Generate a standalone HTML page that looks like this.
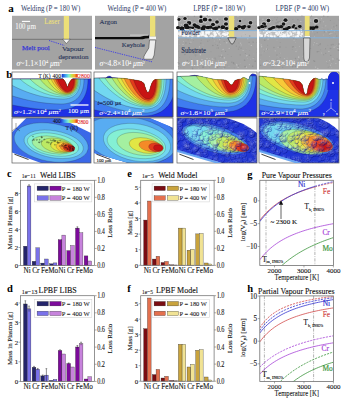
<!DOCTYPE html><html><head><meta charset="utf-8"><style>html,body{margin:0;padding:0;background:#fff;width:345px;height:400px;overflow:hidden}svg{display:block}</style></head><body><svg width="345" height="400" viewBox="0 0 345 400" font-family="Liberation Serif, serif">
<rect x="0" y="0" width="345" height="400" fill="#fff" />
<filter id="grain" x="0" y="0" width="100%" height="100%">
<feTurbulence type="fractalNoise" baseFrequency="0.9" numOctaves="1" seed="3" result="n"/>
<feColorMatrix in="n" type="matrix" values="0 0 0 0 0.5  0 0 0 0 0.5  0 0 0 0 0.5  0 0 0 0.22 0"/>
<feComposite in2="SourceGraphic" operator="in"/>
</filter>
<filter id="bl" x="-50%" y="-50%" width="200%" height="200%"><feGaussianBlur stdDeviation="0.35"/></filter>
<text x="8.3" y="11.6" font-size="11" fill="#000" text-anchor="start" font-weight="bold" >a</text>
<text x="21.1" y="11" font-size="8.2" fill="#2c3a66" stroke="#2c3a66" stroke-width="0.02" textLength="59.1" lengthAdjust="spacingAndGlyphs">Welding (P = 180 W)</text>
<text x="107.6" y="11" font-size="8.2" fill="#2c3a66" stroke="#2c3a66" stroke-width="0.02" textLength="58.7" lengthAdjust="spacingAndGlyphs">Welding (P = 400 W)</text>
<text x="193.3" y="11" font-size="8.2" fill="#2c3a66" stroke="#2c3a66" stroke-width="0.02" textLength="52.1" lengthAdjust="spacingAndGlyphs">LPBF (P = 180 W)</text>
<text x="275.4" y="11" font-size="8.2" fill="#2c3a66" stroke="#2c3a66" stroke-width="0.02" textLength="53.7" lengthAdjust="spacingAndGlyphs">LPBF (P = 400 W)</text>
<rect x="12" y="15.8" width="80" height="53.8" fill="#a3a3a3" />
<rect x="95" y="15.8" width="79" height="53.8" fill="#a3a3a3" />
<rect x="178" y="15.8" width="79" height="53.8" fill="#a3a3a3" />
<rect x="259" y="15.8" width="80" height="53.8" fill="#a3a3a3" />
<rect x="12" y="16" width="80" height="23.3" fill="#a9a9a9" />
<line x1="12" y1="39.3" x2="92" y2="39.3" stroke="#6e6e6e" stroke-width="0.9" />
<rect x="63.8" y="16" width="5.2" height="23.3" fill="#ecdf78" />
<path d="M62.6,39.2 L70.2,39.2 L66.4,43.6 Z" fill="#f2f2f2" stroke="#444" stroke-width="0.5"/>
<line x1="21.9" y1="21.4" x2="30.1" y2="21.4" stroke="#fff" stroke-width="1.1" />
<text x="15.3" y="28.6" font-size="7.6" fill="#f8f8f8" stroke="#f8f8f8" stroke-width="0.08" textLength="20.6" lengthAdjust="spacingAndGlyphs" >100 μm</text>
<text x="44.2" y="24.2" font-size="7.4" fill="#f0e278" stroke="#f0e278" stroke-width="0.05" textLength="15.6" lengthAdjust="spacingAndGlyphs" >Laser</text>
<line x1="49" y1="40.5" x2="64.5" y2="45.5" stroke="#3a3ae8" stroke-width="0.9" stroke-dasharray="1.3,1"/>
<text x="22" y="49.9" font-size="7.0" fill="#3a3ad4" stroke="#3a3ad4" stroke-width="0.25" textLength="27.8" lengthAdjust="spacingAndGlyphs" >Melt pool</text>
<text x="61.9" y="51.1" font-size="7.0" fill="#283458" stroke="#283458" stroke-width="0.1" textLength="22.0" lengthAdjust="spacingAndGlyphs" >Vapour</text>
<text x="58.4" y="58.6" font-size="7.0" fill="#283458" stroke="#283458" stroke-width="0.1" textLength="30.2" lengthAdjust="spacingAndGlyphs" >depression</text>
<text x="16.6" y="65.5" font-size="7.8" fill="#fff" stroke="#fff" stroke-width="0.05" textLength="45.3" lengthAdjust="spacingAndGlyphs"><tspan font-style="italic">σ</tspan>~1.1×10<tspan font-size="4.4" dy="-2.6">4</tspan><tspan dy="2.6"> </tspan><tspan font-style="italic">μ</tspan>m<tspan font-size="4.4" dy="-2.6">2</tspan></text>
<path d="M95,36.9 L140,36.9 Q144,35.6 149,35.6 L149,38.2 Q145,38.4 143,39.2 L95,39.2 Z" fill="#0c0c0c"/>
<line x1="130" y1="35.1" x2="148" y2="35.1" stroke="#e2e2e2" stroke-width="0.7" />
<rect x="150" y="16" width="5.3" height="20.6" fill="#ecdf78" />
<rect x="149.5" y="36.6" width="6.5" height="2.8" fill="#f6f6f6" />
<path d="M149.5,40 L155.8,40 L154.2,55 L152.5,59.2 L143.7,59.2 Q143.6,56 144.9,54.4 L148.8,48 Z" fill="#eeeeee" stroke="#3a3a3a" stroke-width="0.55"/>
<text x="99.6" y="23.7" font-size="6.8" fill="#283458" stroke="#283458" stroke-width="0.1" textLength="17.4" lengthAdjust="spacingAndGlyphs" >Argon</text>
<text x="121.7" y="47" font-size="7.0" fill="#283458" stroke="#283458" stroke-width="0.1" textLength="23.2" lengthAdjust="spacingAndGlyphs" >Keyhole</text>
<line x1="95" y1="47.4" x2="152" y2="61.8" stroke="#3a3ae8" stroke-width="0.9" stroke-dasharray="1.3,1"/>
<text x="99.6" y="66.2" font-size="7.8" fill="#fff" stroke="#fff" stroke-width="0.05" textLength="45.4" lengthAdjust="spacingAndGlyphs"><tspan font-style="italic">σ</tspan>~4.8×10<tspan font-size="4.4" dy="-2.6">4</tspan><tspan dy="2.6"> </tspan><tspan font-style="italic">μ</tspan>m<tspan font-size="4.4" dy="-2.6">2</tspan></text>
<rect x="178" y="30.6" width="79" height="7.2" fill="#bdbdbd" />
<circle cx="178.6" cy="30.3" r="0.85" fill="#fafafa" opacity="0.8"/>
<circle cx="213.6" cy="30.5" r="0.60" fill="#fafafa" opacity="0.8"/>
<circle cx="190.1" cy="35.2" r="0.63" fill="#fafafa" opacity="0.8"/>
<circle cx="216.5" cy="34.5" r="0.62" fill="#fafafa" opacity="0.8"/>
<circle cx="205.9" cy="32.9" r="0.87" fill="#fafafa" opacity="0.8"/>
<circle cx="229.8" cy="30.2" r="0.52" fill="#fafafa" opacity="0.8"/>
<circle cx="226.9" cy="32.5" r="0.68" fill="#fafafa" opacity="0.8"/>
<circle cx="195.2" cy="32.2" r="1.36" fill="#fafafa" opacity="0.8"/>
<circle cx="188.9" cy="31.1" r="1.03" fill="#fafafa" opacity="0.8"/>
<circle cx="206.5" cy="36.7" r="1.25" fill="#fafafa" opacity="0.8"/>
<circle cx="196.5" cy="31.0" r="1.25" fill="#fafafa" opacity="0.8"/>
<circle cx="229.4" cy="29.7" r="1.16" fill="#fafafa" opacity="0.8"/>
<circle cx="223.2" cy="34.4" r="0.70" fill="#fafafa" opacity="0.8"/>
<circle cx="219.4" cy="35.0" r="0.67" fill="#fafafa" opacity="0.8"/>
<circle cx="211.3" cy="31.1" r="0.54" fill="#fafafa" opacity="0.8"/>
<circle cx="195.5" cy="32.0" r="0.86" fill="#fafafa" opacity="0.8"/>
<circle cx="211.6" cy="35.8" r="1.37" fill="#fafafa" opacity="0.8"/>
<circle cx="228.8" cy="37.0" r="1.21" fill="#fafafa" opacity="0.8"/>
<circle cx="193.9" cy="30.8" r="1.06" fill="#fafafa" opacity="0.8"/>
<circle cx="206.4" cy="34.6" r="0.58" fill="#fafafa" opacity="0.8"/>
<circle cx="188.0" cy="36.4" r="1.04" fill="#fafafa" opacity="0.8"/>
<circle cx="214.2" cy="30.2" r="0.86" fill="#fafafa" opacity="0.8"/>
<circle cx="225.3" cy="34.4" r="1.39" fill="#fafafa" opacity="0.8"/>
<circle cx="188.2" cy="32.9" r="1.22" fill="#fafafa" opacity="0.8"/>
<circle cx="201.1" cy="35.4" r="1.01" fill="#fafafa" opacity="0.8"/>
<circle cx="184.1" cy="30.2" r="1.38" fill="#fafafa" opacity="0.8"/>
<circle cx="184.2" cy="31.0" r="0.80" fill="#fafafa" opacity="0.8"/>
<circle cx="215.1" cy="35.9" r="0.93" fill="#fafafa" opacity="0.8"/>
<circle cx="203.9" cy="35.4" r="0.75" fill="#fafafa" opacity="0.8"/>
<circle cx="197.4" cy="34.1" r="1.07" fill="#fafafa" opacity="0.8"/>
<circle cx="180.0" cy="30.3" r="0.62" fill="#fafafa" opacity="0.8"/>
<circle cx="215.7" cy="34.7" r="1.38" fill="#fafafa" opacity="0.8"/>
<circle cx="217.9" cy="31.4" r="1.19" fill="#fafafa" opacity="0.8"/>
<circle cx="229.2" cy="32.1" r="0.51" fill="#fafafa" opacity="0.8"/>
<circle cx="197.5" cy="31.6" r="0.66" fill="#fafafa" opacity="0.8"/>
<circle cx="180.3" cy="30.4" r="1.28" fill="#fafafa" opacity="0.8"/>
<circle cx="180.6" cy="34.1" r="0.69" fill="#fafafa" opacity="0.8"/>
<circle cx="188.1" cy="35.7" r="0.77" fill="#fafafa" opacity="0.8"/>
<circle cx="187.6" cy="32.9" r="1.13" fill="#fafafa" opacity="0.8"/>
<circle cx="205.3" cy="35.9" r="0.86" fill="#fafafa" opacity="0.8"/>
<circle cx="205.3" cy="34.9" r="0.92" fill="#fafafa" opacity="0.8"/>
<circle cx="215.3" cy="33.0" r="0.62" fill="#fafafa" opacity="0.8"/>
<circle cx="184.4" cy="35.4" r="1.17" fill="#fafafa" opacity="0.8"/>
<circle cx="227.0" cy="34.7" r="1.02" fill="#fafafa" opacity="0.8"/>
<circle cx="186.6" cy="35.9" r="0.61" fill="#fafafa" opacity="0.8"/>
<circle cx="200.1" cy="30.6" r="0.84" fill="#fafafa" opacity="0.8"/>
<circle cx="194.0" cy="32.7" r="1.14" fill="#fafafa" opacity="0.8"/>
<circle cx="206.2" cy="31.3" r="1.20" fill="#fafafa" opacity="0.8"/>
<circle cx="216.2" cy="35.7" r="0.53" fill="#fafafa" opacity="0.8"/>
<circle cx="210.0" cy="36.2" r="0.73" fill="#fafafa" opacity="0.8"/>
<circle cx="188.5" cy="35.6" r="0.83" fill="#fafafa" opacity="0.8"/>
<circle cx="198.9" cy="35.6" r="0.85" fill="#fafafa" opacity="0.8"/>
<circle cx="188.3" cy="31.1" r="0.81" fill="#fafafa" opacity="0.8"/>
<circle cx="214.3" cy="32.3" r="1.19" fill="#fafafa" opacity="0.8"/>
<circle cx="181.4" cy="31.4" r="1.06" fill="#fafafa" opacity="0.8"/>
<circle cx="202.9" cy="33.2" r="1.34" fill="#fafafa" opacity="0.8"/>
<circle cx="192.4" cy="30.9" r="0.53" fill="#fafafa" opacity="0.8"/>
<circle cx="203.1" cy="31.7" r="0.93" fill="#fafafa" opacity="0.8"/>
<circle cx="178.3" cy="29.5" r="0.84" fill="#fafafa" opacity="0.8"/>
<circle cx="217.4" cy="31.8" r="1.32" fill="#fafafa" opacity="0.8"/>
<circle cx="208.1" cy="32.5" r="1.20" fill="#fafafa" opacity="0.8"/>
<circle cx="190.1" cy="34.0" r="1.26" fill="#fafafa" opacity="0.8"/>
<circle cx="206.1" cy="31.9" r="0.59" fill="#fafafa" opacity="0.8"/>
<circle cx="207.9" cy="30.9" r="0.84" fill="#fafafa" opacity="0.8"/>
<circle cx="206.2" cy="36.6" r="1.11" fill="#fafafa" opacity="0.8"/>
<circle cx="205.0" cy="35.9" r="0.78" fill="#fafafa" opacity="0.8"/>
<circle cx="198.2" cy="34.6" r="1.00" fill="#fafafa" opacity="0.8"/>
<circle cx="189.5" cy="32.6" r="1.24" fill="#fafafa" opacity="0.8"/>
<circle cx="190.6" cy="34.8" r="0.54" fill="#fafafa" opacity="0.8"/>
<circle cx="227.6" cy="34.6" r="0.79" fill="#fafafa" opacity="0.8"/>
<circle cx="229.1" cy="35.5" r="0.56" fill="#fafafa" opacity="0.8"/>
<circle cx="190.9" cy="33.2" r="1.40" fill="#fafafa" opacity="0.8"/>
<circle cx="185.3" cy="29.9" r="0.78" fill="#fafafa" opacity="0.8"/>
<circle cx="180.3" cy="32.6" r="0.98" fill="#fafafa" opacity="0.8"/>
<circle cx="200.9" cy="30.6" r="0.52" fill="#fafafa" opacity="0.8"/>
<circle cx="219.7" cy="32.8" r="0.93" fill="#fafafa" opacity="0.8"/>
<circle cx="202.9" cy="34.6" r="1.31" fill="#fafafa" opacity="0.8"/>
<circle cx="221.0" cy="35.0" r="0.80" fill="#fafafa" opacity="0.8"/>
<circle cx="186.8" cy="30.2" r="1.27" fill="#fafafa" opacity="0.8"/>
<circle cx="181.0" cy="33.8" r="1.32" fill="#fafafa" opacity="0.8"/>
<circle cx="194.8" cy="32.4" r="0.88" fill="#fafafa" opacity="0.8"/>
<circle cx="227.1" cy="34.6" r="1.25" fill="#fafafa" opacity="0.8"/>
<circle cx="180.0" cy="35.0" r="0.91" fill="#fafafa" opacity="0.8"/>
<circle cx="198.9" cy="35.6" r="1.16" fill="#fafafa" opacity="0.8"/>
<circle cx="225.3" cy="35.0" r="1.32" fill="#fafafa" opacity="0.8"/>
<circle cx="200.3" cy="33.7" r="1.21" fill="#fafafa" opacity="0.8"/>
<circle cx="201.6" cy="30.5" r="1.03" fill="#fafafa" opacity="0.8"/>
<circle cx="223.3" cy="36.0" r="0.61" fill="#fafafa" opacity="0.8"/>
<circle cx="197.8" cy="31.2" r="0.81" fill="#fafafa" opacity="0.8"/>
<circle cx="227.9" cy="32.7" r="0.78" fill="#fafafa" opacity="0.8"/>
<circle cx="192.2" cy="32.8" r="1.10" fill="#fafafa" opacity="0.8"/>
<circle cx="195.8" cy="30.9" r="0.70" fill="#fafafa" opacity="0.8"/>
<circle cx="191.5" cy="36.3" r="0.65" fill="#fafafa" opacity="0.8"/>
<circle cx="217.2" cy="30.3" r="1.21" fill="#fafafa" opacity="0.8"/>
<circle cx="191.8" cy="35.3" r="0.89" fill="#fafafa" opacity="0.8"/>
<circle cx="182.1" cy="30.2" r="1.22" fill="#fafafa" opacity="0.8"/>
<circle cx="206.2" cy="33.1" r="0.82" fill="#fafafa" opacity="0.8"/>
<circle cx="214.0" cy="33.1" r="0.56" fill="#fafafa" opacity="0.8"/>
<circle cx="209.3" cy="31.9" r="1.26" fill="#fafafa" opacity="0.8"/>
<circle cx="206.5" cy="35.3" r="0.61" fill="#fafafa" opacity="0.8"/>
<circle cx="214.8" cy="34.1" r="1.27" fill="#fafafa" opacity="0.8"/>
<circle cx="224.0" cy="33.6" r="1.03" fill="#fafafa" opacity="0.8"/>
<circle cx="217.9" cy="31.5" r="0.99" fill="#fafafa" opacity="0.8"/>
<circle cx="218.9" cy="34.0" r="0.99" fill="#fafafa" opacity="0.8"/>
<circle cx="222.5" cy="36.8" r="0.73" fill="#fafafa" opacity="0.8"/>
<circle cx="181.9" cy="34.1" r="0.63" fill="#fafafa" opacity="0.8"/>
<circle cx="228.4" cy="33.1" r="0.98" fill="#fafafa" opacity="0.8"/>
<circle cx="220.5" cy="36.0" r="0.63" fill="#fafafa" opacity="0.8"/>
<circle cx="201.6" cy="30.9" r="0.91" fill="#fafafa" opacity="0.8"/>
<circle cx="184.9" cy="36.1" r="0.82" fill="#fafafa" opacity="0.8"/>
<circle cx="198.2" cy="36.2" r="1.24" fill="#fafafa" opacity="0.8"/>
<circle cx="195.5" cy="33.2" r="1.10" fill="#fafafa" opacity="0.8"/>
<circle cx="187.8" cy="30.5" r="1.27" fill="#fafafa" opacity="0.8"/>
<circle cx="186.4" cy="34.8" r="1.16" fill="#fafafa" opacity="0.8"/>
<circle cx="208.8" cy="32.1" r="1.27" fill="#fafafa" opacity="0.8"/>
<circle cx="218.9" cy="30.0" r="1.31" fill="#fafafa" opacity="0.8"/>
<circle cx="211.1" cy="31.7" r="0.65" fill="#fafafa" opacity="0.8"/>
<circle cx="183.1" cy="35.6" r="1.26" fill="#fafafa" opacity="0.8"/>
<circle cx="196.1" cy="30.8" r="0.57" fill="#fafafa" opacity="0.8"/>
<circle cx="199.5" cy="31.7" r="0.55" fill="#fafafa" opacity="0.8"/>
<circle cx="193.5" cy="35.7" r="0.56" fill="#fafafa" opacity="0.8"/>
<circle cx="199.0" cy="33.4" r="0.65" fill="#fafafa" opacity="0.8"/>
<circle cx="179.9" cy="30.1" r="0.63" fill="#fafafa" opacity="0.8"/>
<circle cx="228.7" cy="36.0" r="1.13" fill="#fafafa" opacity="0.8"/>
<circle cx="224.8" cy="31.9" r="0.72" fill="#fafafa" opacity="0.8"/>
<circle cx="223.2" cy="34.0" r="1.33" fill="#fafafa" opacity="0.8"/>
<circle cx="196.7" cy="32.6" r="1.15" fill="#fafafa" opacity="0.8"/>
<circle cx="223.9" cy="30.7" r="0.74" fill="#fafafa" opacity="0.8"/>
<circle cx="178.7" cy="33.7" r="1.33" fill="#fafafa" opacity="0.8"/>
<circle cx="207.5" cy="30.6" r="1.12" fill="#fafafa" opacity="0.8"/>
<circle cx="211.8" cy="30.3" r="1.32" fill="#fafafa" opacity="0.8"/>
<circle cx="212.3" cy="33.2" r="0.81" fill="#fafafa" opacity="0.8"/>
<circle cx="186.3" cy="33.0" r="0.83" fill="#fafafa" opacity="0.8"/>
<circle cx="190.1" cy="34.3" r="1.10" fill="#fafafa" opacity="0.8"/>
<circle cx="227.6" cy="36.8" r="0.92" fill="#fafafa" opacity="0.8"/>
<circle cx="215.2" cy="32.3" r="0.89" fill="#fafafa" opacity="0.8"/>
<circle cx="207.5" cy="36.9" r="0.54" fill="#fafafa" opacity="0.8"/>
<circle cx="202.1" cy="32.0" r="1.22" fill="#fafafa" opacity="0.8"/>
<circle cx="227.4" cy="33.0" r="0.57" fill="#fafafa" opacity="0.8"/>
<circle cx="208.9" cy="33.9" r="1.11" fill="#fafafa" opacity="0.8"/>
<circle cx="218.4" cy="33.0" r="0.99" fill="#fafafa" opacity="0.8"/>
<circle cx="217.9" cy="29.7" r="0.72" fill="#fafafa" opacity="0.8"/>
<circle cx="213.8" cy="36.8" r="1.35" fill="#fafafa" opacity="0.8"/>
<circle cx="192.7" cy="36.8" r="0.75" fill="#fafafa" opacity="0.8"/>
<circle cx="201.5" cy="30.7" r="1.04" fill="#fafafa" opacity="0.8"/>
<circle cx="198.4" cy="34.6" r="1.36" fill="#fafafa" opacity="0.8"/>
<circle cx="184.6" cy="34.4" r="1.04" fill="#fafafa" opacity="0.8"/>
<circle cx="192.3" cy="29.8" r="1.35" fill="#fafafa" opacity="0.8"/>
<circle cx="214.1" cy="34.2" r="0.59" fill="#fafafa" opacity="0.8"/>
<circle cx="224.8" cy="32.5" r="0.92" fill="#fafafa" opacity="0.8"/>
<circle cx="206.9" cy="32.8" r="1.36" fill="#fafafa" opacity="0.8"/>
<circle cx="202.3" cy="34.6" r="1.20" fill="#fafafa" opacity="0.8"/>
<circle cx="226.5" cy="30.8" r="0.81" fill="#fafafa" opacity="0.8"/>
<circle cx="227.4" cy="34.0" r="0.84" fill="#fafafa" opacity="0.8"/>
<circle cx="223.8" cy="30.4" r="0.73" fill="#fafafa" opacity="0.8"/>
<circle cx="181.6" cy="34.5" r="0.94" fill="#fafafa" opacity="0.8"/>
<circle cx="193.8" cy="32.8" r="0.73" fill="#fafafa" opacity="0.8"/>
<circle cx="214.9" cy="35.2" r="0.84" fill="#fafafa" opacity="0.8"/>
<circle cx="223.2" cy="29.8" r="1.01" fill="#fafafa" opacity="0.8"/>
<circle cx="186.0" cy="30.4" r="1.00" fill="#fafafa" opacity="0.8"/>
<circle cx="184.1" cy="27.3" r="0.45" fill="#8e8e8e" opacity="0.8"/>
<circle cx="249.1" cy="42.3" r="0.66" fill="#8e8e8e" opacity="0.8"/>
<circle cx="185.9" cy="43.0" r="0.72" fill="#8e8e8e" opacity="0.8"/>
<circle cx="219.3" cy="66.1" r="0.74" fill="#8e8e8e" opacity="0.8"/>
<circle cx="207.3" cy="16.0" r="0.68" fill="#8e8e8e" opacity="0.8"/>
<circle cx="188.0" cy="16.5" r="0.67" fill="#8e8e8e" opacity="0.8"/>
<circle cx="244.6" cy="60.3" r="0.78" fill="#8e8e8e" opacity="0.8"/>
<circle cx="193.9" cy="20.3" r="0.36" fill="#8e8e8e" opacity="0.8"/>
<circle cx="255.2" cy="21.9" r="0.38" fill="#8e8e8e" opacity="0.8"/>
<circle cx="179.6" cy="18.6" r="0.32" fill="#8e8e8e" opacity="0.8"/>
<circle cx="205.9" cy="24.7" r="0.45" fill="#8e8e8e" opacity="0.8"/>
<circle cx="251.4" cy="24.9" r="0.71" fill="#8e8e8e" opacity="0.8"/>
<circle cx="236.3" cy="46.1" r="0.59" fill="#8e8e8e" opacity="0.8"/>
<circle cx="238.8" cy="47.1" r="0.41" fill="#8e8e8e" opacity="0.8"/>
<circle cx="204.0" cy="28.9" r="0.50" fill="#8e8e8e" opacity="0.8"/>
<circle cx="256.0" cy="38.6" r="0.33" fill="#8e8e8e" opacity="0.8"/>
<circle cx="215.7" cy="59.1" r="0.52" fill="#8e8e8e" opacity="0.8"/>
<circle cx="233.5" cy="20.8" r="0.33" fill="#8e8e8e" opacity="0.8"/>
<circle cx="230.3" cy="18.6" r="0.45" fill="#8e8e8e" opacity="0.8"/>
<circle cx="208.4" cy="26.3" r="0.32" fill="#8e8e8e" opacity="0.8"/>
<circle cx="178.5" cy="66.4" r="0.64" fill="#8e8e8e" opacity="0.8"/>
<circle cx="253.2" cy="42.1" r="0.78" fill="#8e8e8e" opacity="0.8"/>
<circle cx="246.1" cy="48.8" r="0.56" fill="#8e8e8e" opacity="0.8"/>
<circle cx="218.2" cy="27.9" r="0.49" fill="#8e8e8e" opacity="0.8"/>
<circle cx="235.1" cy="26.3" r="0.72" fill="#8e8e8e" opacity="0.8"/>
<circle cx="218.3" cy="48.0" r="0.71" fill="#8e8e8e" opacity="0.8"/>
<circle cx="229.0" cy="23.3" r="0.42" fill="#8e8e8e" opacity="0.8"/>
<circle cx="178.1" cy="17.5" r="0.78" fill="#8e8e8e" opacity="0.8"/>
<circle cx="224.8" cy="67.3" r="0.69" fill="#8e8e8e" opacity="0.8"/>
<circle cx="202.9" cy="67.3" r="0.76" fill="#8e8e8e" opacity="0.8"/>
<circle cx="214.0" cy="20.4" r="0.46" fill="#8e8e8e" opacity="0.8"/>
<circle cx="191.1" cy="35.4" r="0.34" fill="#8e8e8e" opacity="0.8"/>
<circle cx="234.3" cy="67.9" r="0.41" fill="#8e8e8e" opacity="0.8"/>
<circle cx="239.6" cy="47.0" r="0.54" fill="#8e8e8e" opacity="0.8"/>
<circle cx="249.7" cy="36.0" r="0.71" fill="#8e8e8e" opacity="0.8"/>
<circle cx="180.7" cy="67.2" r="0.39" fill="#8e8e8e" opacity="0.8"/>
<circle cx="178.3" cy="62.7" r="0.66" fill="#8e8e8e" opacity="0.8"/>
<circle cx="231.3" cy="56.6" r="0.49" fill="#8e8e8e" opacity="0.8"/>
<circle cx="187.0" cy="32.9" r="0.78" fill="#8e8e8e" opacity="0.8"/>
<circle cx="255.5" cy="28.2" r="0.52" fill="#8e8e8e" opacity="0.8"/>
<circle cx="213.6" cy="63.9" r="0.30" fill="#8e8e8e" opacity="0.8"/>
<circle cx="243.5" cy="29.4" r="0.57" fill="#8e8e8e" opacity="0.8"/>
<circle cx="188.2" cy="20.5" r="0.74" fill="#8e8e8e" opacity="0.8"/>
<circle cx="217.7" cy="67.5" r="0.73" fill="#8e8e8e" opacity="0.8"/>
<circle cx="237.4" cy="20.0" r="0.59" fill="#8e8e8e" opacity="0.8"/>
<circle cx="256.4" cy="42.7" r="0.33" fill="#8e8e8e" opacity="0.8"/>
<circle cx="192.6" cy="68.4" r="0.79" fill="#8e8e8e" opacity="0.8"/>
<circle cx="197.5" cy="32.9" r="0.66" fill="#8e8e8e" opacity="0.8"/>
<circle cx="218.1" cy="25.8" r="0.79" fill="#8e8e8e" opacity="0.8"/>
<circle cx="227.0" cy="35.4" r="0.31" fill="#8e8e8e" opacity="0.8"/>
<circle cx="218.3" cy="55.9" r="0.39" fill="#8e8e8e" opacity="0.8"/>
<circle cx="184.9" cy="54.4" r="0.76" fill="#8e8e8e" opacity="0.8"/>
<circle cx="207.8" cy="41.1" r="0.62" fill="#8e8e8e" opacity="0.8"/>
<circle cx="219.1" cy="22.8" r="0.44" fill="#8e8e8e" opacity="0.8"/>
<circle cx="194.3" cy="26.5" r="0.34" fill="#8e8e8e" opacity="0.8"/>
<circle cx="208.9" cy="27.6" r="0.72" fill="#8e8e8e" opacity="0.8"/>
<circle cx="203.4" cy="67.0" r="0.71" fill="#8e8e8e" opacity="0.8"/>
<circle cx="199.3" cy="24.2" r="0.59" fill="#8e8e8e" opacity="0.8"/>
<circle cx="215.4" cy="44.4" r="0.36" fill="#8e8e8e" opacity="0.8"/>
<circle cx="220.0" cy="56.2" r="0.52" fill="#8e8e8e" opacity="0.8"/>
<circle cx="198.2" cy="64.9" r="0.45" fill="#8e8e8e" opacity="0.8"/>
<circle cx="256.6" cy="52.5" r="0.30" fill="#8e8e8e" opacity="0.8"/>
<circle cx="213.3" cy="23.9" r="0.69" fill="#8e8e8e" opacity="0.8"/>
<circle cx="211.3" cy="20.5" r="0.78" fill="#8e8e8e" opacity="0.8"/>
<circle cx="241.1" cy="48.2" r="0.58" fill="#8e8e8e" opacity="0.8"/>
<circle cx="183.9" cy="68.1" r="0.45" fill="#8e8e8e" opacity="0.8"/>
<circle cx="219.4" cy="42.0" r="0.54" fill="#8e8e8e" opacity="0.8"/>
<circle cx="179.4" cy="63.3" r="0.55" fill="#8e8e8e" opacity="0.8"/>
<circle cx="209.1" cy="61.6" r="0.73" fill="#8e8e8e" opacity="0.8"/>
<circle cx="234.8" cy="64.1" r="0.47" fill="#8e8e8e" opacity="0.8"/>
<circle cx="186.3" cy="34.4" r="0.60" fill="#8e8e8e" opacity="0.8"/>
<circle cx="240.2" cy="54.9" r="0.61" fill="#8e8e8e" opacity="0.8"/>
<circle cx="225.5" cy="51.3" r="0.59" fill="#8e8e8e" opacity="0.8"/>
<circle cx="179.2" cy="45.0" r="0.44" fill="#8e8e8e" opacity="0.8"/>
<circle cx="183.7" cy="48.5" r="0.72" fill="#8e8e8e" opacity="0.8"/>
<circle cx="200.3" cy="51.5" r="0.61" fill="#8e8e8e" opacity="0.8"/>
<circle cx="231.8" cy="62.2" r="0.65" fill="#8e8e8e" opacity="0.8"/>
<circle cx="184.3" cy="48.7" r="0.47" fill="#8e8e8e" opacity="0.8"/>
<circle cx="210.9" cy="51.8" r="0.39" fill="#8e8e8e" opacity="0.8"/>
<circle cx="227.5" cy="65.7" r="0.34" fill="#8e8e8e" opacity="0.8"/>
<circle cx="245.3" cy="53.5" r="0.50" fill="#8e8e8e" opacity="0.8"/>
<circle cx="238.5" cy="20.2" r="0.38" fill="#8e8e8e" opacity="0.8"/>
<circle cx="256.8" cy="49.0" r="0.38" fill="#8e8e8e" opacity="0.8"/>
<circle cx="188.2" cy="39.7" r="0.57" fill="#8e8e8e" opacity="0.8"/>
<circle cx="256.2" cy="25.9" r="0.62" fill="#8e8e8e" opacity="0.8"/>
<circle cx="212.8" cy="45.5" r="0.77" fill="#8e8e8e" opacity="0.8"/>
<circle cx="187.3" cy="60.3" r="0.67" fill="#8e8e8e" opacity="0.8"/>
<circle cx="199.1" cy="22.4" r="0.67" fill="#8e8e8e" opacity="0.8"/>
<circle cx="245.4" cy="34.3" r="0.37" fill="#8e8e8e" opacity="0.8"/>
<circle cx="221.9" cy="51.5" r="0.48" fill="#8e8e8e" opacity="0.8"/>
<circle cx="210.5" cy="21.4" r="0.37" fill="#8e8e8e" opacity="0.8"/>
<circle cx="195.6" cy="56.2" r="0.36" fill="#8e8e8e" opacity="0.8"/>
<circle cx="193.6" cy="40.6" r="0.41" fill="#8e8e8e" opacity="0.8"/>
<circle cx="196.9" cy="55.0" r="0.42" fill="#8e8e8e" opacity="0.8"/>
<circle cx="222.4" cy="20.5" r="0.56" fill="#8e8e8e" opacity="0.8"/>
<circle cx="233.2" cy="39.7" r="0.39" fill="#8e8e8e" opacity="0.8"/>
<circle cx="180.4" cy="30.6" r="0.50" fill="#8e8e8e" opacity="0.8"/>
<circle cx="186.0" cy="38.6" r="0.55" fill="#8e8e8e" opacity="0.8"/>
<circle cx="183.1" cy="51.2" r="0.78" fill="#8e8e8e" opacity="0.8"/>
<circle cx="233.5" cy="39.8" r="0.72" fill="#8e8e8e" opacity="0.8"/>
<circle cx="252.7" cy="66.3" r="0.78" fill="#8e8e8e" opacity="0.8"/>
<circle cx="238.5" cy="66.0" r="0.68" fill="#8e8e8e" opacity="0.8"/>
<circle cx="203.7" cy="23.1" r="0.54" fill="#8e8e8e" opacity="0.8"/>
<circle cx="233.5" cy="30.3" r="0.48" fill="#8e8e8e" opacity="0.8"/>
<circle cx="184.5" cy="18.2" r="0.43" fill="#8e8e8e" opacity="0.8"/>
<circle cx="245.0" cy="19.2" r="0.37" fill="#8e8e8e" opacity="0.8"/>
<circle cx="209.6" cy="67.3" r="0.41" fill="#8e8e8e" opacity="0.8"/>
<circle cx="181.5" cy="18.6" r="0.47" fill="#8e8e8e" opacity="0.8"/>
<circle cx="178.4" cy="51.5" r="0.33" fill="#8e8e8e" opacity="0.8"/>
<circle cx="193.0" cy="20.1" r="0.44" fill="#8e8e8e" opacity="0.8"/>
<circle cx="185.0" cy="24.7" r="0.40" fill="#8e8e8e" opacity="0.8"/>
<circle cx="196.4" cy="49.6" r="0.48" fill="#8e8e8e" opacity="0.8"/>
<circle cx="194.4" cy="16.6" r="0.73" fill="#8e8e8e" opacity="0.8"/>
<circle cx="245.4" cy="66.3" r="0.65" fill="#8e8e8e" opacity="0.8"/>
<circle cx="212.2" cy="33.4" r="0.40" fill="#8e8e8e" opacity="0.8"/>
<circle cx="212.8" cy="38.2" r="0.77" fill="#8e8e8e" opacity="0.8"/>
<circle cx="193.8" cy="53.0" r="0.67" fill="#8e8e8e" opacity="0.8"/>
<circle cx="230.0" cy="48.5" r="0.32" fill="#8e8e8e" opacity="0.8"/>
<circle cx="189.6" cy="43.5" r="0.60" fill="#8e8e8e" opacity="0.8"/>
<circle cx="254.0" cy="57.6" r="0.41" fill="#8e8e8e" opacity="0.8"/>
<circle cx="189.7" cy="57.0" r="0.31" fill="#8e8e8e" opacity="0.8"/>
<circle cx="250.0" cy="20.6" r="0.60" fill="#8e8e8e" opacity="0.8"/>
<circle cx="244.8" cy="20.5" r="0.35" fill="#8e8e8e" opacity="0.8"/>
<circle cx="227.9" cy="54.2" r="0.31" fill="#8e8e8e" opacity="0.8"/>
<circle cx="215.0" cy="58.1" r="0.69" fill="#8e8e8e" opacity="0.8"/>
<circle cx="209.1" cy="16.4" r="0.61" fill="#8e8e8e" opacity="0.8"/>
<circle cx="220.4" cy="38.4" r="0.60" fill="#8e8e8e" opacity="0.8"/>
<circle cx="224.2" cy="41.5" r="0.57" fill="#8e8e8e" opacity="0.8"/>
<circle cx="222.4" cy="56.9" r="0.70" fill="#8e8e8e" opacity="0.8"/>
<circle cx="179.7" cy="57.6" r="0.42" fill="#8e8e8e" opacity="0.8"/>
<circle cx="211.3" cy="27.5" r="0.45" fill="#8e8e8e" opacity="0.8"/>
<circle cx="209.5" cy="40.1" r="0.35" fill="#8e8e8e" opacity="0.8"/>
<circle cx="201.2" cy="40.2" r="0.49" fill="#8e8e8e" opacity="0.8"/>
<circle cx="219.9" cy="19.7" r="0.58" fill="#8e8e8e" opacity="0.8"/>
<circle cx="249.5" cy="55.2" r="0.58" fill="#8e8e8e" opacity="0.8"/>
<circle cx="241.7" cy="36.1" r="0.39" fill="#8e8e8e" opacity="0.8"/>
<circle cx="226.4" cy="29.0" r="0.44" fill="#8e8e8e" opacity="0.8"/>
<circle cx="238.7" cy="43.0" r="0.39" fill="#8e8e8e" opacity="0.8"/>
<circle cx="195.1" cy="54.9" r="0.63" fill="#8e8e8e" opacity="0.8"/>
<circle cx="249.0" cy="55.2" r="0.44" fill="#8e8e8e" opacity="0.8"/>
<circle cx="233.5" cy="62.7" r="0.74" fill="#8e8e8e" opacity="0.8"/>
<circle cx="250.1" cy="23.7" r="0.42" fill="#8e8e8e" opacity="0.8"/>
<circle cx="191.7" cy="59.3" r="0.65" fill="#8e8e8e" opacity="0.8"/>
<circle cx="222.1" cy="26.4" r="0.51" fill="#8e8e8e" opacity="0.8"/>
<circle cx="232.5" cy="17.7" r="0.75" fill="#8e8e8e" opacity="0.8"/>
<circle cx="233.6" cy="63.4" r="0.77" fill="#8e8e8e" opacity="0.8"/>
<circle cx="218.7" cy="32.0" r="0.49" fill="#8e8e8e" opacity="0.8"/>
<circle cx="216.5" cy="48.1" r="0.44" fill="#8e8e8e" opacity="0.8"/>
<circle cx="200.8" cy="43.2" r="0.67" fill="#8e8e8e" opacity="0.8"/>
<circle cx="179.1" cy="63.8" r="0.62" fill="#8e8e8e" opacity="0.8"/>
<circle cx="217.6" cy="45.4" r="0.71" fill="#8e8e8e" opacity="0.8"/>
<circle cx="211.9" cy="33.2" r="0.35" fill="#8e8e8e" opacity="0.8"/>
<circle cx="204.4" cy="19.2" r="0.43" fill="#8e8e8e" opacity="0.8"/>
<circle cx="228.7" cy="35.0" r="0.76" fill="#8e8e8e" opacity="0.8"/>
<circle cx="215.1" cy="60.3" r="0.40" fill="#8e8e8e" opacity="0.8"/>
<circle cx="255.2" cy="61.2" r="0.75" fill="#8e8e8e" opacity="0.8"/>
<circle cx="241.6" cy="43.5" r="0.38" fill="#8e8e8e" opacity="0.8"/>
<circle cx="244.6" cy="66.7" r="0.53" fill="#8e8e8e" opacity="0.8"/>
<circle cx="238.5" cy="49.1" r="0.69" fill="#8e8e8e" opacity="0.8"/>
<circle cx="249.8" cy="50.5" r="0.37" fill="#8e8e8e" opacity="0.8"/>
<circle cx="223.1" cy="49.5" r="0.71" fill="#c2c2c2" opacity="0.8"/>
<circle cx="199.9" cy="50.5" r="0.75" fill="#c2c2c2" opacity="0.8"/>
<circle cx="249.8" cy="25.9" r="0.63" fill="#c2c2c2" opacity="0.8"/>
<circle cx="226.8" cy="42.7" r="0.78" fill="#c2c2c2" opacity="0.8"/>
<circle cx="219.7" cy="39.6" r="0.77" fill="#c2c2c2" opacity="0.8"/>
<circle cx="228.2" cy="32.0" r="0.45" fill="#c2c2c2" opacity="0.8"/>
<circle cx="217.2" cy="18.8" r="0.60" fill="#c2c2c2" opacity="0.8"/>
<circle cx="236.1" cy="38.6" r="0.72" fill="#c2c2c2" opacity="0.8"/>
<circle cx="251.3" cy="45.4" r="0.64" fill="#c2c2c2" opacity="0.8"/>
<circle cx="187.3" cy="19.0" r="0.79" fill="#c2c2c2" opacity="0.8"/>
<circle cx="200.5" cy="27.3" r="0.75" fill="#c2c2c2" opacity="0.8"/>
<circle cx="237.2" cy="22.5" r="0.46" fill="#c2c2c2" opacity="0.8"/>
<circle cx="197.2" cy="30.5" r="0.30" fill="#c2c2c2" opacity="0.8"/>
<circle cx="219.5" cy="32.1" r="0.50" fill="#c2c2c2" opacity="0.8"/>
<circle cx="192.6" cy="21.8" r="0.32" fill="#c2c2c2" opacity="0.8"/>
<circle cx="246.9" cy="55.6" r="0.58" fill="#c2c2c2" opacity="0.8"/>
<circle cx="187.8" cy="23.9" r="0.36" fill="#c2c2c2" opacity="0.8"/>
<circle cx="203.0" cy="19.1" r="0.44" fill="#c2c2c2" opacity="0.8"/>
<circle cx="194.0" cy="26.2" r="0.63" fill="#c2c2c2" opacity="0.8"/>
<circle cx="214.2" cy="41.1" r="0.48" fill="#c2c2c2" opacity="0.8"/>
<circle cx="220.6" cy="57.6" r="0.45" fill="#c2c2c2" opacity="0.8"/>
<circle cx="183.5" cy="41.5" r="0.49" fill="#c2c2c2" opacity="0.8"/>
<circle cx="239.7" cy="21.9" r="0.74" fill="#c2c2c2" opacity="0.8"/>
<circle cx="179.2" cy="44.7" r="0.52" fill="#c2c2c2" opacity="0.8"/>
<circle cx="202.9" cy="63.1" r="0.65" fill="#c2c2c2" opacity="0.8"/>
<circle cx="190.9" cy="42.2" r="0.61" fill="#c2c2c2" opacity="0.8"/>
<circle cx="180.6" cy="20.6" r="0.60" fill="#c2c2c2" opacity="0.8"/>
<circle cx="235.6" cy="40.5" r="0.51" fill="#c2c2c2" opacity="0.8"/>
<circle cx="218.0" cy="29.8" r="0.74" fill="#c2c2c2" opacity="0.8"/>
<circle cx="254.0" cy="41.5" r="0.31" fill="#c2c2c2" opacity="0.8"/>
<circle cx="209.4" cy="58.6" r="0.46" fill="#c2c2c2" opacity="0.8"/>
<circle cx="186.3" cy="25.8" r="0.66" fill="#c2c2c2" opacity="0.8"/>
<circle cx="227.1" cy="31.2" r="0.61" fill="#c2c2c2" opacity="0.8"/>
<circle cx="238.1" cy="67.2" r="0.72" fill="#c2c2c2" opacity="0.8"/>
<circle cx="212.3" cy="58.9" r="0.76" fill="#c2c2c2" opacity="0.8"/>
<circle cx="246.6" cy="55.8" r="0.59" fill="#c2c2c2" opacity="0.8"/>
<circle cx="218.4" cy="61.1" r="0.61" fill="#c2c2c2" opacity="0.8"/>
<circle cx="235.0" cy="28.1" r="0.35" fill="#c2c2c2" opacity="0.8"/>
<circle cx="199.4" cy="46.9" r="0.59" fill="#c2c2c2" opacity="0.8"/>
<circle cx="193.7" cy="26.0" r="0.78" fill="#c2c2c2" opacity="0.8"/>
<circle cx="183.6" cy="65.1" r="0.69" fill="#c2c2c2" opacity="0.8"/>
<circle cx="223.3" cy="68.8" r="0.64" fill="#c2c2c2" opacity="0.8"/>
<circle cx="178.5" cy="65.8" r="0.51" fill="#c2c2c2" opacity="0.8"/>
<circle cx="250.4" cy="59.1" r="0.37" fill="#c2c2c2" opacity="0.8"/>
<circle cx="181.1" cy="17.1" r="0.69" fill="#c2c2c2" opacity="0.8"/>
<circle cx="240.5" cy="28.1" r="0.36" fill="#c2c2c2" opacity="0.8"/>
<circle cx="207.0" cy="58.4" r="0.67" fill="#c2c2c2" opacity="0.8"/>
<circle cx="246.5" cy="67.3" r="0.68" fill="#c2c2c2" opacity="0.8"/>
<circle cx="244.0" cy="16.9" r="0.30" fill="#c2c2c2" opacity="0.8"/>
<circle cx="246.1" cy="48.8" r="0.46" fill="#c2c2c2" opacity="0.8"/>
<circle cx="188.1" cy="33.6" r="0.47" fill="#c2c2c2" opacity="0.8"/>
<circle cx="217.2" cy="39.8" r="0.40" fill="#c2c2c2" opacity="0.8"/>
<circle cx="184.5" cy="26.8" r="0.36" fill="#c2c2c2" opacity="0.8"/>
<circle cx="185.9" cy="38.0" r="0.37" fill="#c2c2c2" opacity="0.8"/>
<circle cx="241.2" cy="44.9" r="0.53" fill="#c2c2c2" opacity="0.8"/>
<circle cx="228.5" cy="28.4" r="0.31" fill="#c2c2c2" opacity="0.8"/>
<circle cx="184.2" cy="33.9" r="0.48" fill="#c2c2c2" opacity="0.8"/>
<circle cx="198.0" cy="32.2" r="0.72" fill="#c2c2c2" opacity="0.8"/>
<circle cx="178.7" cy="39.8" r="0.49" fill="#c2c2c2" opacity="0.8"/>
<circle cx="200.3" cy="54.4" r="0.41" fill="#c2c2c2" opacity="0.8"/>
<circle cx="181.3" cy="24.5" r="0.79" fill="#c2c2c2" opacity="0.8"/>
<circle cx="205.3" cy="22.2" r="0.79" fill="#c2c2c2" opacity="0.8"/>
<circle cx="229.0" cy="66.7" r="0.47" fill="#c2c2c2" opacity="0.8"/>
<circle cx="242.0" cy="18.2" r="0.42" fill="#c2c2c2" opacity="0.8"/>
<circle cx="240.8" cy="43.3" r="0.69" fill="#c2c2c2" opacity="0.8"/>
<circle cx="208.5" cy="62.4" r="0.34" fill="#c2c2c2" opacity="0.8"/>
<circle cx="227.3" cy="26.0" r="0.40" fill="#c2c2c2" opacity="0.8"/>
<circle cx="247.8" cy="38.8" r="0.71" fill="#c2c2c2" opacity="0.8"/>
<circle cx="200.4" cy="54.7" r="0.75" fill="#c2c2c2" opacity="0.8"/>
<circle cx="227.5" cy="28.4" r="0.63" fill="#c2c2c2" opacity="0.8"/>
<circle cx="253.1" cy="58.5" r="0.52" fill="#c2c2c2" opacity="0.8"/>
<circle cx="209.6" cy="21.2" r="0.68" fill="#c2c2c2" opacity="0.8"/>
<circle cx="190.5" cy="27.6" r="0.32" fill="#c2c2c2" opacity="0.8"/>
<circle cx="191.0" cy="36.3" r="0.54" fill="#c2c2c2" opacity="0.8"/>
<circle cx="191.8" cy="38.5" r="0.68" fill="#c2c2c2" opacity="0.8"/>
<circle cx="185.7" cy="23.2" r="0.56" fill="#c2c2c2" opacity="0.8"/>
<circle cx="249.4" cy="64.6" r="0.58" fill="#c2c2c2" opacity="0.8"/>
<circle cx="185.2" cy="62.3" r="0.80" fill="#c2c2c2" opacity="0.8"/>
<circle cx="249.0" cy="44.1" r="0.49" fill="#c2c2c2" opacity="0.8"/>
<circle cx="224.4" cy="57.9" r="0.80" fill="#c2c2c2" opacity="0.8"/>
<circle cx="217.0" cy="42.9" r="0.46" fill="#c2c2c2" opacity="0.8"/>
<circle cx="220.7" cy="44.8" r="0.44" fill="#c2c2c2" opacity="0.8"/>
<circle cx="214.2" cy="64.5" r="0.42" fill="#c2c2c2" opacity="0.8"/>
<circle cx="198.1" cy="32.1" r="0.73" fill="#c2c2c2" opacity="0.8"/>
<circle cx="202.0" cy="59.8" r="0.76" fill="#c2c2c2" opacity="0.8"/>
<circle cx="247.2" cy="58.6" r="0.40" fill="#c2c2c2" opacity="0.8"/>
<circle cx="213.6" cy="59.6" r="0.42" fill="#c2c2c2" opacity="0.8"/>
<circle cx="225.5" cy="62.2" r="0.77" fill="#c2c2c2" opacity="0.8"/>
<circle cx="205.7" cy="22.3" r="0.32" fill="#c2c2c2" opacity="0.8"/>
<circle cx="203.0" cy="45.0" r="0.44" fill="#c2c2c2" opacity="0.8"/>
<circle cx="243.1" cy="50.5" r="0.61" fill="#c2c2c2" opacity="0.8"/>
<circle cx="243.3" cy="33.4" r="0.62" fill="#c2c2c2" opacity="0.8"/>
<circle cx="205.7" cy="31.3" r="0.36" fill="#c2c2c2" opacity="0.8"/>
<circle cx="240.3" cy="63.7" r="0.32" fill="#c2c2c2" opacity="0.8"/>
<circle cx="234.6" cy="19.3" r="0.51" fill="#c2c2c2" opacity="0.8"/>
<circle cx="203.0" cy="63.8" r="0.52" fill="#c2c2c2" opacity="0.8"/>
<circle cx="218.3" cy="34.9" r="0.43" fill="#c2c2c2" opacity="0.8"/>
<circle cx="197.2" cy="19.3" r="0.31" fill="#c2c2c2" opacity="0.8"/>
<circle cx="221.5" cy="55.1" r="0.64" fill="#c2c2c2" opacity="0.8"/>
<circle cx="198.5" cy="68.4" r="0.34" fill="#c2c2c2" opacity="0.8"/>
<circle cx="212.1" cy="33.7" r="0.39" fill="#c2c2c2" opacity="0.8"/>
<circle cx="253.9" cy="53.9" r="0.37" fill="#c2c2c2" opacity="0.8"/>
<circle cx="192.0" cy="58.9" r="0.49" fill="#c2c2c2" opacity="0.8"/>
<circle cx="201.8" cy="31.7" r="0.46" fill="#c2c2c2" opacity="0.8"/>
<circle cx="224.5" cy="32.5" r="0.60" fill="#c2c2c2" opacity="0.8"/>
<circle cx="183.0" cy="44.4" r="0.59" fill="#c2c2c2" opacity="0.8"/>
<circle cx="203.3" cy="62.0" r="0.76" fill="#c2c2c2" opacity="0.8"/>
<circle cx="229.9" cy="37.8" r="0.38" fill="#c2c2c2" opacity="0.8"/>
<circle cx="227.4" cy="31.3" r="0.38" fill="#c2c2c2" opacity="0.8"/>
<circle cx="220.1" cy="26.6" r="0.62" fill="#c2c2c2" opacity="0.8"/>
<circle cx="238.0" cy="16.6" r="0.62" fill="#c2c2c2" opacity="0.8"/>
<circle cx="193.1" cy="33.9" r="0.66" fill="#c2c2c2" opacity="0.8"/>
<circle cx="254.3" cy="32.6" r="0.68" fill="#c2c2c2" opacity="0.8"/>
<circle cx="205.4" cy="65.9" r="0.39" fill="#c2c2c2" opacity="0.8"/>
<circle cx="230.5" cy="20.4" r="0.58" fill="#c2c2c2" opacity="0.8"/>
<circle cx="236.7" cy="64.4" r="0.68" fill="#c2c2c2" opacity="0.8"/>
<circle cx="221.4" cy="37.2" r="0.61" fill="#c2c2c2" opacity="0.8"/>
<circle cx="229.2" cy="48.4" r="0.66" fill="#c2c2c2" opacity="0.8"/>
<circle cx="236.9" cy="65.7" r="0.61" fill="#c2c2c2" opacity="0.8"/>
<circle cx="247.2" cy="55.2" r="0.49" fill="#c2c2c2" opacity="0.8"/>
<circle cx="179" cy="19.5" r="2.29" fill="#dcdcdc" opacity="0.55" filter="url(#bl)"/>
<ellipse cx="179" cy="19.5" rx="1.595" ry="1.44" fill="#141414" filter="url(#bl)"/>
<circle cx="185" cy="18.5" r="2.44" fill="#dcdcdc" opacity="0.55" filter="url(#bl)"/>
<ellipse cx="185" cy="18.5" rx="1.74" ry="1.57" fill="#141414" filter="url(#bl)"/>
<circle cx="189" cy="23" r="3.02" fill="#dcdcdc" opacity="0.55" filter="url(#bl)"/>
<ellipse cx="189" cy="23" rx="2.32" ry="2.09" fill="#141414" filter="url(#bl)"/>
<circle cx="186" cy="25.5" r="3.02" fill="#dcdcdc" opacity="0.55" filter="url(#bl)"/>
<ellipse cx="186" cy="25.5" rx="2.32" ry="2.09" fill="#141414" filter="url(#bl)"/>
<circle cx="194.5" cy="25" r="2.73" fill="#dcdcdc" opacity="0.55" filter="url(#bl)"/>
<ellipse cx="194.5" cy="25" rx="2.03" ry="1.83" fill="#141414" filter="url(#bl)"/>
<circle cx="201" cy="17" r="2.29" fill="#dcdcdc" opacity="0.55" filter="url(#bl)"/>
<ellipse cx="201" cy="17" rx="1.595" ry="1.44" fill="#141414" filter="url(#bl)"/>
<circle cx="201" cy="21" r="3.02" fill="#dcdcdc" opacity="0.55" filter="url(#bl)"/>
<ellipse cx="201" cy="21" rx="2.32" ry="2.09" fill="#141414" filter="url(#bl)"/>
<circle cx="205" cy="19.5" r="3.02" fill="#dcdcdc" opacity="0.55" filter="url(#bl)"/>
<ellipse cx="205" cy="19.5" rx="2.32" ry="2.09" fill="#141414" filter="url(#bl)"/>
<circle cx="210" cy="20" r="2.44" fill="#dcdcdc" opacity="0.55" filter="url(#bl)"/>
<ellipse cx="210" cy="20" rx="1.74" ry="1.57" fill="#141414" filter="url(#bl)"/>
<circle cx="213" cy="24.5" r="2.73" fill="#dcdcdc" opacity="0.55" filter="url(#bl)"/>
<ellipse cx="213" cy="24.5" rx="2.03" ry="1.83" fill="#141414" filter="url(#bl)"/>
<circle cx="217" cy="22" r="2.58" fill="#dcdcdc" opacity="0.55" filter="url(#bl)"/>
<ellipse cx="217" cy="22" rx="1.885" ry="1.70" fill="#141414" filter="url(#bl)"/>
<circle cx="226" cy="19" r="2.73" fill="#dcdcdc" opacity="0.55" filter="url(#bl)"/>
<ellipse cx="226" cy="19" rx="2.03" ry="1.83" fill="#141414" filter="url(#bl)"/>
<circle cx="226" cy="24" r="2.73" fill="#dcdcdc" opacity="0.55" filter="url(#bl)"/>
<ellipse cx="226" cy="24" rx="2.03" ry="1.83" fill="#141414" filter="url(#bl)"/>
<circle cx="250.5" cy="22.8" r="2.58" fill="#dcdcdc" opacity="0.55" filter="url(#bl)"/>
<ellipse cx="250.5" cy="22.8" rx="1.885" ry="1.70" fill="#141414" filter="url(#bl)"/>
<circle cx="240" cy="21" r="2.00" fill="#dcdcdc" opacity="0.55" filter="url(#bl)"/>
<ellipse cx="240" cy="21" rx="1.305" ry="1.17" fill="#141414" filter="url(#bl)"/>
<circle cx="198" cy="27" r="2.58" fill="#dcdcdc" opacity="0.55" filter="url(#bl)"/>
<ellipse cx="198" cy="27" rx="1.885" ry="1.70" fill="#141414" filter="url(#bl)"/>
<circle cx="208" cy="27.5" r="2.73" fill="#dcdcdc" opacity="0.55" filter="url(#bl)"/>
<ellipse cx="208" cy="27.5" rx="2.03" ry="1.83" fill="#141414" filter="url(#bl)"/>
<circle cx="182" cy="28" r="2.44" fill="#dcdcdc" opacity="0.55" filter="url(#bl)"/>
<ellipse cx="182" cy="28" rx="1.74" ry="1.57" fill="#141414" filter="url(#bl)"/>
<circle cx="243" cy="27.5" r="2.88" fill="#dcdcdc" opacity="0.55" filter="url(#bl)"/>
<ellipse cx="243" cy="27.5" rx="2.175" ry="1.96" fill="#141414" filter="url(#bl)"/>
<ellipse cx="178.0" cy="27.7" rx="1.98" ry="1.58" fill="#121212" filter="url(#bl)"/>
<ellipse cx="181.9" cy="28.6" rx="2.49" ry="1.99" fill="#121212" filter="url(#bl)"/>
<ellipse cx="187.0" cy="27.3" rx="2.55" ry="2.04" fill="#121212" filter="url(#bl)"/>
<ellipse cx="190.0" cy="27.5" rx="1.38" ry="1.10" fill="#121212" filter="url(#bl)"/>
<ellipse cx="192.6" cy="27.8" rx="1.63" ry="1.30" fill="#121212" filter="url(#bl)"/>
<ellipse cx="196.4" cy="26.3" rx="2.28" ry="1.83" fill="#121212" filter="url(#bl)"/>
<ellipse cx="199.0" cy="27.6" rx="1.60" ry="1.28" fill="#121212" filter="url(#bl)"/>
<ellipse cx="202.9" cy="28.7" rx="2.35" ry="1.88" fill="#121212" filter="url(#bl)"/>
<ellipse cx="204.0" cy="26.9" rx="2.13" ry="1.70" fill="#121212" filter="url(#bl)"/>
<ellipse cx="207.0" cy="27.6" rx="1.53" ry="1.23" fill="#121212" filter="url(#bl)"/>
<ellipse cx="210.5" cy="27.2" rx="2.04" ry="1.63" fill="#121212" filter="url(#bl)"/>
<ellipse cx="213.6" cy="28.4" rx="1.59" ry="1.27" fill="#121212" filter="url(#bl)"/>
<ellipse cx="216.0" cy="28.4" rx="2.28" ry="1.82" fill="#121212" filter="url(#bl)"/>
<ellipse cx="218.9" cy="26.9" rx="1.41" ry="1.13" fill="#121212" filter="url(#bl)"/>
<ellipse cx="222.9" cy="27.2" rx="2.34" ry="1.87" fill="#121212" filter="url(#bl)"/>
<ellipse cx="226.7" cy="28.5" rx="1.72" ry="1.38" fill="#121212" filter="url(#bl)"/>
<ellipse cx="236.0" cy="28.8" rx="2.27" ry="1.82" fill="#121212" filter="url(#bl)"/>
<ellipse cx="239.2" cy="26.5" rx="1.89" ry="1.51" fill="#121212" filter="url(#bl)"/>
<ellipse cx="242.1" cy="26.9" rx="1.57" ry="1.26" fill="#121212" filter="url(#bl)"/>
<ellipse cx="244.6" cy="26.4" rx="1.66" ry="1.33" fill="#121212" filter="url(#bl)"/>
<ellipse cx="249.0" cy="26.7" rx="1.81" ry="1.45" fill="#121212" filter="url(#bl)"/>
<rect x="228.8" y="16" width="5.4" height="20.8" fill="#ecdf78" />
<line x1="178" y1="30.6" x2="257" y2="30.6" stroke="#7fb2e0" stroke-width="0.9" />
<line x1="178" y1="37.8" x2="257" y2="37.8" stroke="#7fb2e0" stroke-width="0.9" />
<path d="M227.8,37.8 Q231,44.5 232,44.2 Q233.3,44.5 236.2,37.8 Z" fill="#c8c8c8" stroke="#222" stroke-width="0.6"/>
<text x="181.2" y="35" font-size="7.4" fill="#283458" stroke="#283458" stroke-width="0.12" textLength="19.0" lengthAdjust="spacingAndGlyphs" >Powder</text>
<text x="181.2" y="53" font-size="7.6" fill="#283458" stroke="#283458" stroke-width="0.12" textLength="24.8" lengthAdjust="spacingAndGlyphs" >Substrate</text>
<text x="182.1" y="66.3" font-size="7.8" fill="#fff" stroke="#fff" stroke-width="0.05" textLength="44.8" lengthAdjust="spacingAndGlyphs"><tspan font-style="italic">σ</tspan>~1.1×10<tspan font-size="4.4" dy="-2.6">4</tspan><tspan dy="2.6"> </tspan><tspan font-style="italic">μ</tspan>m<tspan font-size="4.4" dy="-2.6">2</tspan></text>
<rect x="259" y="30.6" width="45" height="7.2" fill="#c0c0c0" />
<circle cx="275.4" cy="31.2" r="0.65" fill="#fafafa" opacity="0.8"/>
<circle cx="298.3" cy="33.8" r="1.12" fill="#fafafa" opacity="0.8"/>
<circle cx="282.8" cy="32.4" r="1.16" fill="#fafafa" opacity="0.8"/>
<circle cx="283.8" cy="35.4" r="1.10" fill="#fafafa" opacity="0.8"/>
<circle cx="295.1" cy="32.8" r="0.64" fill="#fafafa" opacity="0.8"/>
<circle cx="265.4" cy="34.9" r="0.65" fill="#fafafa" opacity="0.8"/>
<circle cx="287.2" cy="34.2" r="0.55" fill="#fafafa" opacity="0.8"/>
<circle cx="292.7" cy="29.7" r="1.28" fill="#fafafa" opacity="0.8"/>
<circle cx="295.2" cy="31.1" r="1.15" fill="#fafafa" opacity="0.8"/>
<circle cx="290.5" cy="30.4" r="1.10" fill="#fafafa" opacity="0.8"/>
<circle cx="264.3" cy="36.3" r="1.12" fill="#fafafa" opacity="0.8"/>
<circle cx="301.1" cy="29.9" r="0.79" fill="#fafafa" opacity="0.8"/>
<circle cx="285.7" cy="34.1" r="0.66" fill="#fafafa" opacity="0.8"/>
<circle cx="297.2" cy="35.8" r="0.77" fill="#fafafa" opacity="0.8"/>
<circle cx="265.3" cy="34.5" r="0.87" fill="#fafafa" opacity="0.8"/>
<circle cx="287.5" cy="33.2" r="0.86" fill="#fafafa" opacity="0.8"/>
<circle cx="259.9" cy="30.5" r="0.91" fill="#fafafa" opacity="0.8"/>
<circle cx="290.3" cy="32.7" r="1.17" fill="#fafafa" opacity="0.8"/>
<circle cx="282.2" cy="36.1" r="1.09" fill="#fafafa" opacity="0.8"/>
<circle cx="272.8" cy="30.5" r="0.56" fill="#fafafa" opacity="0.8"/>
<circle cx="260.7" cy="36.0" r="1.29" fill="#fafafa" opacity="0.8"/>
<circle cx="291.3" cy="30.3" r="1.09" fill="#fafafa" opacity="0.8"/>
<circle cx="264.5" cy="36.2" r="1.09" fill="#fafafa" opacity="0.8"/>
<circle cx="291.2" cy="34.1" r="0.88" fill="#fafafa" opacity="0.8"/>
<circle cx="295.5" cy="36.7" r="0.72" fill="#fafafa" opacity="0.8"/>
<circle cx="277.8" cy="35.0" r="1.11" fill="#fafafa" opacity="0.8"/>
<circle cx="276.7" cy="32.9" r="1.37" fill="#fafafa" opacity="0.8"/>
<circle cx="270.9" cy="31.1" r="1.12" fill="#fafafa" opacity="0.8"/>
<circle cx="270.9" cy="36.2" r="0.79" fill="#fafafa" opacity="0.8"/>
<circle cx="298.8" cy="32.3" r="1.30" fill="#fafafa" opacity="0.8"/>
<circle cx="291.3" cy="35.0" r="0.69" fill="#fafafa" opacity="0.8"/>
<circle cx="266.1" cy="29.7" r="0.66" fill="#fafafa" opacity="0.8"/>
<circle cx="287.7" cy="30.0" r="0.71" fill="#fafafa" opacity="0.8"/>
<circle cx="283.4" cy="30.7" r="0.80" fill="#fafafa" opacity="0.8"/>
<circle cx="268.8" cy="34.6" r="0.61" fill="#fafafa" opacity="0.8"/>
<circle cx="301.9" cy="34.0" r="1.14" fill="#fafafa" opacity="0.8"/>
<circle cx="282.8" cy="33.2" r="1.37" fill="#fafafa" opacity="0.8"/>
<circle cx="297.4" cy="35.7" r="0.53" fill="#fafafa" opacity="0.8"/>
<circle cx="284.3" cy="36.6" r="1.07" fill="#fafafa" opacity="0.8"/>
<circle cx="281.1" cy="34.4" r="0.66" fill="#fafafa" opacity="0.8"/>
<circle cx="290.3" cy="35.4" r="0.56" fill="#fafafa" opacity="0.8"/>
<circle cx="280.9" cy="34.0" r="0.82" fill="#fafafa" opacity="0.8"/>
<circle cx="288.3" cy="36.4" r="1.32" fill="#fafafa" opacity="0.8"/>
<circle cx="272.2" cy="30.6" r="1.27" fill="#fafafa" opacity="0.8"/>
<circle cx="285.3" cy="35.7" r="1.28" fill="#fafafa" opacity="0.8"/>
<circle cx="271.0" cy="33.9" r="0.77" fill="#fafafa" opacity="0.8"/>
<circle cx="293.3" cy="34.7" r="0.72" fill="#fafafa" opacity="0.8"/>
<circle cx="280.5" cy="34.0" r="0.71" fill="#fafafa" opacity="0.8"/>
<circle cx="266.8" cy="33.1" r="0.56" fill="#fafafa" opacity="0.8"/>
<circle cx="280.3" cy="36.5" r="1.24" fill="#fafafa" opacity="0.8"/>
<circle cx="261.3" cy="35.7" r="1.14" fill="#fafafa" opacity="0.8"/>
<circle cx="289.5" cy="29.7" r="1.18" fill="#fafafa" opacity="0.8"/>
<circle cx="267.4" cy="35.5" r="0.79" fill="#fafafa" opacity="0.8"/>
<circle cx="274.8" cy="30.8" r="1.28" fill="#fafafa" opacity="0.8"/>
<circle cx="268.5" cy="36.0" r="0.96" fill="#fafafa" opacity="0.8"/>
<circle cx="265.4" cy="34.4" r="0.98" fill="#fafafa" opacity="0.8"/>
<circle cx="260.2" cy="35.7" r="0.74" fill="#fafafa" opacity="0.8"/>
<circle cx="260.0" cy="35.2" r="1.15" fill="#fafafa" opacity="0.8"/>
<circle cx="275.6" cy="30.9" r="0.97" fill="#fafafa" opacity="0.8"/>
<circle cx="284.2" cy="34.7" r="0.94" fill="#fafafa" opacity="0.8"/>
<circle cx="283.4" cy="34.9" r="0.67" fill="#fafafa" opacity="0.8"/>
<circle cx="266.8" cy="33.1" r="1.18" fill="#fafafa" opacity="0.8"/>
<circle cx="293.5" cy="35.9" r="0.90" fill="#fafafa" opacity="0.8"/>
<circle cx="289.7" cy="30.3" r="0.85" fill="#fafafa" opacity="0.8"/>
<circle cx="261.9" cy="35.8" r="1.40" fill="#fafafa" opacity="0.8"/>
<circle cx="287.8" cy="35.1" r="0.84" fill="#fafafa" opacity="0.8"/>
<circle cx="293.2" cy="30.1" r="0.83" fill="#fafafa" opacity="0.8"/>
<circle cx="274.1" cy="36.0" r="0.66" fill="#fafafa" opacity="0.8"/>
<circle cx="265.8" cy="30.2" r="1.26" fill="#fafafa" opacity="0.8"/>
<circle cx="272.6" cy="36.3" r="0.78" fill="#fafafa" opacity="0.8"/>
<circle cx="295.0" cy="31.0" r="1.31" fill="#fafafa" opacity="0.8"/>
<circle cx="300.9" cy="36.1" r="1.12" fill="#fafafa" opacity="0.8"/>
<circle cx="297.5" cy="36.4" r="1.37" fill="#fafafa" opacity="0.8"/>
<circle cx="270.8" cy="35.9" r="1.20" fill="#fafafa" opacity="0.8"/>
<circle cx="273.9" cy="30.8" r="1.31" fill="#fafafa" opacity="0.8"/>
<circle cx="279.3" cy="33.5" r="1.30" fill="#fafafa" opacity="0.8"/>
<circle cx="279.8" cy="31.4" r="1.12" fill="#fafafa" opacity="0.8"/>
<circle cx="281.9" cy="31.5" r="1.12" fill="#fafafa" opacity="0.8"/>
<circle cx="297.9" cy="31.3" r="1.23" fill="#fafafa" opacity="0.8"/>
<circle cx="291.4" cy="33.4" r="0.67" fill="#fafafa" opacity="0.8"/>
<circle cx="287.6" cy="31.6" r="0.73" fill="#fafafa" opacity="0.8"/>
<circle cx="295.7" cy="31.5" r="0.58" fill="#fafafa" opacity="0.8"/>
<circle cx="295.4" cy="37.0" r="0.77" fill="#fafafa" opacity="0.8"/>
<circle cx="276.4" cy="33.6" r="1.18" fill="#fafafa" opacity="0.8"/>
<circle cx="259.5" cy="34.4" r="0.71" fill="#fafafa" opacity="0.8"/>
<circle cx="298.9" cy="32.6" r="1.35" fill="#fafafa" opacity="0.8"/>
<circle cx="278.4" cy="34.4" r="0.53" fill="#fafafa" opacity="0.8"/>
<circle cx="267.7" cy="31.7" r="0.83" fill="#fafafa" opacity="0.8"/>
<circle cx="266.4" cy="32.7" r="0.58" fill="#fafafa" opacity="0.8"/>
<circle cx="283.3" cy="36.7" r="1.27" fill="#fafafa" opacity="0.8"/>
<circle cx="285.7" cy="36.9" r="1.16" fill="#fafafa" opacity="0.8"/>
<circle cx="286.3" cy="32.9" r="0.57" fill="#fafafa" opacity="0.8"/>
<circle cx="297.4" cy="36.2" r="1.22" fill="#fafafa" opacity="0.8"/>
<circle cx="288.6" cy="35.6" r="1.36" fill="#fafafa" opacity="0.8"/>
<circle cx="300.8" cy="35.3" r="0.51" fill="#fafafa" opacity="0.8"/>
<circle cx="299.7" cy="33.8" r="0.91" fill="#fafafa" opacity="0.8"/>
<circle cx="277.5" cy="31.5" r="0.53" fill="#fafafa" opacity="0.8"/>
<circle cx="285.6" cy="34.1" r="0.58" fill="#fafafa" opacity="0.8"/>
<circle cx="298.7" cy="36.3" r="1.28" fill="#fafafa" opacity="0.8"/>
<circle cx="282.1" cy="32.4" r="0.92" fill="#fafafa" opacity="0.8"/>
<circle cx="274.9" cy="36.7" r="1.33" fill="#fafafa" opacity="0.8"/>
<circle cx="297.6" cy="33.4" r="0.96" fill="#fafafa" opacity="0.8"/>
<circle cx="288.5" cy="31.7" r="0.67" fill="#fafafa" opacity="0.8"/>
<circle cx="301.4" cy="31.5" r="0.74" fill="#fafafa" opacity="0.8"/>
<circle cx="280.2" cy="30.2" r="0.97" fill="#fafafa" opacity="0.8"/>
<circle cx="265.9" cy="35.7" r="0.57" fill="#fafafa" opacity="0.8"/>
<circle cx="293.5" cy="31.5" r="1.21" fill="#fafafa" opacity="0.8"/>
<circle cx="293.4" cy="36.7" r="0.66" fill="#fafafa" opacity="0.8"/>
<circle cx="301.3" cy="30.6" r="0.82" fill="#fafafa" opacity="0.8"/>
<circle cx="259.3" cy="33.2" r="0.57" fill="#fafafa" opacity="0.8"/>
<circle cx="282.9" cy="36.5" r="1.20" fill="#fafafa" opacity="0.8"/>
<circle cx="286.9" cy="30.2" r="1.39" fill="#fafafa" opacity="0.8"/>
<circle cx="274.7" cy="36.6" r="0.63" fill="#fafafa" opacity="0.8"/>
<circle cx="271.9" cy="36.6" r="1.17" fill="#fafafa" opacity="0.8"/>
<circle cx="267.0" cy="32.9" r="0.99" fill="#fafafa" opacity="0.8"/>
<circle cx="269.8" cy="31.1" r="0.58" fill="#fafafa" opacity="0.8"/>
<circle cx="280.9" cy="32.6" r="0.81" fill="#fafafa" opacity="0.8"/>
<circle cx="279.6" cy="32.1" r="0.85" fill="#fafafa" opacity="0.8"/>
<circle cx="291.8" cy="30.6" r="0.59" fill="#fafafa" opacity="0.8"/>
<circle cx="278.2" cy="31.7" r="0.93" fill="#fafafa" opacity="0.8"/>
<circle cx="296.0" cy="36.6" r="1.24" fill="#fafafa" opacity="0.8"/>
<circle cx="298.6" cy="31.2" r="0.81" fill="#fafafa" opacity="0.8"/>
<circle cx="263.8" cy="31.7" r="0.73" fill="#fafafa" opacity="0.8"/>
<circle cx="269.3" cy="32.0" r="1.35" fill="#fafafa" opacity="0.8"/>
<circle cx="281.2" cy="36.2" r="0.97" fill="#fafafa" opacity="0.8"/>
<circle cx="291.2" cy="34.5" r="1.03" fill="#fafafa" opacity="0.8"/>
<circle cx="298.7" cy="34.0" r="0.95" fill="#fafafa" opacity="0.8"/>
<circle cx="268.9" cy="30.2" r="0.89" fill="#fafafa" opacity="0.8"/>
<circle cx="276.5" cy="30.5" r="1.36" fill="#fafafa" opacity="0.8"/>
<circle cx="259.8" cy="32.8" r="0.72" fill="#fafafa" opacity="0.8"/>
<circle cx="310.2" cy="17.3" r="0.44" fill="#8e8e8e" opacity="0.8"/>
<circle cx="276.9" cy="55.0" r="0.64" fill="#8e8e8e" opacity="0.8"/>
<circle cx="330.4" cy="20.6" r="0.51" fill="#8e8e8e" opacity="0.8"/>
<circle cx="261.4" cy="27.6" r="0.55" fill="#8e8e8e" opacity="0.8"/>
<circle cx="261.1" cy="26.5" r="0.62" fill="#8e8e8e" opacity="0.8"/>
<circle cx="302.6" cy="27.7" r="0.59" fill="#8e8e8e" opacity="0.8"/>
<circle cx="323.8" cy="16.3" r="0.70" fill="#8e8e8e" opacity="0.8"/>
<circle cx="314.9" cy="34.0" r="0.38" fill="#8e8e8e" opacity="0.8"/>
<circle cx="335.6" cy="33.8" r="0.35" fill="#8e8e8e" opacity="0.8"/>
<circle cx="266.7" cy="60.9" r="0.60" fill="#8e8e8e" opacity="0.8"/>
<circle cx="323.6" cy="54.7" r="0.57" fill="#8e8e8e" opacity="0.8"/>
<circle cx="336.8" cy="36.1" r="0.58" fill="#8e8e8e" opacity="0.8"/>
<circle cx="325.4" cy="48.8" r="0.73" fill="#8e8e8e" opacity="0.8"/>
<circle cx="305.2" cy="53.3" r="0.32" fill="#8e8e8e" opacity="0.8"/>
<circle cx="277.2" cy="31.3" r="0.34" fill="#8e8e8e" opacity="0.8"/>
<circle cx="277.6" cy="21.4" r="0.44" fill="#8e8e8e" opacity="0.8"/>
<circle cx="309.9" cy="35.3" r="0.49" fill="#8e8e8e" opacity="0.8"/>
<circle cx="275.8" cy="30.1" r="0.77" fill="#8e8e8e" opacity="0.8"/>
<circle cx="310.8" cy="48.3" r="0.39" fill="#8e8e8e" opacity="0.8"/>
<circle cx="317.3" cy="24.7" r="0.49" fill="#8e8e8e" opacity="0.8"/>
<circle cx="338.2" cy="49.9" r="0.58" fill="#8e8e8e" opacity="0.8"/>
<circle cx="313.8" cy="60.7" r="0.69" fill="#8e8e8e" opacity="0.8"/>
<circle cx="277.3" cy="17.7" r="0.46" fill="#8e8e8e" opacity="0.8"/>
<circle cx="280.4" cy="27.2" r="0.77" fill="#8e8e8e" opacity="0.8"/>
<circle cx="329.1" cy="32.7" r="0.63" fill="#8e8e8e" opacity="0.8"/>
<circle cx="290.7" cy="64.5" r="0.53" fill="#8e8e8e" opacity="0.8"/>
<circle cx="280.2" cy="29.1" r="0.58" fill="#8e8e8e" opacity="0.8"/>
<circle cx="280.0" cy="47.0" r="0.75" fill="#8e8e8e" opacity="0.8"/>
<circle cx="291.0" cy="27.6" r="0.80" fill="#8e8e8e" opacity="0.8"/>
<circle cx="299.8" cy="20.8" r="0.32" fill="#8e8e8e" opacity="0.8"/>
<circle cx="267.8" cy="49.3" r="0.70" fill="#8e8e8e" opacity="0.8"/>
<circle cx="292.8" cy="19.4" r="0.49" fill="#8e8e8e" opacity="0.8"/>
<circle cx="338.7" cy="44.0" r="0.79" fill="#8e8e8e" opacity="0.8"/>
<circle cx="327.9" cy="16.6" r="0.66" fill="#8e8e8e" opacity="0.8"/>
<circle cx="313.5" cy="44.5" r="0.43" fill="#8e8e8e" opacity="0.8"/>
<circle cx="310.3" cy="21.9" r="0.52" fill="#8e8e8e" opacity="0.8"/>
<circle cx="295.3" cy="66.6" r="0.74" fill="#8e8e8e" opacity="0.8"/>
<circle cx="280.1" cy="42.5" r="0.39" fill="#8e8e8e" opacity="0.8"/>
<circle cx="332.0" cy="62.1" r="0.45" fill="#8e8e8e" opacity="0.8"/>
<circle cx="310.1" cy="48.3" r="0.38" fill="#8e8e8e" opacity="0.8"/>
<circle cx="320.0" cy="44.6" r="0.69" fill="#8e8e8e" opacity="0.8"/>
<circle cx="301.4" cy="16.0" r="0.46" fill="#8e8e8e" opacity="0.8"/>
<circle cx="260.6" cy="65.2" r="0.74" fill="#8e8e8e" opacity="0.8"/>
<circle cx="325.5" cy="32.3" r="0.33" fill="#8e8e8e" opacity="0.8"/>
<circle cx="329.2" cy="66.2" r="0.34" fill="#8e8e8e" opacity="0.8"/>
<circle cx="297.9" cy="19.7" r="0.68" fill="#8e8e8e" opacity="0.8"/>
<circle cx="320.3" cy="22.8" r="0.54" fill="#8e8e8e" opacity="0.8"/>
<circle cx="303.0" cy="30.0" r="0.74" fill="#8e8e8e" opacity="0.8"/>
<circle cx="292.9" cy="27.2" r="0.57" fill="#8e8e8e" opacity="0.8"/>
<circle cx="317.4" cy="26.7" r="0.46" fill="#8e8e8e" opacity="0.8"/>
<circle cx="338.6" cy="50.4" r="0.52" fill="#8e8e8e" opacity="0.8"/>
<circle cx="300.4" cy="22.4" r="0.41" fill="#8e8e8e" opacity="0.8"/>
<circle cx="286.0" cy="47.2" r="0.42" fill="#8e8e8e" opacity="0.8"/>
<circle cx="276.6" cy="19.8" r="0.62" fill="#8e8e8e" opacity="0.8"/>
<circle cx="277.3" cy="64.0" r="0.73" fill="#8e8e8e" opacity="0.8"/>
<circle cx="264.7" cy="28.6" r="0.63" fill="#8e8e8e" opacity="0.8"/>
<circle cx="276.1" cy="23.0" r="0.77" fill="#8e8e8e" opacity="0.8"/>
<circle cx="304.7" cy="41.1" r="0.69" fill="#8e8e8e" opacity="0.8"/>
<circle cx="323.6" cy="26.1" r="0.35" fill="#8e8e8e" opacity="0.8"/>
<circle cx="293.5" cy="38.4" r="0.53" fill="#8e8e8e" opacity="0.8"/>
<circle cx="317.3" cy="51.7" r="0.79" fill="#8e8e8e" opacity="0.8"/>
<circle cx="266.9" cy="37.3" r="0.47" fill="#8e8e8e" opacity="0.8"/>
<circle cx="327.9" cy="29.2" r="0.40" fill="#8e8e8e" opacity="0.8"/>
<circle cx="294.9" cy="38.4" r="0.44" fill="#8e8e8e" opacity="0.8"/>
<circle cx="279.0" cy="64.9" r="0.52" fill="#8e8e8e" opacity="0.8"/>
<circle cx="327.9" cy="45.2" r="0.33" fill="#8e8e8e" opacity="0.8"/>
<circle cx="338.9" cy="60.3" r="0.78" fill="#8e8e8e" opacity="0.8"/>
<circle cx="333.1" cy="61.0" r="0.38" fill="#8e8e8e" opacity="0.8"/>
<circle cx="297.9" cy="27.3" r="0.50" fill="#8e8e8e" opacity="0.8"/>
<circle cx="263.7" cy="36.1" r="0.79" fill="#8e8e8e" opacity="0.8"/>
<circle cx="280.2" cy="57.6" r="0.53" fill="#8e8e8e" opacity="0.8"/>
<circle cx="292.8" cy="66.7" r="0.80" fill="#8e8e8e" opacity="0.8"/>
<circle cx="303.5" cy="54.1" r="0.38" fill="#8e8e8e" opacity="0.8"/>
<circle cx="282.7" cy="67.3" r="0.59" fill="#8e8e8e" opacity="0.8"/>
<circle cx="302.4" cy="55.6" r="0.33" fill="#8e8e8e" opacity="0.8"/>
<circle cx="305.7" cy="42.7" r="0.73" fill="#8e8e8e" opacity="0.8"/>
<circle cx="271.6" cy="66.9" r="0.34" fill="#8e8e8e" opacity="0.8"/>
<circle cx="273.9" cy="47.5" r="0.64" fill="#8e8e8e" opacity="0.8"/>
<circle cx="277.8" cy="22.4" r="0.75" fill="#8e8e8e" opacity="0.8"/>
<circle cx="278.7" cy="47.5" r="0.61" fill="#8e8e8e" opacity="0.8"/>
<circle cx="292.5" cy="46.9" r="0.56" fill="#8e8e8e" opacity="0.8"/>
<circle cx="333.8" cy="26.8" r="0.66" fill="#8e8e8e" opacity="0.8"/>
<circle cx="278.1" cy="37.0" r="0.64" fill="#8e8e8e" opacity="0.8"/>
<circle cx="283.0" cy="32.8" r="0.68" fill="#8e8e8e" opacity="0.8"/>
<circle cx="264.8" cy="40.3" r="0.80" fill="#8e8e8e" opacity="0.8"/>
<circle cx="338.7" cy="19.9" r="0.41" fill="#8e8e8e" opacity="0.8"/>
<circle cx="280.2" cy="65.5" r="0.74" fill="#8e8e8e" opacity="0.8"/>
<circle cx="329.3" cy="35.6" r="0.38" fill="#8e8e8e" opacity="0.8"/>
<circle cx="325.7" cy="53.3" r="0.61" fill="#8e8e8e" opacity="0.8"/>
<circle cx="338.0" cy="50.7" r="0.30" fill="#8e8e8e" opacity="0.8"/>
<circle cx="324.4" cy="31.9" r="0.63" fill="#8e8e8e" opacity="0.8"/>
<circle cx="334.1" cy="23.1" r="0.36" fill="#8e8e8e" opacity="0.8"/>
<circle cx="267.6" cy="45.3" r="0.44" fill="#8e8e8e" opacity="0.8"/>
<circle cx="307.4" cy="54.0" r="0.40" fill="#8e8e8e" opacity="0.8"/>
<circle cx="309.7" cy="30.0" r="0.54" fill="#8e8e8e" opacity="0.8"/>
<circle cx="331.4" cy="60.8" r="0.35" fill="#8e8e8e" opacity="0.8"/>
<circle cx="292.9" cy="30.7" r="0.30" fill="#8e8e8e" opacity="0.8"/>
<circle cx="320.7" cy="49.8" r="0.43" fill="#8e8e8e" opacity="0.8"/>
<circle cx="318.3" cy="45.2" r="0.51" fill="#8e8e8e" opacity="0.8"/>
<circle cx="259.8" cy="20.0" r="0.74" fill="#8e8e8e" opacity="0.8"/>
<circle cx="331.3" cy="44.9" r="0.72" fill="#8e8e8e" opacity="0.8"/>
<circle cx="305.6" cy="23.8" r="0.36" fill="#8e8e8e" opacity="0.8"/>
<circle cx="283.7" cy="63.6" r="0.70" fill="#8e8e8e" opacity="0.8"/>
<circle cx="327.9" cy="63.6" r="0.41" fill="#8e8e8e" opacity="0.8"/>
<circle cx="279.0" cy="21.4" r="0.69" fill="#8e8e8e" opacity="0.8"/>
<circle cx="329.7" cy="37.5" r="0.61" fill="#8e8e8e" opacity="0.8"/>
<circle cx="271.4" cy="65.3" r="0.73" fill="#8e8e8e" opacity="0.8"/>
<circle cx="337.1" cy="59.0" r="0.74" fill="#8e8e8e" opacity="0.8"/>
<circle cx="261.0" cy="55.0" r="0.47" fill="#8e8e8e" opacity="0.8"/>
<circle cx="333.5" cy="58.5" r="0.73" fill="#8e8e8e" opacity="0.8"/>
<circle cx="323.9" cy="30.1" r="0.69" fill="#8e8e8e" opacity="0.8"/>
<circle cx="267.6" cy="62.2" r="0.73" fill="#8e8e8e" opacity="0.8"/>
<circle cx="276.8" cy="59.3" r="0.53" fill="#8e8e8e" opacity="0.8"/>
<circle cx="283.4" cy="58.2" r="0.41" fill="#8e8e8e" opacity="0.8"/>
<circle cx="260.9" cy="26.2" r="0.46" fill="#8e8e8e" opacity="0.8"/>
<circle cx="328.1" cy="67.2" r="0.44" fill="#8e8e8e" opacity="0.8"/>
<circle cx="310.3" cy="37.2" r="0.79" fill="#8e8e8e" opacity="0.8"/>
<circle cx="301.9" cy="65.8" r="0.36" fill="#8e8e8e" opacity="0.8"/>
<circle cx="336.6" cy="25.5" r="0.78" fill="#8e8e8e" opacity="0.8"/>
<circle cx="280.2" cy="21.7" r="0.52" fill="#8e8e8e" opacity="0.8"/>
<circle cx="317.3" cy="32.6" r="0.60" fill="#8e8e8e" opacity="0.8"/>
<circle cx="299.9" cy="36.4" r="0.59" fill="#8e8e8e" opacity="0.8"/>
<circle cx="279.4" cy="53.6" r="0.30" fill="#8e8e8e" opacity="0.8"/>
<circle cx="333.0" cy="44.5" r="0.66" fill="#8e8e8e" opacity="0.8"/>
<circle cx="318.4" cy="51.5" r="0.48" fill="#8e8e8e" opacity="0.8"/>
<circle cx="264.6" cy="51.2" r="0.47" fill="#8e8e8e" opacity="0.8"/>
<circle cx="284.1" cy="60.9" r="0.66" fill="#8e8e8e" opacity="0.8"/>
<circle cx="283.0" cy="32.4" r="0.50" fill="#8e8e8e" opacity="0.8"/>
<circle cx="291.2" cy="31.7" r="0.36" fill="#8e8e8e" opacity="0.8"/>
<circle cx="292.6" cy="65.8" r="0.64" fill="#8e8e8e" opacity="0.8"/>
<circle cx="331.2" cy="48.6" r="0.45" fill="#8e8e8e" opacity="0.8"/>
<circle cx="302.8" cy="16.0" r="0.44" fill="#8e8e8e" opacity="0.8"/>
<circle cx="293.4" cy="46.7" r="0.63" fill="#8e8e8e" opacity="0.8"/>
<circle cx="296.2" cy="39.4" r="0.41" fill="#8e8e8e" opacity="0.8"/>
<circle cx="296.9" cy="63.8" r="0.70" fill="#8e8e8e" opacity="0.8"/>
<circle cx="272.6" cy="20.5" r="0.56" fill="#8e8e8e" opacity="0.8"/>
<circle cx="309.6" cy="33.8" r="0.71" fill="#8e8e8e" opacity="0.8"/>
<circle cx="319.1" cy="51.7" r="0.41" fill="#8e8e8e" opacity="0.8"/>
<circle cx="274.9" cy="17.3" r="0.42" fill="#8e8e8e" opacity="0.8"/>
<circle cx="297.0" cy="61.0" r="0.34" fill="#8e8e8e" opacity="0.8"/>
<circle cx="292.2" cy="49.4" r="0.40" fill="#8e8e8e" opacity="0.8"/>
<circle cx="314.7" cy="42.2" r="0.42" fill="#8e8e8e" opacity="0.8"/>
<circle cx="311.5" cy="16.3" r="0.68" fill="#8e8e8e" opacity="0.8"/>
<circle cx="320.6" cy="21.6" r="0.51" fill="#8e8e8e" opacity="0.8"/>
<circle cx="273.1" cy="66.8" r="0.56" fill="#8e8e8e" opacity="0.8"/>
<circle cx="263.0" cy="29.2" r="0.72" fill="#8e8e8e" opacity="0.8"/>
<circle cx="295.5" cy="58.5" r="0.63" fill="#8e8e8e" opacity="0.8"/>
<circle cx="338.0" cy="47.6" r="0.78" fill="#8e8e8e" opacity="0.8"/>
<circle cx="330.3" cy="48.5" r="0.66" fill="#8e8e8e" opacity="0.8"/>
<circle cx="299.4" cy="60.0" r="0.57" fill="#8e8e8e" opacity="0.8"/>
<circle cx="330.8" cy="55.4" r="0.54" fill="#8e8e8e" opacity="0.8"/>
<circle cx="279.7" cy="29.1" r="0.62" fill="#8e8e8e" opacity="0.8"/>
<circle cx="320.3" cy="43.6" r="0.61" fill="#8e8e8e" opacity="0.8"/>
<circle cx="281.0" cy="20.1" r="0.44" fill="#8e8e8e" opacity="0.8"/>
<circle cx="280.7" cy="32.9" r="0.57" fill="#8e8e8e" opacity="0.8"/>
<circle cx="270.1" cy="28.3" r="0.65" fill="#8e8e8e" opacity="0.8"/>
<circle cx="315.5" cy="19.4" r="0.50" fill="#8e8e8e" opacity="0.8"/>
<circle cx="302.4" cy="38.0" r="0.40" fill="#8e8e8e" opacity="0.8"/>
<circle cx="292.6" cy="64.0" r="0.59" fill="#8e8e8e" opacity="0.8"/>
<circle cx="314.6" cy="61.4" r="0.68" fill="#8e8e8e" opacity="0.8"/>
<circle cx="262.1" cy="52.9" r="0.37" fill="#c2c2c2" opacity="0.8"/>
<circle cx="296.0" cy="51.6" r="0.70" fill="#c2c2c2" opacity="0.8"/>
<circle cx="295.3" cy="42.4" r="0.31" fill="#c2c2c2" opacity="0.8"/>
<circle cx="293.6" cy="35.7" r="0.73" fill="#c2c2c2" opacity="0.8"/>
<circle cx="302.8" cy="56.0" r="0.52" fill="#c2c2c2" opacity="0.8"/>
<circle cx="273.1" cy="61.1" r="0.71" fill="#c2c2c2" opacity="0.8"/>
<circle cx="289.1" cy="21.1" r="0.56" fill="#c2c2c2" opacity="0.8"/>
<circle cx="298.7" cy="56.9" r="0.60" fill="#c2c2c2" opacity="0.8"/>
<circle cx="299.5" cy="46.5" r="0.49" fill="#c2c2c2" opacity="0.8"/>
<circle cx="262.9" cy="19.2" r="0.77" fill="#c2c2c2" opacity="0.8"/>
<circle cx="326.1" cy="31.7" r="0.74" fill="#c2c2c2" opacity="0.8"/>
<circle cx="300.8" cy="21.5" r="0.73" fill="#c2c2c2" opacity="0.8"/>
<circle cx="305.8" cy="65.4" r="0.64" fill="#c2c2c2" opacity="0.8"/>
<circle cx="266.5" cy="49.0" r="0.69" fill="#c2c2c2" opacity="0.8"/>
<circle cx="330.9" cy="33.6" r="0.56" fill="#c2c2c2" opacity="0.8"/>
<circle cx="315.1" cy="24.8" r="0.72" fill="#c2c2c2" opacity="0.8"/>
<circle cx="321.5" cy="18.7" r="0.60" fill="#c2c2c2" opacity="0.8"/>
<circle cx="288.4" cy="25.9" r="0.60" fill="#c2c2c2" opacity="0.8"/>
<circle cx="336.5" cy="45.3" r="0.36" fill="#c2c2c2" opacity="0.8"/>
<circle cx="298.6" cy="57.3" r="0.78" fill="#c2c2c2" opacity="0.8"/>
<circle cx="316.2" cy="18.2" r="0.78" fill="#c2c2c2" opacity="0.8"/>
<circle cx="307.1" cy="20.4" r="0.36" fill="#c2c2c2" opacity="0.8"/>
<circle cx="265.9" cy="51.2" r="0.38" fill="#c2c2c2" opacity="0.8"/>
<circle cx="323.6" cy="21.8" r="0.57" fill="#c2c2c2" opacity="0.8"/>
<circle cx="294.4" cy="18.0" r="0.30" fill="#c2c2c2" opacity="0.8"/>
<circle cx="331.3" cy="67.8" r="0.36" fill="#c2c2c2" opacity="0.8"/>
<circle cx="317.8" cy="68.4" r="0.75" fill="#c2c2c2" opacity="0.8"/>
<circle cx="329.8" cy="33.9" r="0.66" fill="#c2c2c2" opacity="0.8"/>
<circle cx="298.8" cy="65.7" r="0.65" fill="#c2c2c2" opacity="0.8"/>
<circle cx="326.5" cy="61.4" r="0.49" fill="#c2c2c2" opacity="0.8"/>
<circle cx="316.0" cy="20.9" r="0.40" fill="#c2c2c2" opacity="0.8"/>
<circle cx="333.9" cy="37.4" r="0.64" fill="#c2c2c2" opacity="0.8"/>
<circle cx="305.1" cy="29.8" r="0.59" fill="#c2c2c2" opacity="0.8"/>
<circle cx="332.0" cy="33.3" r="0.47" fill="#c2c2c2" opacity="0.8"/>
<circle cx="273.9" cy="25.4" r="0.71" fill="#c2c2c2" opacity="0.8"/>
<circle cx="315.5" cy="67.1" r="0.63" fill="#c2c2c2" opacity="0.8"/>
<circle cx="335.7" cy="27.8" r="0.39" fill="#c2c2c2" opacity="0.8"/>
<circle cx="276.3" cy="36.3" r="0.79" fill="#c2c2c2" opacity="0.8"/>
<circle cx="277.0" cy="40.3" r="0.33" fill="#c2c2c2" opacity="0.8"/>
<circle cx="261.2" cy="44.9" r="0.61" fill="#c2c2c2" opacity="0.8"/>
<circle cx="299.9" cy="64.5" r="0.73" fill="#c2c2c2" opacity="0.8"/>
<circle cx="335.1" cy="46.7" r="0.43" fill="#c2c2c2" opacity="0.8"/>
<circle cx="269.4" cy="56.5" r="0.38" fill="#c2c2c2" opacity="0.8"/>
<circle cx="259.5" cy="53.1" r="0.36" fill="#c2c2c2" opacity="0.8"/>
<circle cx="308.8" cy="26.7" r="0.51" fill="#c2c2c2" opacity="0.8"/>
<circle cx="260.2" cy="35.9" r="0.46" fill="#c2c2c2" opacity="0.8"/>
<circle cx="279.9" cy="23.1" r="0.59" fill="#c2c2c2" opacity="0.8"/>
<circle cx="314.4" cy="26.6" r="0.32" fill="#c2c2c2" opacity="0.8"/>
<circle cx="280.5" cy="53.1" r="0.44" fill="#c2c2c2" opacity="0.8"/>
<circle cx="310.8" cy="19.9" r="0.65" fill="#c2c2c2" opacity="0.8"/>
<circle cx="270.4" cy="27.8" r="0.66" fill="#c2c2c2" opacity="0.8"/>
<circle cx="297.0" cy="49.9" r="0.44" fill="#c2c2c2" opacity="0.8"/>
<circle cx="312.5" cy="31.8" r="0.54" fill="#c2c2c2" opacity="0.8"/>
<circle cx="294.5" cy="64.3" r="0.68" fill="#c2c2c2" opacity="0.8"/>
<circle cx="302.9" cy="60.8" r="0.61" fill="#c2c2c2" opacity="0.8"/>
<circle cx="316.9" cy="43.5" r="0.59" fill="#c2c2c2" opacity="0.8"/>
<circle cx="276.1" cy="65.3" r="0.62" fill="#c2c2c2" opacity="0.8"/>
<circle cx="324.6" cy="48.1" r="0.31" fill="#c2c2c2" opacity="0.8"/>
<circle cx="267.7" cy="62.7" r="0.65" fill="#c2c2c2" opacity="0.8"/>
<circle cx="331.4" cy="63.4" r="0.42" fill="#c2c2c2" opacity="0.8"/>
<circle cx="337.8" cy="48.4" r="0.67" fill="#c2c2c2" opacity="0.8"/>
<circle cx="300.3" cy="29.6" r="0.54" fill="#c2c2c2" opacity="0.8"/>
<circle cx="296.0" cy="31.8" r="0.47" fill="#c2c2c2" opacity="0.8"/>
<circle cx="294.4" cy="30.1" r="0.37" fill="#c2c2c2" opacity="0.8"/>
<circle cx="323.3" cy="35.0" r="0.48" fill="#c2c2c2" opacity="0.8"/>
<circle cx="321.7" cy="53.0" r="0.52" fill="#c2c2c2" opacity="0.8"/>
<circle cx="283.8" cy="58.2" r="0.42" fill="#c2c2c2" opacity="0.8"/>
<circle cx="296.0" cy="35.8" r="0.80" fill="#c2c2c2" opacity="0.8"/>
<circle cx="278.2" cy="47.5" r="0.56" fill="#c2c2c2" opacity="0.8"/>
<circle cx="262.9" cy="25.6" r="0.74" fill="#c2c2c2" opacity="0.8"/>
<circle cx="322.1" cy="27.3" r="0.39" fill="#c2c2c2" opacity="0.8"/>
<circle cx="334.1" cy="47.2" r="0.66" fill="#c2c2c2" opacity="0.8"/>
<circle cx="331.6" cy="29.8" r="0.55" fill="#c2c2c2" opacity="0.8"/>
<circle cx="332.1" cy="25.9" r="0.43" fill="#c2c2c2" opacity="0.8"/>
<circle cx="329.5" cy="60.6" r="0.56" fill="#c2c2c2" opacity="0.8"/>
<circle cx="269.7" cy="60.2" r="0.45" fill="#c2c2c2" opacity="0.8"/>
<circle cx="319.6" cy="29.5" r="0.38" fill="#c2c2c2" opacity="0.8"/>
<circle cx="314.5" cy="36.8" r="0.49" fill="#c2c2c2" opacity="0.8"/>
<circle cx="294.1" cy="40.3" r="0.54" fill="#c2c2c2" opacity="0.8"/>
<circle cx="310.9" cy="21.6" r="0.64" fill="#c2c2c2" opacity="0.8"/>
<circle cx="297.9" cy="59.4" r="0.44" fill="#c2c2c2" opacity="0.8"/>
<circle cx="312.4" cy="26.9" r="0.65" fill="#c2c2c2" opacity="0.8"/>
<circle cx="313.5" cy="44.8" r="0.54" fill="#c2c2c2" opacity="0.8"/>
<circle cx="335.0" cy="35.0" r="0.34" fill="#c2c2c2" opacity="0.8"/>
<circle cx="285.5" cy="18.3" r="0.75" fill="#c2c2c2" opacity="0.8"/>
<circle cx="325.8" cy="25.8" r="0.61" fill="#c2c2c2" opacity="0.8"/>
<circle cx="275.4" cy="61.3" r="0.51" fill="#c2c2c2" opacity="0.8"/>
<circle cx="263.7" cy="49.6" r="0.34" fill="#c2c2c2" opacity="0.8"/>
<circle cx="330.5" cy="65.2" r="0.61" fill="#c2c2c2" opacity="0.8"/>
<circle cx="278.6" cy="57.1" r="0.32" fill="#c2c2c2" opacity="0.8"/>
<circle cx="267.9" cy="32.1" r="0.34" fill="#c2c2c2" opacity="0.8"/>
<circle cx="328.9" cy="51.4" r="0.70" fill="#c2c2c2" opacity="0.8"/>
<circle cx="311.6" cy="27.9" r="0.44" fill="#c2c2c2" opacity="0.8"/>
<circle cx="307.6" cy="57.9" r="0.61" fill="#c2c2c2" opacity="0.8"/>
<circle cx="284.7" cy="58.4" r="0.51" fill="#c2c2c2" opacity="0.8"/>
<circle cx="309.2" cy="61.0" r="0.63" fill="#c2c2c2" opacity="0.8"/>
<circle cx="295.8" cy="47.3" r="0.40" fill="#c2c2c2" opacity="0.8"/>
<circle cx="293.9" cy="60.1" r="0.54" fill="#c2c2c2" opacity="0.8"/>
<circle cx="260.3" cy="59.2" r="0.38" fill="#c2c2c2" opacity="0.8"/>
<circle cx="261.6" cy="46.7" r="0.68" fill="#c2c2c2" opacity="0.8"/>
<circle cx="268.0" cy="39.5" r="0.53" fill="#c2c2c2" opacity="0.8"/>
<circle cx="268.8" cy="49.3" r="0.43" fill="#c2c2c2" opacity="0.8"/>
<circle cx="314.3" cy="42.6" r="0.56" fill="#c2c2c2" opacity="0.8"/>
<circle cx="277.5" cy="56.5" r="0.31" fill="#c2c2c2" opacity="0.8"/>
<circle cx="284.1" cy="21.4" r="0.34" fill="#c2c2c2" opacity="0.8"/>
<circle cx="259.9" cy="43.7" r="0.34" fill="#c2c2c2" opacity="0.8"/>
<circle cx="268.1" cy="38.9" r="0.64" fill="#c2c2c2" opacity="0.8"/>
<circle cx="275.2" cy="50.8" r="0.58" fill="#c2c2c2" opacity="0.8"/>
<circle cx="333.0" cy="58.9" r="0.80" fill="#c2c2c2" opacity="0.8"/>
<circle cx="287.6" cy="62.9" r="0.46" fill="#c2c2c2" opacity="0.8"/>
<circle cx="281.6" cy="38.6" r="0.31" fill="#c2c2c2" opacity="0.8"/>
<circle cx="316.9" cy="20.7" r="0.61" fill="#c2c2c2" opacity="0.8"/>
<circle cx="263.7" cy="38.6" r="0.43" fill="#c2c2c2" opacity="0.8"/>
<circle cx="334.6" cy="31.8" r="0.48" fill="#c2c2c2" opacity="0.8"/>
<circle cx="283.6" cy="22.6" r="0.62" fill="#c2c2c2" opacity="0.8"/>
<circle cx="283.2" cy="30.4" r="0.46" fill="#c2c2c2" opacity="0.8"/>
<circle cx="287.2" cy="58.1" r="0.41" fill="#c2c2c2" opacity="0.8"/>
<circle cx="268.9" cy="33.5" r="0.58" fill="#c2c2c2" opacity="0.8"/>
<circle cx="281.6" cy="21.8" r="0.48" fill="#c2c2c2" opacity="0.8"/>
<circle cx="335.9" cy="63.5" r="0.52" fill="#c2c2c2" opacity="0.8"/>
<circle cx="264" cy="24" r="2.73" fill="#dcdcdc" opacity="0.55" filter="url(#bl)"/>
<ellipse cx="264" cy="24" rx="2.03" ry="1.83" fill="#141414" filter="url(#bl)"/>
<circle cx="262" cy="26.5" r="2.58" fill="#dcdcdc" opacity="0.55" filter="url(#bl)"/>
<ellipse cx="262" cy="26.5" rx="1.885" ry="1.70" fill="#141414" filter="url(#bl)"/>
<circle cx="268.5" cy="20.5" r="2.58" fill="#dcdcdc" opacity="0.55" filter="url(#bl)"/>
<ellipse cx="268.5" cy="20.5" rx="1.885" ry="1.70" fill="#141414" filter="url(#bl)"/>
<circle cx="285.5" cy="20.2" r="2.73" fill="#dcdcdc" opacity="0.55" filter="url(#bl)"/>
<ellipse cx="285.5" cy="20.2" rx="2.03" ry="1.83" fill="#141414" filter="url(#bl)"/>
<circle cx="283.5" cy="24" r="2.58" fill="#dcdcdc" opacity="0.55" filter="url(#bl)"/>
<ellipse cx="283.5" cy="24" rx="1.885" ry="1.70" fill="#141414" filter="url(#bl)"/>
<circle cx="279" cy="27" r="2.44" fill="#dcdcdc" opacity="0.55" filter="url(#bl)"/>
<ellipse cx="279" cy="27" rx="1.74" ry="1.57" fill="#141414" filter="url(#bl)"/>
<circle cx="289" cy="27.5" r="2.29" fill="#dcdcdc" opacity="0.55" filter="url(#bl)"/>
<ellipse cx="289" cy="27.5" rx="1.595" ry="1.44" fill="#141414" filter="url(#bl)"/>
<circle cx="294" cy="25.5" r="2.15" fill="#dcdcdc" opacity="0.55" filter="url(#bl)"/>
<ellipse cx="294" cy="25.5" rx="1.45" ry="1.30" fill="#141414" filter="url(#bl)"/>
<circle cx="316" cy="21" r="2.88" fill="#dcdcdc" opacity="0.55" filter="url(#bl)"/>
<ellipse cx="316" cy="21" rx="2.175" ry="1.96" fill="#141414" filter="url(#bl)"/>
<circle cx="272" cy="28" r="2.44" fill="#dcdcdc" opacity="0.55" filter="url(#bl)"/>
<ellipse cx="272" cy="28" rx="1.74" ry="1.57" fill="#141414" filter="url(#bl)"/>
<ellipse cx="259.0" cy="27.8" rx="1.81" ry="1.45" fill="#121212" filter="url(#bl)"/>
<ellipse cx="263.0" cy="26.9" rx="1.49" ry="1.19" fill="#121212" filter="url(#bl)"/>
<ellipse cx="265.4" cy="26.3" rx="1.41" ry="1.13" fill="#121212" filter="url(#bl)"/>
<ellipse cx="270.0" cy="29.1" rx="1.96" ry="1.57" fill="#121212" filter="url(#bl)"/>
<ellipse cx="273.6" cy="27.4" rx="1.77" ry="1.42" fill="#121212" filter="url(#bl)"/>
<ellipse cx="277.3" cy="26.5" rx="1.70" ry="1.36" fill="#121212" filter="url(#bl)"/>
<ellipse cx="281.2" cy="26.6" rx="2.10" ry="1.68" fill="#121212" filter="url(#bl)"/>
<ellipse cx="284.0" cy="29.0" rx="1.38" ry="1.10" fill="#121212" filter="url(#bl)"/>
<ellipse cx="286.6" cy="29.0" rx="2.11" ry="1.69" fill="#121212" filter="url(#bl)"/>
<ellipse cx="289.1" cy="27.6" rx="1.78" ry="1.42" fill="#121212" filter="url(#bl)"/>
<ellipse cx="293.1" cy="27.0" rx="1.51" ry="1.21" fill="#121212" filter="url(#bl)"/>
<ellipse cx="296.0" cy="28.2" rx="1.32" ry="1.05" fill="#121212" filter="url(#bl)"/>
<ellipse cx="299.8" cy="26.4" rx="1.85" ry="1.48" fill="#121212" filter="url(#bl)"/>
<ellipse cx="310.0" cy="28.1" rx="2.26" ry="1.81" fill="#121212" filter="url(#bl)"/>
<ellipse cx="313.0" cy="28.1" rx="2.39" ry="1.91" fill="#121212" filter="url(#bl)"/>
<ellipse cx="316.5" cy="27.0" rx="1.99" ry="1.59" fill="#121212" filter="url(#bl)"/>
<rect x="304.8" y="16" width="4.8" height="19.9" fill="#ecdf78" />
<rect x="304.5" y="35.9" width="5.5" height="2" fill="#f6f6f6" />
<line x1="259" y1="30.6" x2="339" y2="30.6" stroke="#7fb2e0" stroke-width="0.9" />
<line x1="259" y1="37.8" x2="339" y2="37.8" stroke="#7fb2e0" stroke-width="0.9" />
<path d="M303.5,38 L310,38 L309.5,58 Q308.5,62 306,62 Q304,62 303.8,58 Z" fill="#d8d8d8" stroke="#333" stroke-width="0.55"/>
<text x="263" y="66.3" font-size="7.8" fill="#fff" stroke="#fff" stroke-width="0.05" textLength="46.0" lengthAdjust="spacingAndGlyphs"><tspan font-style="italic">σ</tspan>~3.2×10<tspan font-size="4.4" dy="-2.6">4</tspan><tspan dy="2.6"> </tspan><tspan font-style="italic">μ</tspan>m<tspan font-size="4.4" dy="-2.6">2</tspan></text>
<text x="6.3" y="78.3" font-size="11" fill="#000" text-anchor="start" font-weight="bold" >b</text>
<linearGradient id="jetg"><stop offset="0" stop-color="#1a30d0"/><stop offset="0.25" stop-color="#40a8f0"/><stop offset="0.45" stop-color="#80f0d0"/><stop offset="0.6" stop-color="#c0e850"/><stop offset="0.8" stop-color="#f8b030"/><stop offset="1" stop-color="#e02010"/></linearGradient>
<radialGradient id="ballg" cx="0.4" cy="0.35" r="0.65"><stop offset="0" stop-color="#ffffff" stop-opacity="0.16"/><stop offset="0.45" stop-color="#ffffff" stop-opacity="0.0"/><stop offset="0.88" stop-color="#0010a0" stop-opacity="0.28"/><stop offset="1" stop-color="#000870" stop-opacity="0.5"/></radialGradient>
<clipPath id="cu12"><path d="M12,78.8 L62.8,78.8 Q65.5,81 67.4,87.3 Q69.5,81 72.6,78.8 L91,78.8 L91,117 L12,117 Z"/></clipPath>
<rect x="12" y="72" width="79" height="45" fill="#fff" />
<g clip-path="url(#cu12)">
<rect x="12" y="72" width="79" height="45" fill="#1e32e6" />
<path d="M88,79 C88,102.25 74.95,110 59,110 C9.020000000000003,110 -40.96,90.78 -60,79 Z" fill="#3f7cf0" stroke="#1e1e1e" stroke-width="0.22"/>
<path d="M84,79 C84,97.75 73.65,104 61,104 C24.880000000000003,104 -11.24,88.5 -25,79 Z" fill="#58acf2" stroke="#1e1e1e" stroke-width="0.22"/>
<path d="M80.5,79 C80.5,94.0 72.625,99 63,99 C37.38,99 11.76,86.6 2,79 Z" fill="#72d8f0" stroke="#1e1e1e" stroke-width="0.22"/>
<path d="M79.3,79 C79.3,92.5 72.41499999999999,97 64,97 C45.519999999999996,97 27.04,85.84 20,79 Z" fill="#84f0d4" stroke="#1e1e1e" stroke-width="0.22"/>
<path d="M78.3,79 C78.3,91.375 72.315,95.5 65,95.5 C50.3,95.5 35.6,85.27 30,79 Z" fill="#a4f0a0" stroke="#1e1e1e" stroke-width="0.22"/>
<path d="M77.8,79 C77.8,90.625 72.265,94.5 65.5,94.5 C54.79,94.5 44.08,84.89 40,79 Z" fill="#bcea64" stroke="#1e1e1e" stroke-width="0.22"/>
<path d="M77,79 C77,90.25 72.05,94 66,94 C58.02,94 50.04,84.7 47,79 Z" fill="#e2e644" stroke="#1e1e1e" stroke-width="0.22"/>
<path d="M76.5,79 C76.5,89.875 72.0,93.5 66.5,93.5 C59.99,93.5 53.48,84.51 51,79 Z" fill="#f8c838" stroke="#1e1e1e" stroke-width="0.22"/>
<path d="M76,79 C76,89.5 71.95,93 67,93 C61.33,93 55.66,84.32 53.5,79 Z" fill="#f48a28" stroke="#1e1e1e" stroke-width="0.22"/>
<path d="M75.2,79 C75.2,89.125 71.69,92.5 67.4,92.5 C62.402,92.5 57.404,84.13 55.5,79 Z" fill="#e23a1c" stroke="#1e1e1e" stroke-width="0.22"/>
<path d="M74.2,79 C74.2,88.375 71.14,91.5 67.4,91.5 C63.242000000000004,91.5 59.084,83.75 57.5,79 Z" fill="#c81414" stroke="#1e1e1e" stroke-width="0.22"/>
</g>
<path d="M12,78.8 L62.8,78.8 Q65.5,81 67.4,87.3 Q69.5,81 72.6,78.8 L91,78.8 L91,117 L12,117 Z" fill="none" stroke="#222" stroke-width="0.35"/>
<rect x="12" y="72" width="79" height="45" fill="none" stroke="#5a5a5a" stroke-width="0.7"/>
<text x="38.5" y="77.8" font-size="5.8" fill="#111" stroke="#111" stroke-width="0.08" textLength="12.0" lengthAdjust="spacingAndGlyphs" >T (K)</text>
<text x="52.5" y="77.8" font-size="5.8" fill="#111" stroke="#111" stroke-width="0.08" textLength="8.5" lengthAdjust="spacingAndGlyphs" >400</text>
<rect x="61.7" y="74" width="16" height="3.6" fill="url(#jetg)" />
<text x="78" y="78" font-size="5.8" fill="#e02828" stroke="#e02828" stroke-width="0.08" textLength="12.0" lengthAdjust="spacingAndGlyphs" >2800</text>
<line x1="70.5" y1="105" x2="88.5" y2="105" stroke="#fff" stroke-width="1.3" />
<text x="68" y="113.2" font-size="6.8" fill="#fff" stroke="#fff" stroke-width="0.08" textLength="21.0" lengthAdjust="spacingAndGlyphs" >100 μm</text>
<text x="14" y="114.3" font-size="7.0" fill="#fff" stroke="#fff" stroke-width="0.05" textLength="47.0" lengthAdjust="spacingAndGlyphs"><tspan font-style="italic">σ</tspan>~1.2×10<tspan font-size="4.4" dy="-2.6">4</tspan><tspan dy="2.6"> </tspan><tspan font-style="italic">μ</tspan>m<tspan font-size="4.4" dy="-2.6">2</tspan></text>
<clipPath id="cu94"><path d="M94,78 L106,77.8 Q109,74.5 112,77.5 L125,78.5 L138,80.5 Q142,81 144,83.5 Q146.5,92.5 148,92.5 Q149.5,92 150.5,87 Q152,81 155,79.5 L173,79 L173,117 L94,117 Z"/></clipPath>
<rect x="94" y="72" width="79" height="45" fill="#fff" />
<g clip-path="url(#cu94)">
<rect x="94" y="72" width="79" height="45" fill="#1e32e6" />
<path d="M176,78 C176,106.5 161.15,116 143,116 C91.34,116 39.68,92.44 20,78 Z" fill="#3f7cf0" stroke="#1e1e1e" stroke-width="0.22"/>
<path d="M170,78 C170,104.25 158.75,113 145,113 C109.30000000000001,113 73.6,91.3 60,78 Z" fill="#58acf2" stroke="#1e1e1e" stroke-width="0.22"/>
<path d="M166,78 C166,101.25 157.0,109 146,109 C118.28,109 90.56,89.78 80,78 Z" fill="#72d8f0" stroke="#1e1e1e" stroke-width="0.22"/>
<path d="M164,78 C164,99.75 156.35,107 147,107 C126.84,107 106.68,89.02 99,78 Z" fill="#84f0d4" stroke="#1e1e1e" stroke-width="0.22"/>
<path d="M162,78 C162,99.0 155.475,106 147.5,106 C129.65,106 111.8,88.64 105,78 Z" fill="#a4f0a0" stroke="#1e1e1e" stroke-width="0.22"/>
<path d="M161,78 C161,98.25 155.15,105 148,105 C132.88,105 117.76,88.26 112,78 Z" fill="#bcea64" stroke="#1e1e1e" stroke-width="0.22"/>
<path d="M160,78 C160,97.5 154.6,104 148,104 C134.98,104 121.96,87.88 117,78 Z" fill="#e2e644" stroke="#1e1e1e" stroke-width="0.22"/>
<path d="M159,78 C159,96.75 154.05,103 148,103 C136.66,103 125.32,87.5 121,78 Z" fill="#f8c838" stroke="#1e1e1e" stroke-width="0.22"/>
<path d="M158,78 C158,96.0 153.5,102 148,102 C137.92,102 127.84,87.12 124,78 Z" fill="#f48a28" stroke="#1e1e1e" stroke-width="0.22"/>
<path d="M157,78 C157,94.875 152.95,100.5 148,100.5 C140.02,100.5 132.04,86.55 129,78 Z" fill="#e23a1c" stroke="#1e1e1e" stroke-width="0.22"/>
<path d="M156,78 C156,93.75 152.4,99 148,99 C141.7,99 135.4,85.98 133,78 Z" fill="#c81414" stroke="#1e1e1e" stroke-width="0.22"/>
</g>
<path d="M94,78 L106,77.8 Q109,74.5 112,77.5 L125,78.5 L138,80.5 Q142,81 144,83.5 Q146.5,92.5 148,92.5 Q149.5,92 150.5,87 Q152,81 155,79.5 L173,79 L173,117 L94,117 Z" fill="none" stroke="#222" stroke-width="0.35"/>
<rect x="94" y="72" width="79" height="45" fill="none" stroke="#5a5a5a" stroke-width="0.7"/>
<text x="97.4" y="105.3" font-size="6.8" fill="#1a2550" stroke="#1a2550" stroke-width="0.15" textLength="23.8" lengthAdjust="spacingAndGlyphs" ><tspan font-style="italic">t</tspan>=500 μs</text>
<text x="99.3" y="114.6" font-size="7.0" fill="#fff" stroke="#fff" stroke-width="0.05" textLength="45.0" lengthAdjust="spacingAndGlyphs"><tspan font-style="italic">σ</tspan>~2.4×10<tspan font-size="4.4" dy="-2.6">4</tspan><tspan dy="2.6"> </tspan><tspan font-style="italic">μ</tspan>m<tspan font-size="4.4" dy="-2.6">2</tspan></text>
<clipPath id="cu177"><path d="M177,76.5 L189,76 Q195,74.5 200,76.2 L215,79.5 L225,80 Q227,80.5 228,81.5 Q230.5,85 231.2,85 Q232.5,85 235,80.5 L238,79.5 L241,79 Q243,76.5 245.5,78 Q247,79.5 249,79.5 Q250,73 254,74 Q257,74 257,78 L257,117 L177,117 Z"/></clipPath>
<rect x="177" y="72" width="80" height="45" fill="#fff" />
<g clip-path="url(#cu177)">
<rect x="177" y="72" width="80" height="45" fill="#1e32e6" />
<path d="M256,76 C256,103.0 241.6,112 224,112 C171.92000000000002,112 119.84,89.68 100,76 Z" fill="#3f7cf0" stroke="#1e1e1e" stroke-width="0.22"/>
<path d="M252,76 C252,99.25 240.3,107 226,107 C187.78,107 149.56,87.78 135,76 Z" fill="#58acf2" stroke="#1e1e1e" stroke-width="0.22"/>
<path d="M250,76 C250,96.25 240.1,103 228,103 C197.34,103 166.68,86.26 155,76 Z" fill="#72d8f0" stroke="#1e1e1e" stroke-width="0.22"/>
<path d="M249,76 C249,94.0 240.0,100 229,100 C205.06,100 181.12,85.12 172,76 Z" fill="#84f0d4" stroke="#1e1e1e" stroke-width="0.22"/>
<path d="M248,76 C248,92.875 239.675,98.5 229.5,98.5 C208.71,98.5 187.92,84.55 180,76 Z" fill="#a4f0a0" stroke="#1e1e1e" stroke-width="0.22"/>
<path d="M247,76 C247,92.125 239.35,97.5 230,97.5 C215.72,97.5 201.44,84.17 196,76 Z" fill="#bcea64" stroke="#1e1e1e" stroke-width="0.22"/>
<path d="M245.5,76 C245.5,91.375 238.525,96.5 230,96.5 C219.5,96.5 209.0,83.79 205,76 Z" fill="#e2e644" stroke="#1e1e1e" stroke-width="0.22"/>
<path d="M244,76 C244,90.625 237.7,95.5 230,95.5 C222.02,95.5 214.04,83.41 211,76 Z" fill="#f8c838" stroke="#1e1e1e" stroke-width="0.22"/>
<path d="M242.5,76 C242.5,89.875 236.875,94.5 230,94.5 C224.12,94.5 218.24,83.03 216,76 Z" fill="#f48a28" stroke="#1e1e1e" stroke-width="0.22"/>
<path d="M240.5,76 C240.5,88.75 235.775,93 230,93 C225.8,93 221.6,82.46 220,76 Z" fill="#e23a1c" stroke="#1e1e1e" stroke-width="0.22"/>
<path d="M239,76 C239,88.0 234.95,92 230,92 C227.06,92 224.12,82.08 223,76 Z" fill="#c81414" stroke="#1e1e1e" stroke-width="0.22"/>
</g>
<path d="M177,76.5 L189,76 Q195,74.5 200,76.2 L215,79.5 L225,80 Q227,80.5 228,81.5 Q230.5,85 231.2,85 Q232.5,85 235,80.5 L238,79.5 L241,79 Q243,76.5 245.5,78 Q247,79.5 249,79.5 Q250,73 254,74 Q257,74 257,78 L257,117 L177,117 Z" fill="none" stroke="#222" stroke-width="0.35"/>
<rect x="177" y="72" width="80" height="45" fill="none" stroke="#5a5a5a" stroke-width="0.7"/>
<circle cx="249.5" cy="83" r="0.9" fill="#fff"/>
<text x="180.4" y="114.6" font-size="7.0" fill="#fff" stroke="#fff" stroke-width="0.05" textLength="47.0" lengthAdjust="spacingAndGlyphs"><tspan font-style="italic">σ</tspan>~1.6×10<tspan font-size="4.4" dy="-2.6">5</tspan><tspan dy="2.6"> </tspan><tspan font-style="italic">μ</tspan>m<tspan font-size="4.4" dy="-2.6">2</tspan></text>
<clipPath id="cu259"><path d="M259,76 L280,78.5 Q295,80 300,82 Q302.5,84 303,88 Q304,94.5 306,94.5 Q307.5,94 308,88 Q309.5,82 313,79 Q315.5,77 318,79 L320,79.5 Q322,78 324,80 Q326,78 328,79.5 Q329,71.5 334,72 Q339,72 339,77 L339,117 L259,117 Z"/></clipPath>
<rect x="259" y="72" width="80" height="45" fill="#fff" />
<g clip-path="url(#cu259)">
<rect x="259" y="72" width="80" height="45" fill="#1e32e6" />
<path d="M330,76 C330,103.75 315.6,113 298,113 C235.84,113 173.68,90.06 150,76 Z" fill="#3f7cf0" stroke="#1e1e1e" stroke-width="0.22"/>
<path d="M326,76 C326,100.75 314.3,109 300,109 C251.7,109 203.4,88.54 185,76 Z" fill="#58acf2" stroke="#1e1e1e" stroke-width="0.22"/>
<path d="M323,76 C323,97.75 313.55,105 302,105 C263.36,105 224.72,87.02 210,76 Z" fill="#72d8f0" stroke="#1e1e1e" stroke-width="0.22"/>
<path d="M321,76 C321,95.5 312.9,102 303,102 C271.5,102 240.0,85.88 228,76 Z" fill="#84f0d4" stroke="#1e1e1e" stroke-width="0.22"/>
<path d="M320,76 C320,94.375 312.8,100.5 304,100.5 C277.12,100.5 250.24,85.31 240,76 Z" fill="#a4f0a0" stroke="#1e1e1e" stroke-width="0.22"/>
<path d="M319,76 C319,93.625 312.7,99.5 305,99.5 C281.9,99.5 258.8,84.93 250,76 Z" fill="#bcea64" stroke="#1e1e1e" stroke-width="0.22"/>
<path d="M318,76 C318,92.875 312.375,98.5 305.5,98.5 C287.23,98.5 268.96,84.55 262,76 Z" fill="#e2e644" stroke="#1e1e1e" stroke-width="0.22"/>
<path d="M317,76 C317,92.125 312.05,97.5 306,97.5 C291.72,97.5 277.44,84.17 272,76 Z" fill="#f8c838" stroke="#1e1e1e" stroke-width="0.22"/>
<path d="M316,76 C316,91.375 311.725,96.5 306.5,96.5 C295.79,96.5 285.08,83.79 281,76 Z" fill="#f48a28" stroke="#1e1e1e" stroke-width="0.22"/>
<path d="M315,76 C315,90.625 311.4,95.5 307,95.5 C298.6,95.5 290.2,83.41 287,76 Z" fill="#e23a1c" stroke="#1e1e1e" stroke-width="0.22"/>
<path d="M314,76 C314,89.875 310.85,94.5 307,94.5 C300.28,94.5 293.56,83.03 291,76 Z" fill="#c81414" stroke="#1e1e1e" stroke-width="0.22"/>
</g>
<path d="M259,76 L280,78.5 Q295,80 300,82 Q302.5,84 303,88 Q304,94.5 306,94.5 Q307.5,94 308,88 Q309.5,82 313,79 Q315.5,77 318,79 L320,79.5 Q322,78 324,80 Q326,78 328,79.5 Q329,71.5 334,72 Q339,72 339,77 L339,117 L259,117 Z" fill="none" stroke="#222" stroke-width="0.35"/>
<line x1="331" y1="108" x2="331" y2="102" stroke="#fff" stroke-width="0.5" />
<line x1="331" y1="108" x2="326" y2="112" stroke="#fff" stroke-width="0.5" />
<line x1="331" y1="108" x2="336" y2="112" stroke="#fff" stroke-width="0.5" />
<text x="330.2" y="101" font-size="3.5" fill="#fff" stroke="#fff" stroke-width="0.05" >z</text>
<text x="323" y="115" font-size="3.5" fill="#fff" stroke="#fff" stroke-width="0.05" >y</text>
<text x="336" y="115" font-size="3.5" fill="#fff" stroke="#fff" stroke-width="0.05" >x</text>
<rect x="259" y="72" width="80" height="45" fill="none" stroke="#5a5a5a" stroke-width="0.7"/>
<path d="M327.5,90 L327.5,79.5 Q329,71.5 334,72 Q339,72 339,77 L339,90 Z" fill="#1a28e0"/>
<circle cx="333" cy="83" r="1" fill="#fff"/>
<text x="261.3" y="114.6" font-size="7.0" fill="#fff" stroke="#fff" stroke-width="0.05" textLength="49.7" lengthAdjust="spacingAndGlyphs"><tspan font-style="italic">σ</tspan>~2.9×10<tspan font-size="4.4" dy="-2.6">4</tspan><tspan dy="2.6"> </tspan><tspan font-style="italic">μ</tspan>m<tspan font-size="4.4" dy="-2.6">2</tspan></text>
<clipPath id="cl0"><rect x="12" y="118" width="79" height="45"/></clipPath>
<rect x="12" y="118" width="79" height="45" fill="#fff" />
<g clip-path="url(#cl0)">
<clipPath id="pl0"><path d="M26.3,118 L60,118 L91,133 L91,163 L41,163 L12,152.5 L12,132.3 Z"/></clipPath>
<path d="M26.3,118 L60,118 L91,133 L91,163 L41,163 L12,152.5 L12,132.3 Z" fill="#3a68e8"/>
<g clip-path="url(#pl0)">
<ellipse cx="51.2" cy="142.5" rx="37.5" ry="19" fill="#58acf2" stroke="#222" stroke-width="0.2" transform="rotate(10 51.2 142.5)"/>
<ellipse cx="53.7" cy="144.3" rx="30" ry="13.5" fill="#72d8f0" stroke="#222" stroke-width="0.2" transform="rotate(10 53.7 144.3)"/>
<ellipse cx="53" cy="144.5" rx="26" ry="11" fill="#84f0d4" stroke="#222" stroke-width="0.2" transform="rotate(10 53 144.5)"/>
<ellipse cx="53" cy="145" rx="21" ry="8.5" fill="#a4f0a0" stroke="#222" stroke-width="0.2" transform="rotate(10 53 145)"/>
<ellipse cx="57" cy="145.5" rx="16" ry="7" fill="#bcea64" stroke="#222" stroke-width="0.2" transform="rotate(10 57 145.5)"/>
<ellipse cx="61" cy="146.3" rx="10.5" ry="5.5" fill="#e2e644" stroke="#222" stroke-width="0.2" transform="rotate(10 61 146.3)"/>
<ellipse cx="64" cy="147" rx="8" ry="4.8" fill="#f8c838" stroke="#222" stroke-width="0.2" transform="rotate(10 64 147)"/>
<ellipse cx="67" cy="147.5" rx="6.8" ry="4.2" fill="#f48a28" stroke="#222" stroke-width="0.2" transform="rotate(10 67 147.5)"/>
<ellipse cx="69" cy="148" rx="5.8" ry="3.6" fill="#e23a1c" stroke="#222" stroke-width="0.2" transform="rotate(10 69 148)"/>
<ellipse cx="71" cy="148.3" rx="3.5" ry="2.6" fill="#c81414" stroke="#222" stroke-width="0.2" transform="rotate(10 71 148.3)"/>
</g>
<line x1="14.4" y1="154.2" x2="28.5" y2="159.5" stroke="#111" stroke-width="0.8" />
<text x="53" y="123.3" font-size="5.2" fill="#111" stroke="#111" stroke-width="0.1" >400</text>
<rect x="60.5" y="119.3" width="17.2" height="3.6" fill="url(#jetg)" />
<text x="77.7" y="123.5" font-size="5.4" fill="#e02828" stroke="#e02828" stroke-width="0.1" >2800</text>
<text x="65.4" y="129.6" font-size="7.0" fill="#1a2550" stroke="#1a2550" stroke-width="0.2" textLength="12.6" lengthAdjust="spacingAndGlyphs" >T (K)</text>
<line x1="16" y1="128" x2="16" y2="123" stroke="#222" stroke-width="0.4" />
<line x1="16" y1="128" x2="20" y2="131" stroke="#222" stroke-width="0.4" />
<line x1="16" y1="128" x2="12" y2="131" stroke="#222" stroke-width="0.4" />
<circle cx="39.6" cy="139.8" r="0.45" fill="none" stroke="#111" stroke-width="0.3"/>
<circle cx="51.3" cy="142.4" r="0.33" fill="none" stroke="#111" stroke-width="0.3"/>
<circle cx="32.4" cy="140.2" r="0.40" fill="none" stroke="#111" stroke-width="0.3"/>
<circle cx="39.5" cy="142.4" r="0.49" fill="none" stroke="#111" stroke-width="0.3"/>
<circle cx="58.8" cy="142.8" r="0.56" fill="none" stroke="#111" stroke-width="0.3"/>
<circle cx="36.8" cy="139.8" r="0.65" fill="none" stroke="#111" stroke-width="0.3"/>
<circle cx="48.7" cy="142.6" r="0.57" fill="none" stroke="#111" stroke-width="0.3"/>
<circle cx="34.0" cy="140.0" r="0.54" fill="none" stroke="#111" stroke-width="0.3"/>
<circle cx="41.6" cy="137.0" r="0.65" fill="none" stroke="#111" stroke-width="0.3"/>
<circle cx="47.1" cy="142.2" r="0.65" fill="none" stroke="#111" stroke-width="0.3"/>
<circle cx="54.9" cy="144.8" r="0.46" fill="none" stroke="#111" stroke-width="0.3"/>
<circle cx="57.6" cy="142.4" r="0.67" fill="none" stroke="#111" stroke-width="0.3"/>
<circle cx="60.1" cy="140.8" r="0.35" fill="none" stroke="#111" stroke-width="0.3"/>
<circle cx="38.9" cy="142.2" r="0.47" fill="none" stroke="#111" stroke-width="0.3"/>
<circle cx="52.1" cy="140.5" r="0.50" fill="none" stroke="#111" stroke-width="0.3"/>
<circle cx="44.3" cy="139.4" r="0.53" fill="none" stroke="#111" stroke-width="0.3"/>
<circle cx="50.7" cy="143.9" r="0.57" fill="none" stroke="#111" stroke-width="0.3"/>
<circle cx="61.7" cy="145.6" r="0.70" fill="none" stroke="#111" stroke-width="0.3"/>
<circle cx="53.5" cy="140.0" r="0.64" fill="none" stroke="#111" stroke-width="0.3"/>
<circle cx="62.9" cy="146.1" r="0.53" fill="none" stroke="#111" stroke-width="0.3"/>
<circle cx="54.8" cy="140.5" r="0.63" fill="none" stroke="#111" stroke-width="0.3"/>
<circle cx="50.4" cy="140.1" r="0.33" fill="none" stroke="#111" stroke-width="0.3"/>
<circle cx="59.3" cy="146.0" r="0.34" fill="none" stroke="#111" stroke-width="0.3"/>
<circle cx="57.6" cy="142.2" r="0.36" fill="none" stroke="#111" stroke-width="0.3"/>
<circle cx="41.4" cy="141.4" r="0.65" fill="none" stroke="#111" stroke-width="0.3"/>
<circle cx="33.4" cy="139.1" r="0.32" fill="none" stroke="#111" stroke-width="0.3"/>
<circle cx="55.0" cy="141.2" r="0.65" fill="none" stroke="#111" stroke-width="0.3"/>
<circle cx="63.4" cy="143.8" r="0.70" fill="none" stroke="#111" stroke-width="0.3"/>
<circle cx="41.9" cy="137.4" r="0.54" fill="none" stroke="#111" stroke-width="0.3"/>
<circle cx="33.0" cy="136.5" r="0.46" fill="none" stroke="#111" stroke-width="0.3"/>
<circle cx="66.4" cy="145.5" r="0.46" fill="none" stroke="#111" stroke-width="0.3"/>
<circle cx="65.5" cy="145.2" r="0.46" fill="none" stroke="#111" stroke-width="0.3"/>
<circle cx="73.2" cy="150.3" r="0.61" fill="none" stroke="#111" stroke-width="0.3"/>
<circle cx="66.2" cy="147.7" r="0.41" fill="none" stroke="#111" stroke-width="0.3"/>
<circle cx="65.7" cy="145.4" r="0.39" fill="none" stroke="#111" stroke-width="0.3"/>
<circle cx="73.3" cy="150.4" r="0.62" fill="none" stroke="#111" stroke-width="0.3"/>
<circle cx="72.0" cy="147.0" r="0.42" fill="none" stroke="#111" stroke-width="0.3"/>
<circle cx="70.3" cy="149.4" r="0.64" fill="none" stroke="#111" stroke-width="0.3"/>
<circle cx="72.8" cy="146.6" r="0.54" fill="none" stroke="#111" stroke-width="0.3"/>
<circle cx="70.7" cy="148.3" r="0.37" fill="none" stroke="#111" stroke-width="0.3"/>
<circle cx="68.7" cy="145.9" r="0.67" fill="none" stroke="#111" stroke-width="0.3"/>
<circle cx="72.7" cy="148.9" r="0.42" fill="none" stroke="#111" stroke-width="0.3"/>
<circle cx="73.1" cy="149.1" r="0.65" fill="none" stroke="#111" stroke-width="0.3"/>
<circle cx="72.5" cy="148.7" r="0.47" fill="none" stroke="#111" stroke-width="0.3"/>
<circle cx="70.0" cy="147.8" r="0.36" fill="none" stroke="#111" stroke-width="0.3"/>
<circle cx="67.1" cy="149.2" r="0.32" fill="none" stroke="#111" stroke-width="0.3"/>
<circle cx="64.5" cy="147.8" r="0.41" fill="none" stroke="#111" stroke-width="0.3"/>
<circle cx="69.3" cy="147.9" r="0.44" fill="none" stroke="#111" stroke-width="0.3"/>
<circle cx="74.0" cy="147.4" r="0.47" fill="none" stroke="#111" stroke-width="0.3"/>
<circle cx="66.0" cy="148.1" r="0.41" fill="none" stroke="#111" stroke-width="0.3"/>
<circle cx="67.6" cy="149.0" r="0.43" fill="none" stroke="#111" stroke-width="0.3"/>
<circle cx="69.6" cy="150.1" r="0.34" fill="none" stroke="#111" stroke-width="0.3"/>
<circle cx="64.6" cy="145.9" r="0.61" fill="none" stroke="#111" stroke-width="0.3"/>
<circle cx="70.2" cy="146.9" r="0.43" fill="none" stroke="#111" stroke-width="0.3"/>
<circle cx="65.8" cy="147.2" r="0.32" fill="none" stroke="#111" stroke-width="0.3"/>
</g>
<rect x="12" y="118" width="79" height="45" fill="none" stroke="#5a5a5a" stroke-width="0.7"/>
<clipPath id="cl1"><rect x="94" y="118" width="79" height="45"/></clipPath>
<rect x="94" y="118" width="79" height="45" fill="#fff" />
<g clip-path="url(#cl1)">
<clipPath id="pl1"><path d="M94,118 L149.6,118 L173,127.7 L173,163 L128.5,163 L94,153 Z"/></clipPath>
<path d="M94,118 L149.6,118 L173,127.7 L173,163 L128.5,163 L94,153 Z" fill="#3a68e8"/>
<g clip-path="url(#pl1)">
<ellipse cx="126" cy="136" rx="52" ry="28" fill="#3f7cf0" stroke="#222" stroke-width="0.2" transform="rotate(10 126 136)"/>
<ellipse cx="130" cy="140" rx="46" ry="23" fill="#58acf2" stroke="#222" stroke-width="0.2" transform="rotate(10 130 140)"/>
<ellipse cx="137" cy="142.5" rx="34" ry="18.5" fill="#72d8f0" stroke="#222" stroke-width="0.2" transform="rotate(10 137 142.5)"/>
<ellipse cx="136.4" cy="143.8" rx="29.6" ry="14.2" fill="#84f0d4" stroke="#222" stroke-width="0.2" transform="rotate(10 136.4 143.8)"/>
<ellipse cx="140" cy="144" rx="23.4" ry="11" fill="#a4f0a0" stroke="#222" stroke-width="0.2" transform="rotate(10 140 144)"/>
<ellipse cx="145" cy="145.5" rx="16" ry="7.5" fill="#e2e644" stroke="#222" stroke-width="0.2" transform="rotate(10 145 145.5)"/>
<ellipse cx="150.5" cy="146.2" rx="11.7" ry="5.5" fill="#f48a28" stroke="#222" stroke-width="0.2" transform="rotate(10 150.5 146.2)"/>
<ellipse cx="156" cy="147.4" rx="7.4" ry="4.3" fill="#e23a1c" stroke="#222" stroke-width="0.2" transform="rotate(10 156 147.4)"/>
<ellipse cx="158" cy="147.8" rx="4.5" ry="3" fill="#c81414" stroke="#222" stroke-width="0.2" transform="rotate(10 158 147.8)"/>
</g>
<line x1="96.4" y1="154.2" x2="110.5" y2="159.5" stroke="#111" stroke-width="0.8" />
<text x="96.5" y="162.3" font-size="4.8" fill="#111" stroke="#111" stroke-width="0.1" >100 μm</text>
</g>
<rect x="94" y="118" width="79" height="45" fill="none" stroke="#5a5a5a" stroke-width="0.7"/>
<clipPath id="cl2"><rect x="177" y="118" width="80" height="45"/></clipPath>
<rect x="177" y="118" width="80" height="45" fill="#fff" />
<g clip-path="url(#cl2)">
<clipPath id="pl2"><path d="M177,118 L257,118 L257,163 L177,163 Z"/></clipPath>
<path d="M177,118 L257,118 L257,163 L177,163 Z" fill="#2036d4"/>
<g clip-path="url(#pl2)">
<ellipse cx="215" cy="139" rx="34" ry="13" fill="#3f7cf0" stroke="#222" stroke-width="0.2" transform="rotate(16 215 139)"/>
<ellipse cx="212" cy="138" rx="29" ry="11" fill="#58acf2" stroke="#222" stroke-width="0.2" transform="rotate(16 212 138)"/>
<ellipse cx="208" cy="136" rx="24" ry="9" fill="#72d8f0" stroke="#222" stroke-width="0.2" transform="rotate(14 208 136)"/>
<ellipse cx="221" cy="141" rx="22" ry="9.5" fill="#84f0d4" stroke="#222" stroke-width="0.2" transform="rotate(16 221 141)"/>
<ellipse cx="227" cy="143" rx="19" ry="8.5" fill="#a4f0a0" stroke="#222" stroke-width="0.2" transform="rotate(14 227 143)"/>
<ellipse cx="230" cy="144" rx="14" ry="7" fill="#bcea64" stroke="#222" stroke-width="0.2" transform="rotate(12 230 144)"/>
<ellipse cx="232" cy="145" rx="9" ry="6" fill="#e2e644" stroke="#222" stroke-width="0.2" transform="rotate(12 232 145)"/>
<ellipse cx="237" cy="146" rx="8" ry="5" fill="#f48a28" stroke="#222" stroke-width="0.2" transform="rotate(10 237 146)"/>
<ellipse cx="242" cy="147.4" rx="7" ry="4.3" fill="#e23a1c" stroke="#222" stroke-width="0.2" transform="rotate(10 242 147.4)"/>
<ellipse cx="244" cy="147.6" rx="4" ry="3" fill="#c81414" stroke="#222" stroke-width="0.2" transform="rotate(10 244 147.6)"/>
</g>
<circle cx="243.1" cy="116.3" r="3.03" fill="url(#ballg)"/>
<circle cx="223.8" cy="116.6" r="2.68" fill="url(#ballg)"/>
<circle cx="202.8" cy="116.6" r="2.74" fill="url(#ballg)"/>
<circle cx="223.2" cy="116.6" r="2.15" fill="url(#ballg)"/>
<circle cx="205.3" cy="116.8" r="2.20" fill="url(#ballg)"/>
<circle cx="193.0" cy="116.9" r="2.66" fill="url(#ballg)"/>
<circle cx="204.0" cy="117.0" r="2.28" fill="url(#ballg)"/>
<circle cx="178.0" cy="117.2" r="3.03" fill="url(#ballg)"/>
<circle cx="235.5" cy="117.4" r="2.06" fill="url(#ballg)"/>
<circle cx="241.9" cy="117.4" r="2.96" fill="url(#ballg)"/>
<circle cx="257.2" cy="117.6" r="2.72" fill="url(#ballg)"/>
<circle cx="191.2" cy="117.7" r="2.54" fill="url(#ballg)"/>
<circle cx="247.2" cy="117.8" r="3.31" fill="url(#ballg)"/>
<circle cx="217.0" cy="117.9" r="2.42" fill="url(#ballg)"/>
<circle cx="192.0" cy="117.9" r="3.22" fill="url(#ballg)"/>
<circle cx="175.8" cy="118.1" r="3.12" fill="url(#ballg)"/>
<circle cx="227.3" cy="118.1" r="1.97" fill="url(#ballg)"/>
<circle cx="209.5" cy="118.2" r="2.68" fill="url(#ballg)"/>
<circle cx="175.8" cy="118.3" r="2.09" fill="url(#ballg)"/>
<circle cx="233.9" cy="118.4" r="2.12" fill="url(#ballg)"/>
<circle cx="218.6" cy="118.5" r="2.47" fill="url(#ballg)"/>
<circle cx="195.5" cy="118.5" r="2.44" fill="url(#ballg)"/>
<circle cx="200.7" cy="118.5" r="1.86" fill="url(#ballg)"/>
<circle cx="217.7" cy="118.6" r="2.43" fill="url(#ballg)"/>
<circle cx="206.4" cy="118.7" r="2.92" fill="url(#ballg)"/>
<circle cx="175.5" cy="119.0" r="3.05" fill="url(#ballg)"/>
<circle cx="236.2" cy="119.0" r="2.58" fill="url(#ballg)"/>
<circle cx="193.9" cy="119.1" r="2.71" fill="url(#ballg)"/>
<circle cx="248.1" cy="119.1" r="2.28" fill="url(#ballg)"/>
<circle cx="183.6" cy="119.2" r="2.13" fill="url(#ballg)"/>
<circle cx="244.7" cy="119.2" r="3.14" fill="url(#ballg)"/>
<circle cx="243.2" cy="119.4" r="2.17" fill="url(#ballg)"/>
<circle cx="235.6" cy="119.4" r="2.83" fill="url(#ballg)"/>
<circle cx="182.9" cy="119.5" r="3.24" fill="url(#ballg)"/>
<circle cx="206.9" cy="119.5" r="1.89" fill="url(#ballg)"/>
<circle cx="235.1" cy="119.5" r="3.01" fill="url(#ballg)"/>
<circle cx="213.4" cy="119.6" r="2.41" fill="url(#ballg)"/>
<circle cx="189.9" cy="119.8" r="2.04" fill="url(#ballg)"/>
<circle cx="237.4" cy="120.1" r="2.45" fill="url(#ballg)"/>
<circle cx="195.6" cy="120.1" r="2.49" fill="url(#ballg)"/>
<circle cx="181.5" cy="120.3" r="2.37" fill="url(#ballg)"/>
<circle cx="180.0" cy="120.3" r="2.35" fill="url(#ballg)"/>
<circle cx="234.0" cy="120.4" r="1.98" fill="url(#ballg)"/>
<circle cx="253.4" cy="120.5" r="2.37" fill="url(#ballg)"/>
<circle cx="232.5" cy="120.5" r="1.91" fill="url(#ballg)"/>
<circle cx="188.2" cy="120.5" r="2.04" fill="url(#ballg)"/>
<circle cx="197.8" cy="120.7" r="2.56" fill="url(#ballg)"/>
<circle cx="208.2" cy="120.8" r="1.85" fill="url(#ballg)"/>
<circle cx="189.2" cy="120.8" r="2.95" fill="url(#ballg)"/>
<circle cx="215.0" cy="120.9" r="2.11" fill="url(#ballg)"/>
<circle cx="214.2" cy="121.0" r="3.03" fill="url(#ballg)"/>
<circle cx="226.7" cy="121.1" r="3.01" fill="url(#ballg)"/>
<circle cx="241.2" cy="121.2" r="2.50" fill="url(#ballg)"/>
<circle cx="201.4" cy="121.3" r="2.67" fill="url(#ballg)"/>
<circle cx="207.5" cy="121.3" r="2.90" fill="url(#ballg)"/>
<circle cx="254.7" cy="121.4" r="1.90" fill="url(#ballg)"/>
<circle cx="177.6" cy="121.7" r="2.70" fill="url(#ballg)"/>
<circle cx="193.8" cy="121.7" r="2.30" fill="url(#ballg)"/>
<circle cx="199.9" cy="121.7" r="2.57" fill="url(#ballg)"/>
<circle cx="224.5" cy="121.8" r="2.95" fill="url(#ballg)"/>
<circle cx="245.9" cy="121.9" r="3.01" fill="url(#ballg)"/>
<circle cx="231.0" cy="122.0" r="2.07" fill="url(#ballg)"/>
<circle cx="226.9" cy="122.2" r="1.80" fill="url(#ballg)"/>
<circle cx="201.3" cy="122.4" r="1.93" fill="url(#ballg)"/>
<circle cx="179.3" cy="122.4" r="2.37" fill="url(#ballg)"/>
<circle cx="225.3" cy="122.7" r="2.18" fill="url(#ballg)"/>
<circle cx="189.7" cy="122.8" r="2.59" fill="url(#ballg)"/>
<circle cx="219.4" cy="122.8" r="1.89" fill="url(#ballg)"/>
<circle cx="251.6" cy="123.1" r="2.23" fill="url(#ballg)"/>
<circle cx="208.9" cy="123.2" r="2.40" fill="url(#ballg)"/>
<circle cx="179.5" cy="123.4" r="3.32" fill="url(#ballg)"/>
<circle cx="202.8" cy="123.5" r="2.74" fill="url(#ballg)"/>
<circle cx="197.5" cy="123.6" r="3.38" fill="url(#ballg)"/>
<circle cx="214.1" cy="123.6" r="2.15" fill="url(#ballg)"/>
<circle cx="188.0" cy="123.8" r="2.40" fill="url(#ballg)"/>
<circle cx="236.3" cy="124.0" r="2.12" fill="url(#ballg)"/>
<circle cx="205.3" cy="124.1" r="2.03" fill="url(#ballg)"/>
<circle cx="200.3" cy="124.2" r="3.29" fill="url(#ballg)"/>
<circle cx="180.5" cy="124.3" r="2.22" fill="url(#ballg)"/>
<circle cx="219.5" cy="124.4" r="2.94" fill="url(#ballg)"/>
<circle cx="236.3" cy="124.4" r="3.05" fill="url(#ballg)"/>
<circle cx="250.4" cy="124.7" r="2.02" fill="url(#ballg)"/>
<circle cx="207.8" cy="124.7" r="2.84" fill="url(#ballg)"/>
<circle cx="256.6" cy="124.8" r="2.61" fill="url(#ballg)"/>
<circle cx="225.7" cy="125.0" r="2.10" fill="url(#ballg)"/>
<circle cx="246.6" cy="125.6" r="2.27" fill="url(#ballg)"/>
<circle cx="255.2" cy="125.6" r="3.01" fill="url(#ballg)"/>
<circle cx="250.6" cy="125.8" r="3.08" fill="url(#ballg)"/>
<circle cx="222.5" cy="126.2" r="2.53" fill="url(#ballg)"/>
<circle cx="226.3" cy="126.2" r="2.63" fill="url(#ballg)"/>
<circle cx="210.9" cy="126.3" r="2.62" fill="url(#ballg)"/>
<circle cx="248.2" cy="126.3" r="2.14" fill="url(#ballg)"/>
<circle cx="249.5" cy="126.4" r="2.29" fill="url(#ballg)"/>
<circle cx="258.5" cy="126.6" r="2.47" fill="url(#ballg)"/>
<circle cx="179.5" cy="126.7" r="3.36" fill="url(#ballg)"/>
<circle cx="245.7" cy="126.7" r="2.83" fill="url(#ballg)"/>
<circle cx="232.2" cy="126.9" r="1.99" fill="url(#ballg)"/>
<circle cx="210.0" cy="127.1" r="1.84" fill="url(#ballg)"/>
<circle cx="214.6" cy="127.1" r="1.89" fill="url(#ballg)"/>
<circle cx="177.1" cy="127.3" r="1.93" fill="url(#ballg)"/>
<circle cx="199.1" cy="127.5" r="2.57" fill="url(#ballg)"/>
<circle cx="209.1" cy="127.6" r="2.75" fill="url(#ballg)"/>
<circle cx="250.3" cy="127.7" r="3.36" fill="url(#ballg)"/>
<circle cx="223.5" cy="128.0" r="1.90" fill="url(#ballg)"/>
<circle cx="214.4" cy="128.1" r="2.67" fill="url(#ballg)"/>
<circle cx="180.1" cy="128.5" r="2.45" fill="url(#ballg)"/>
<circle cx="184.1" cy="128.7" r="2.37" fill="url(#ballg)"/>
<circle cx="249.7" cy="129.0" r="2.81" fill="url(#ballg)"/>
<circle cx="193.1" cy="129.6" r="2.12" fill="url(#ballg)"/>
<circle cx="196.3" cy="129.6" r="2.06" fill="url(#ballg)"/>
<circle cx="209.1" cy="129.6" r="2.46" fill="url(#ballg)"/>
<circle cx="231.8" cy="130.0" r="1.90" fill="url(#ballg)"/>
<circle cx="216.3" cy="130.0" r="2.56" fill="url(#ballg)"/>
<circle cx="222.5" cy="130.2" r="1.97" fill="url(#ballg)"/>
<circle cx="207.1" cy="130.2" r="2.60" fill="url(#ballg)"/>
<circle cx="231.2" cy="130.3" r="2.88" fill="url(#ballg)"/>
<circle cx="196.7" cy="130.6" r="1.80" fill="url(#ballg)"/>
<circle cx="180.5" cy="130.8" r="2.76" fill="url(#ballg)"/>
<circle cx="251.0" cy="130.8" r="2.25" fill="url(#ballg)"/>
<circle cx="177.3" cy="131.3" r="2.41" fill="url(#ballg)"/>
<circle cx="220.8" cy="131.3" r="2.31" fill="url(#ballg)"/>
<circle cx="210.3" cy="131.4" r="3.00" fill="url(#ballg)"/>
<circle cx="184.9" cy="131.5" r="3.26" fill="url(#ballg)"/>
<circle cx="186.2" cy="131.6" r="2.09" fill="url(#ballg)"/>
<circle cx="209.9" cy="131.6" r="3.37" fill="url(#ballg)"/>
<circle cx="252.2" cy="132.0" r="3.10" fill="url(#ballg)"/>
<circle cx="209.3" cy="132.1" r="1.95" fill="url(#ballg)"/>
<circle cx="194.7" cy="132.3" r="2.78" fill="url(#ballg)"/>
<circle cx="219.8" cy="132.5" r="2.27" fill="url(#ballg)"/>
<circle cx="239.7" cy="132.5" r="1.96" fill="url(#ballg)"/>
<circle cx="199.9" cy="132.5" r="3.16" fill="url(#ballg)"/>
<circle cx="216.9" cy="132.6" r="1.94" fill="url(#ballg)"/>
<circle cx="220.8" cy="132.6" r="2.73" fill="url(#ballg)"/>
<circle cx="252.1" cy="132.7" r="3.28" fill="url(#ballg)"/>
<circle cx="182.7" cy="132.7" r="2.78" fill="url(#ballg)"/>
<circle cx="244.6" cy="133.2" r="3.15" fill="url(#ballg)"/>
<circle cx="186.6" cy="133.2" r="2.59" fill="url(#ballg)"/>
<circle cx="195.3" cy="133.2" r="2.20" fill="url(#ballg)"/>
<circle cx="182.4" cy="133.3" r="1.93" fill="url(#ballg)"/>
<circle cx="222.2" cy="133.5" r="3.00" fill="url(#ballg)"/>
<circle cx="242.1" cy="133.8" r="2.75" fill="url(#ballg)"/>
<circle cx="241.2" cy="133.9" r="2.73" fill="url(#ballg)"/>
<circle cx="194.7" cy="134.2" r="2.98" fill="url(#ballg)"/>
<circle cx="238.3" cy="134.3" r="3.04" fill="url(#ballg)"/>
<circle cx="199.0" cy="134.3" r="1.96" fill="url(#ballg)"/>
<circle cx="225.2" cy="134.3" r="2.89" fill="url(#ballg)"/>
<circle cx="229.1" cy="134.4" r="2.39" fill="url(#ballg)"/>
<circle cx="220.7" cy="134.4" r="1.99" fill="url(#ballg)"/>
<circle cx="251.9" cy="134.5" r="3.40" fill="url(#ballg)"/>
<circle cx="252.1" cy="134.7" r="2.81" fill="url(#ballg)"/>
<circle cx="243.2" cy="134.7" r="2.01" fill="url(#ballg)"/>
<circle cx="213.5" cy="134.8" r="2.63" fill="url(#ballg)"/>
<circle cx="251.6" cy="134.9" r="2.43" fill="url(#ballg)"/>
<circle cx="204.3" cy="134.9" r="2.02" fill="url(#ballg)"/>
<circle cx="219.4" cy="135.0" r="3.28" fill="url(#ballg)"/>
<circle cx="190.5" cy="135.1" r="2.31" fill="url(#ballg)"/>
<circle cx="220.7" cy="135.3" r="1.80" fill="url(#ballg)"/>
<circle cx="226.9" cy="135.6" r="2.03" fill="url(#ballg)"/>
<circle cx="226.3" cy="136.3" r="2.06" fill="url(#ballg)"/>
<circle cx="239.8" cy="136.5" r="2.61" fill="url(#ballg)"/>
<circle cx="243.4" cy="136.6" r="1.88" fill="url(#ballg)"/>
<circle cx="240.6" cy="136.7" r="3.36" fill="url(#ballg)"/>
<circle cx="210.0" cy="136.8" r="2.65" fill="url(#ballg)"/>
<circle cx="240.4" cy="137.0" r="2.72" fill="url(#ballg)"/>
<circle cx="194.4" cy="137.0" r="2.38" fill="url(#ballg)"/>
<circle cx="190.5" cy="137.0" r="2.23" fill="url(#ballg)"/>
<circle cx="229.3" cy="137.1" r="3.36" fill="url(#ballg)"/>
<circle cx="186.3" cy="137.2" r="2.30" fill="url(#ballg)"/>
<circle cx="206.6" cy="137.2" r="2.16" fill="url(#ballg)"/>
<circle cx="233.3" cy="137.2" r="2.26" fill="url(#ballg)"/>
<circle cx="213.7" cy="137.3" r="2.51" fill="url(#ballg)"/>
<circle cx="240.4" cy="137.3" r="2.75" fill="url(#ballg)"/>
<circle cx="232.7" cy="137.9" r="2.72" fill="url(#ballg)"/>
<circle cx="181.5" cy="138.0" r="2.98" fill="url(#ballg)"/>
<circle cx="200.8" cy="138.0" r="3.12" fill="url(#ballg)"/>
<circle cx="257.0" cy="138.2" r="2.58" fill="url(#ballg)"/>
<circle cx="196.2" cy="138.3" r="3.27" fill="url(#ballg)"/>
<circle cx="244.4" cy="138.3" r="2.47" fill="url(#ballg)"/>
<circle cx="206.5" cy="138.5" r="2.89" fill="url(#ballg)"/>
<circle cx="219.5" cy="138.8" r="2.38" fill="url(#ballg)"/>
<circle cx="211.0" cy="138.8" r="1.96" fill="url(#ballg)"/>
<circle cx="177.4" cy="138.8" r="3.31" fill="url(#ballg)"/>
<circle cx="253.9" cy="138.8" r="2.51" fill="url(#ballg)"/>
<circle cx="201.2" cy="138.9" r="2.25" fill="url(#ballg)"/>
<circle cx="197.8" cy="139.0" r="2.26" fill="url(#ballg)"/>
<circle cx="212.2" cy="139.1" r="1.94" fill="url(#ballg)"/>
<circle cx="236.3" cy="139.5" r="2.27" fill="url(#ballg)"/>
<circle cx="248.7" cy="139.5" r="2.32" fill="url(#ballg)"/>
<circle cx="201.5" cy="139.6" r="2.93" fill="url(#ballg)"/>
<circle cx="225.4" cy="140.0" r="3.30" fill="url(#ballg)"/>
<circle cx="244.9" cy="140.0" r="1.86" fill="url(#ballg)"/>
<circle cx="250.3" cy="140.8" r="1.97" fill="url(#ballg)"/>
<circle cx="175.8" cy="141.1" r="2.74" fill="url(#ballg)"/>
<circle cx="238.7" cy="141.3" r="3.24" fill="url(#ballg)"/>
<circle cx="238.0" cy="141.3" r="2.01" fill="url(#ballg)"/>
<circle cx="255.3" cy="141.4" r="2.65" fill="url(#ballg)"/>
<circle cx="187.8" cy="141.4" r="3.36" fill="url(#ballg)"/>
<circle cx="258.1" cy="141.4" r="2.36" fill="url(#ballg)"/>
<circle cx="232.1" cy="141.6" r="2.25" fill="url(#ballg)"/>
<circle cx="204.8" cy="141.7" r="3.04" fill="url(#ballg)"/>
<circle cx="206.1" cy="142.0" r="2.94" fill="url(#ballg)"/>
<circle cx="208.8" cy="142.0" r="1.93" fill="url(#ballg)"/>
<circle cx="176.1" cy="142.1" r="2.24" fill="url(#ballg)"/>
<circle cx="216.5" cy="142.3" r="3.24" fill="url(#ballg)"/>
<circle cx="184.6" cy="142.3" r="1.93" fill="url(#ballg)"/>
<circle cx="255.8" cy="142.4" r="2.88" fill="url(#ballg)"/>
<circle cx="257.7" cy="142.5" r="2.42" fill="url(#ballg)"/>
<circle cx="257.9" cy="142.6" r="2.50" fill="url(#ballg)"/>
<circle cx="249.6" cy="142.7" r="1.82" fill="url(#ballg)"/>
<circle cx="215.2" cy="142.9" r="2.60" fill="url(#ballg)"/>
<circle cx="197.9" cy="143.0" r="3.36" fill="url(#ballg)"/>
<circle cx="197.1" cy="143.0" r="2.21" fill="url(#ballg)"/>
<circle cx="200.1" cy="143.0" r="3.13" fill="url(#ballg)"/>
<circle cx="251.5" cy="143.2" r="2.79" fill="url(#ballg)"/>
<circle cx="239.2" cy="143.3" r="1.84" fill="url(#ballg)"/>
<circle cx="184.1" cy="143.7" r="2.78" fill="url(#ballg)"/>
<circle cx="195.2" cy="143.9" r="2.22" fill="url(#ballg)"/>
<circle cx="215.9" cy="144.0" r="2.40" fill="url(#ballg)"/>
<circle cx="224.8" cy="144.1" r="2.98" fill="url(#ballg)"/>
<circle cx="252.1" cy="144.1" r="2.60" fill="url(#ballg)"/>
<circle cx="238.8" cy="144.2" r="2.51" fill="url(#ballg)"/>
<circle cx="215.1" cy="144.5" r="3.35" fill="url(#ballg)"/>
<circle cx="237.6" cy="144.9" r="1.86" fill="url(#ballg)"/>
<circle cx="185.5" cy="145.1" r="2.18" fill="url(#ballg)"/>
<circle cx="186.9" cy="145.2" r="2.70" fill="url(#ballg)"/>
<circle cx="256.5" cy="145.2" r="1.97" fill="url(#ballg)"/>
<circle cx="252.4" cy="145.3" r="3.17" fill="url(#ballg)"/>
<circle cx="229.2" cy="145.6" r="2.99" fill="url(#ballg)"/>
<circle cx="199.6" cy="145.8" r="2.56" fill="url(#ballg)"/>
<circle cx="206.9" cy="146.0" r="2.74" fill="url(#ballg)"/>
<circle cx="226.4" cy="146.0" r="2.15" fill="url(#ballg)"/>
<circle cx="178.0" cy="146.1" r="1.95" fill="url(#ballg)"/>
<circle cx="210.7" cy="146.5" r="2.84" fill="url(#ballg)"/>
<circle cx="185.2" cy="146.5" r="2.51" fill="url(#ballg)"/>
<circle cx="197.5" cy="146.5" r="3.24" fill="url(#ballg)"/>
<circle cx="186.7" cy="146.6" r="2.37" fill="url(#ballg)"/>
<circle cx="207.6" cy="146.8" r="2.19" fill="url(#ballg)"/>
<circle cx="186.8" cy="146.8" r="3.23" fill="url(#ballg)"/>
<circle cx="232.6" cy="146.9" r="1.87" fill="url(#ballg)"/>
<circle cx="187.7" cy="146.9" r="2.61" fill="url(#ballg)"/>
<circle cx="234.5" cy="147.0" r="2.57" fill="url(#ballg)"/>
<circle cx="189.1" cy="147.0" r="3.03" fill="url(#ballg)"/>
<circle cx="243.3" cy="147.5" r="2.39" fill="url(#ballg)"/>
<circle cx="204.2" cy="147.6" r="2.98" fill="url(#ballg)"/>
<circle cx="250.8" cy="147.6" r="2.82" fill="url(#ballg)"/>
<circle cx="246.4" cy="147.6" r="3.28" fill="url(#ballg)"/>
<circle cx="224.9" cy="147.7" r="2.90" fill="url(#ballg)"/>
<circle cx="243.6" cy="147.7" r="3.08" fill="url(#ballg)"/>
<circle cx="244.8" cy="147.7" r="3.09" fill="url(#ballg)"/>
<circle cx="213.7" cy="147.8" r="3.23" fill="url(#ballg)"/>
<circle cx="212.0" cy="147.9" r="2.15" fill="url(#ballg)"/>
<circle cx="212.8" cy="148.1" r="3.28" fill="url(#ballg)"/>
<circle cx="243.6" cy="148.1" r="3.33" fill="url(#ballg)"/>
<circle cx="221.6" cy="148.5" r="2.47" fill="url(#ballg)"/>
<circle cx="233.3" cy="148.5" r="3.02" fill="url(#ballg)"/>
<circle cx="256.7" cy="148.6" r="3.11" fill="url(#ballg)"/>
<circle cx="223.8" cy="148.6" r="2.47" fill="url(#ballg)"/>
<circle cx="195.0" cy="148.6" r="1.92" fill="url(#ballg)"/>
<circle cx="182.2" cy="148.7" r="1.95" fill="url(#ballg)"/>
<circle cx="233.2" cy="148.8" r="2.66" fill="url(#ballg)"/>
<circle cx="196.1" cy="148.9" r="2.54" fill="url(#ballg)"/>
<circle cx="195.2" cy="148.9" r="3.30" fill="url(#ballg)"/>
<circle cx="175.3" cy="149.2" r="2.34" fill="url(#ballg)"/>
<circle cx="202.2" cy="149.5" r="3.18" fill="url(#ballg)"/>
<circle cx="253.8" cy="149.7" r="2.88" fill="url(#ballg)"/>
<circle cx="248.1" cy="149.7" r="3.36" fill="url(#ballg)"/>
<circle cx="215.1" cy="149.9" r="2.95" fill="url(#ballg)"/>
<circle cx="194.2" cy="150.1" r="3.15" fill="url(#ballg)"/>
<circle cx="236.2" cy="150.4" r="2.23" fill="url(#ballg)"/>
<circle cx="258.9" cy="150.4" r="1.88" fill="url(#ballg)"/>
<circle cx="215.0" cy="150.5" r="2.44" fill="url(#ballg)"/>
<circle cx="205.5" cy="150.5" r="2.25" fill="url(#ballg)"/>
<circle cx="215.4" cy="150.6" r="1.81" fill="url(#ballg)"/>
<circle cx="255.0" cy="150.9" r="2.02" fill="url(#ballg)"/>
<circle cx="190.1" cy="151.0" r="2.85" fill="url(#ballg)"/>
<circle cx="221.5" cy="151.0" r="2.40" fill="url(#ballg)"/>
<circle cx="180.4" cy="151.1" r="2.46" fill="url(#ballg)"/>
<circle cx="236.5" cy="151.2" r="2.06" fill="url(#ballg)"/>
<circle cx="177.1" cy="151.4" r="3.37" fill="url(#ballg)"/>
<circle cx="228.5" cy="151.5" r="2.22" fill="url(#ballg)"/>
<circle cx="227.5" cy="151.6" r="3.26" fill="url(#ballg)"/>
<circle cx="244.5" cy="151.6" r="1.95" fill="url(#ballg)"/>
<circle cx="220.8" cy="151.8" r="2.01" fill="url(#ballg)"/>
<circle cx="204.7" cy="152.1" r="3.27" fill="url(#ballg)"/>
<circle cx="179.4" cy="152.2" r="2.70" fill="url(#ballg)"/>
<circle cx="254.2" cy="152.3" r="3.28" fill="url(#ballg)"/>
<circle cx="227.3" cy="152.3" r="3.07" fill="url(#ballg)"/>
<circle cx="223.3" cy="152.4" r="3.21" fill="url(#ballg)"/>
<circle cx="198.9" cy="152.5" r="2.21" fill="url(#ballg)"/>
<circle cx="184.1" cy="152.7" r="3.08" fill="url(#ballg)"/>
<circle cx="214.5" cy="153.2" r="2.77" fill="url(#ballg)"/>
<circle cx="223.8" cy="153.2" r="2.94" fill="url(#ballg)"/>
<circle cx="181.1" cy="153.2" r="2.95" fill="url(#ballg)"/>
<circle cx="215.4" cy="153.3" r="1.80" fill="url(#ballg)"/>
<circle cx="184.9" cy="153.3" r="2.28" fill="url(#ballg)"/>
<circle cx="215.8" cy="153.7" r="2.91" fill="url(#ballg)"/>
<circle cx="182.4" cy="153.8" r="3.11" fill="url(#ballg)"/>
<circle cx="227.4" cy="154.0" r="2.82" fill="url(#ballg)"/>
<circle cx="199.6" cy="154.3" r="3.12" fill="url(#ballg)"/>
<circle cx="253.6" cy="154.3" r="2.19" fill="url(#ballg)"/>
<circle cx="197.9" cy="154.3" r="3.19" fill="url(#ballg)"/>
<circle cx="198.2" cy="154.4" r="2.99" fill="url(#ballg)"/>
<circle cx="205.4" cy="154.5" r="3.04" fill="url(#ballg)"/>
<circle cx="233.5" cy="154.7" r="2.72" fill="url(#ballg)"/>
<circle cx="243.8" cy="154.8" r="2.86" fill="url(#ballg)"/>
<circle cx="226.3" cy="154.9" r="1.89" fill="url(#ballg)"/>
<circle cx="188.4" cy="155.1" r="2.02" fill="url(#ballg)"/>
<circle cx="227.3" cy="155.2" r="2.40" fill="url(#ballg)"/>
<circle cx="257.5" cy="156.0" r="3.28" fill="url(#ballg)"/>
<circle cx="236.8" cy="156.0" r="3.09" fill="url(#ballg)"/>
<circle cx="201.0" cy="156.1" r="2.57" fill="url(#ballg)"/>
<circle cx="255.5" cy="156.1" r="2.47" fill="url(#ballg)"/>
<circle cx="176.6" cy="156.6" r="3.34" fill="url(#ballg)"/>
<circle cx="197.0" cy="156.6" r="2.80" fill="url(#ballg)"/>
<circle cx="184.7" cy="156.7" r="2.40" fill="url(#ballg)"/>
<circle cx="240.9" cy="157.0" r="2.27" fill="url(#ballg)"/>
<circle cx="189.0" cy="157.0" r="3.30" fill="url(#ballg)"/>
<circle cx="232.8" cy="157.1" r="2.98" fill="url(#ballg)"/>
<circle cx="216.5" cy="157.1" r="2.01" fill="url(#ballg)"/>
<circle cx="257.5" cy="157.2" r="3.16" fill="url(#ballg)"/>
<circle cx="228.1" cy="157.4" r="2.73" fill="url(#ballg)"/>
<circle cx="187.5" cy="157.4" r="2.27" fill="url(#ballg)"/>
<circle cx="238.0" cy="157.4" r="1.83" fill="url(#ballg)"/>
<circle cx="211.4" cy="157.7" r="2.63" fill="url(#ballg)"/>
<circle cx="216.5" cy="158.7" r="1.86" fill="url(#ballg)"/>
<circle cx="257.5" cy="158.7" r="2.26" fill="url(#ballg)"/>
<circle cx="209.7" cy="158.8" r="3.12" fill="url(#ballg)"/>
<circle cx="197.1" cy="158.9" r="2.50" fill="url(#ballg)"/>
<circle cx="244.7" cy="159.1" r="2.96" fill="url(#ballg)"/>
<circle cx="207.4" cy="159.1" r="2.04" fill="url(#ballg)"/>
<circle cx="215.5" cy="159.2" r="2.43" fill="url(#ballg)"/>
<circle cx="250.4" cy="159.4" r="2.11" fill="url(#ballg)"/>
<circle cx="214.5" cy="159.6" r="2.79" fill="url(#ballg)"/>
<circle cx="238.5" cy="159.7" r="2.04" fill="url(#ballg)"/>
<circle cx="204.5" cy="159.8" r="1.80" fill="url(#ballg)"/>
<circle cx="256.2" cy="159.8" r="2.28" fill="url(#ballg)"/>
<circle cx="221.7" cy="159.9" r="2.85" fill="url(#ballg)"/>
<circle cx="229.5" cy="160.1" r="1.98" fill="url(#ballg)"/>
<circle cx="195.0" cy="160.3" r="1.80" fill="url(#ballg)"/>
<circle cx="250.6" cy="160.6" r="2.78" fill="url(#ballg)"/>
<circle cx="240.6" cy="160.6" r="2.03" fill="url(#ballg)"/>
<circle cx="255.7" cy="160.8" r="2.75" fill="url(#ballg)"/>
<circle cx="179.7" cy="160.9" r="1.85" fill="url(#ballg)"/>
<circle cx="198.5" cy="160.9" r="3.03" fill="url(#ballg)"/>
<circle cx="199.6" cy="161.0" r="2.04" fill="url(#ballg)"/>
<circle cx="234.9" cy="161.3" r="3.33" fill="url(#ballg)"/>
<circle cx="177.7" cy="161.3" r="2.39" fill="url(#ballg)"/>
<circle cx="200.8" cy="161.5" r="2.24" fill="url(#ballg)"/>
<circle cx="218.0" cy="161.7" r="3.31" fill="url(#ballg)"/>
<circle cx="216.3" cy="161.9" r="1.89" fill="url(#ballg)"/>
<circle cx="239.5" cy="161.9" r="2.65" fill="url(#ballg)"/>
<circle cx="252.3" cy="161.9" r="1.85" fill="url(#ballg)"/>
<circle cx="212.5" cy="162.0" r="3.07" fill="url(#ballg)"/>
<circle cx="192.2" cy="162.1" r="2.91" fill="url(#ballg)"/>
<circle cx="253.1" cy="162.2" r="2.35" fill="url(#ballg)"/>
<circle cx="190.1" cy="162.2" r="3.06" fill="url(#ballg)"/>
<circle cx="214.6" cy="162.3" r="1.99" fill="url(#ballg)"/>
<circle cx="199.7" cy="162.3" r="2.84" fill="url(#ballg)"/>
<circle cx="197.1" cy="162.4" r="2.13" fill="url(#ballg)"/>
<circle cx="247.2" cy="162.5" r="2.78" fill="url(#ballg)"/>
<circle cx="253.7" cy="162.5" r="3.38" fill="url(#ballg)"/>
<circle cx="236.5" cy="162.5" r="2.81" fill="url(#ballg)"/>
<circle cx="198.4" cy="162.8" r="2.90" fill="url(#ballg)"/>
<circle cx="228.8" cy="162.9" r="1.99" fill="url(#ballg)"/>
<circle cx="231.3" cy="162.9" r="3.24" fill="url(#ballg)"/>
<circle cx="245.1" cy="162.9" r="2.31" fill="url(#ballg)"/>
<circle cx="258.0" cy="163.0" r="2.80" fill="url(#ballg)"/>
<circle cx="216.6" cy="163.2" r="3.31" fill="url(#ballg)"/>
<circle cx="227.5" cy="163.3" r="1.97" fill="url(#ballg)"/>
<circle cx="225.9" cy="163.4" r="2.10" fill="url(#ballg)"/>
<circle cx="187.1" cy="163.4" r="2.22" fill="url(#ballg)"/>
<circle cx="255.4" cy="163.4" r="2.77" fill="url(#ballg)"/>
<circle cx="179.2" cy="163.6" r="2.41" fill="url(#ballg)"/>
<circle cx="199.5" cy="163.7" r="2.41" fill="url(#ballg)"/>
<circle cx="208.7" cy="163.7" r="2.38" fill="url(#ballg)"/>
<circle cx="179.8" cy="163.8" r="1.84" fill="url(#ballg)"/>
<circle cx="196.8" cy="164.1" r="2.59" fill="url(#ballg)"/>
<circle cx="179.1" cy="164.3" r="2.65" fill="url(#ballg)"/>
<circle cx="232.9" cy="164.8" r="2.06" fill="url(#ballg)"/>
<circle cx="213.1" cy="165.0" r="3.16" fill="url(#ballg)"/>
<path d="M177,150.5 L177,163 L222,163 Z" fill="#fff"/>
<path d="M226,118 L257,118 L257,133 Q244,122 226,118 Z" fill="#fff"/>
<line x1="179.4" y1="154.2" x2="193.5" y2="159.5" stroke="#111" stroke-width="0.8" />
</g>
<rect x="177" y="118" width="80" height="45" fill="none" stroke="#5a5a5a" stroke-width="0.7"/>
<path d="M177,149.5 L222,163 L215,163 L177,152 Z" fill="#5a9cf0" opacity="0.9"/>
<clipPath id="cl3"><rect x="259" y="118" width="80" height="45"/></clipPath>
<rect x="259" y="118" width="80" height="45" fill="#fff" />
<g clip-path="url(#cl3)">
<clipPath id="pl3"><path d="M259,118 L339,118 L339,163 L259,163 Z"/></clipPath>
<path d="M259,118 L339,118 L339,163 L259,163 Z" fill="#2036d4"/>
<g clip-path="url(#pl3)">
<ellipse cx="297" cy="138" rx="38" ry="14" fill="#3f7cf0" stroke="#222" stroke-width="0.2" transform="rotate(15 297 138)"/>
<ellipse cx="294" cy="137" rx="32" ry="12" fill="#58acf2" stroke="#222" stroke-width="0.2" transform="rotate(15 294 137)"/>
<ellipse cx="289" cy="135.5" rx="25" ry="10" fill="#72d8f0" stroke="#222" stroke-width="0.2" transform="rotate(14 289 135.5)"/>
<ellipse cx="304" cy="141.7" rx="25" ry="11.5" fill="#a4f0a0" stroke="#222" stroke-width="0.2" transform="rotate(13 304 141.7)"/>
<ellipse cx="308" cy="142" rx="21" ry="10.5" fill="#bcea64" stroke="#222" stroke-width="0.2" transform="rotate(12 308 142)"/>
<ellipse cx="312.5" cy="142.5" rx="18" ry="9.5" fill="#e2e644" stroke="#222" stroke-width="0.2" transform="rotate(12 312.5 142.5)"/>
<ellipse cx="316" cy="143" rx="15" ry="8.5" fill="#f8c838" stroke="#222" stroke-width="0.2" transform="rotate(12 316 143)"/>
<ellipse cx="319" cy="143.7" rx="13" ry="7.5" fill="#f48a28" stroke="#222" stroke-width="0.2" transform="rotate(12 319 143.7)"/>
<ellipse cx="322" cy="145.5" rx="11" ry="6.2" fill="#e23a1c" stroke="#222" stroke-width="0.2" transform="rotate(10 322 145.5)"/>
<ellipse cx="325" cy="147" rx="6" ry="3.5" fill="#c81414" stroke="#222" stroke-width="0.2" transform="rotate(10 325 147)"/>
</g>
<circle cx="329.6" cy="116.1" r="2.29" fill="url(#ballg)"/>
<circle cx="329.8" cy="116.3" r="2.60" fill="url(#ballg)"/>
<circle cx="271.3" cy="116.3" r="3.20" fill="url(#ballg)"/>
<circle cx="306.4" cy="116.4" r="2.63" fill="url(#ballg)"/>
<circle cx="330.3" cy="116.4" r="1.92" fill="url(#ballg)"/>
<circle cx="274.1" cy="116.4" r="1.93" fill="url(#ballg)"/>
<circle cx="263.9" cy="116.4" r="2.44" fill="url(#ballg)"/>
<circle cx="308.0" cy="116.6" r="1.90" fill="url(#ballg)"/>
<circle cx="337.1" cy="116.8" r="2.10" fill="url(#ballg)"/>
<circle cx="302.3" cy="116.9" r="1.94" fill="url(#ballg)"/>
<circle cx="285.4" cy="116.9" r="2.18" fill="url(#ballg)"/>
<circle cx="292.5" cy="116.9" r="2.50" fill="url(#ballg)"/>
<circle cx="272.4" cy="117.0" r="2.76" fill="url(#ballg)"/>
<circle cx="336.3" cy="117.1" r="1.97" fill="url(#ballg)"/>
<circle cx="298.3" cy="117.2" r="2.48" fill="url(#ballg)"/>
<circle cx="322.9" cy="117.2" r="3.05" fill="url(#ballg)"/>
<circle cx="302.9" cy="117.2" r="2.33" fill="url(#ballg)"/>
<circle cx="280.8" cy="117.3" r="1.82" fill="url(#ballg)"/>
<circle cx="335.0" cy="117.3" r="2.10" fill="url(#ballg)"/>
<circle cx="321.1" cy="117.3" r="2.13" fill="url(#ballg)"/>
<circle cx="336.1" cy="117.4" r="3.39" fill="url(#ballg)"/>
<circle cx="303.4" cy="117.4" r="2.99" fill="url(#ballg)"/>
<circle cx="300.0" cy="117.5" r="3.12" fill="url(#ballg)"/>
<circle cx="295.0" cy="117.6" r="3.21" fill="url(#ballg)"/>
<circle cx="332.1" cy="117.7" r="3.36" fill="url(#ballg)"/>
<circle cx="330.6" cy="117.8" r="2.76" fill="url(#ballg)"/>
<circle cx="269.1" cy="118.0" r="2.91" fill="url(#ballg)"/>
<circle cx="308.8" cy="118.0" r="2.41" fill="url(#ballg)"/>
<circle cx="334.4" cy="118.1" r="2.04" fill="url(#ballg)"/>
<circle cx="295.0" cy="118.1" r="2.13" fill="url(#ballg)"/>
<circle cx="308.3" cy="118.1" r="2.39" fill="url(#ballg)"/>
<circle cx="263.9" cy="118.3" r="1.88" fill="url(#ballg)"/>
<circle cx="274.6" cy="118.3" r="1.83" fill="url(#ballg)"/>
<circle cx="278.7" cy="118.5" r="3.36" fill="url(#ballg)"/>
<circle cx="316.9" cy="118.6" r="2.96" fill="url(#ballg)"/>
<circle cx="265.4" cy="118.6" r="3.06" fill="url(#ballg)"/>
<circle cx="310.5" cy="118.6" r="2.76" fill="url(#ballg)"/>
<circle cx="337.5" cy="118.7" r="2.69" fill="url(#ballg)"/>
<circle cx="330.9" cy="118.7" r="2.41" fill="url(#ballg)"/>
<circle cx="271.6" cy="118.8" r="3.17" fill="url(#ballg)"/>
<circle cx="324.2" cy="118.8" r="2.20" fill="url(#ballg)"/>
<circle cx="273.6" cy="118.9" r="2.65" fill="url(#ballg)"/>
<circle cx="298.7" cy="119.0" r="3.09" fill="url(#ballg)"/>
<circle cx="270.2" cy="119.1" r="3.07" fill="url(#ballg)"/>
<circle cx="272.2" cy="119.2" r="2.37" fill="url(#ballg)"/>
<circle cx="295.0" cy="119.2" r="3.33" fill="url(#ballg)"/>
<circle cx="291.5" cy="119.3" r="2.93" fill="url(#ballg)"/>
<circle cx="269.8" cy="119.4" r="1.87" fill="url(#ballg)"/>
<circle cx="301.8" cy="119.5" r="1.82" fill="url(#ballg)"/>
<circle cx="317.8" cy="119.6" r="2.56" fill="url(#ballg)"/>
<circle cx="329.0" cy="119.7" r="2.55" fill="url(#ballg)"/>
<circle cx="332.5" cy="120.0" r="2.69" fill="url(#ballg)"/>
<circle cx="338.0" cy="120.2" r="2.37" fill="url(#ballg)"/>
<circle cx="264.1" cy="120.2" r="2.38" fill="url(#ballg)"/>
<circle cx="339.9" cy="120.5" r="3.25" fill="url(#ballg)"/>
<circle cx="310.4" cy="120.6" r="3.34" fill="url(#ballg)"/>
<circle cx="270.7" cy="120.7" r="3.12" fill="url(#ballg)"/>
<circle cx="337.4" cy="120.8" r="3.08" fill="url(#ballg)"/>
<circle cx="298.5" cy="120.9" r="1.88" fill="url(#ballg)"/>
<circle cx="324.9" cy="121.1" r="2.34" fill="url(#ballg)"/>
<circle cx="328.2" cy="121.1" r="3.19" fill="url(#ballg)"/>
<circle cx="274.5" cy="121.1" r="1.89" fill="url(#ballg)"/>
<circle cx="309.0" cy="121.2" r="2.93" fill="url(#ballg)"/>
<circle cx="333.1" cy="121.5" r="2.75" fill="url(#ballg)"/>
<circle cx="266.3" cy="121.9" r="3.30" fill="url(#ballg)"/>
<circle cx="321.6" cy="121.9" r="2.97" fill="url(#ballg)"/>
<circle cx="267.3" cy="122.3" r="1.82" fill="url(#ballg)"/>
<circle cx="280.8" cy="122.4" r="2.28" fill="url(#ballg)"/>
<circle cx="325.4" cy="122.6" r="2.34" fill="url(#ballg)"/>
<circle cx="304.2" cy="122.7" r="1.94" fill="url(#ballg)"/>
<circle cx="273.2" cy="123.0" r="2.97" fill="url(#ballg)"/>
<circle cx="271.5" cy="123.0" r="2.72" fill="url(#ballg)"/>
<circle cx="307.9" cy="123.3" r="2.23" fill="url(#ballg)"/>
<circle cx="311.3" cy="123.4" r="2.56" fill="url(#ballg)"/>
<circle cx="334.5" cy="123.5" r="2.41" fill="url(#ballg)"/>
<circle cx="296.8" cy="123.7" r="2.09" fill="url(#ballg)"/>
<circle cx="320.4" cy="123.8" r="2.85" fill="url(#ballg)"/>
<circle cx="279.4" cy="123.9" r="3.11" fill="url(#ballg)"/>
<circle cx="339.2" cy="123.9" r="2.89" fill="url(#ballg)"/>
<circle cx="266.5" cy="124.3" r="2.15" fill="url(#ballg)"/>
<circle cx="284.3" cy="124.4" r="2.67" fill="url(#ballg)"/>
<circle cx="313.1" cy="124.4" r="3.15" fill="url(#ballg)"/>
<circle cx="305.7" cy="124.5" r="2.77" fill="url(#ballg)"/>
<circle cx="301.4" cy="124.5" r="2.81" fill="url(#ballg)"/>
<circle cx="258.1" cy="124.6" r="2.53" fill="url(#ballg)"/>
<circle cx="297.5" cy="124.9" r="3.16" fill="url(#ballg)"/>
<circle cx="287.2" cy="125.1" r="3.09" fill="url(#ballg)"/>
<circle cx="326.8" cy="125.1" r="2.72" fill="url(#ballg)"/>
<circle cx="338.4" cy="125.1" r="3.21" fill="url(#ballg)"/>
<circle cx="294.0" cy="125.1" r="2.44" fill="url(#ballg)"/>
<circle cx="262.8" cy="125.3" r="2.77" fill="url(#ballg)"/>
<circle cx="322.5" cy="125.4" r="2.15" fill="url(#ballg)"/>
<circle cx="300.5" cy="125.7" r="2.50" fill="url(#ballg)"/>
<circle cx="325.0" cy="125.8" r="3.22" fill="url(#ballg)"/>
<circle cx="309.4" cy="125.8" r="3.11" fill="url(#ballg)"/>
<circle cx="285.4" cy="125.8" r="1.96" fill="url(#ballg)"/>
<circle cx="305.8" cy="125.8" r="3.13" fill="url(#ballg)"/>
<circle cx="296.6" cy="126.2" r="2.52" fill="url(#ballg)"/>
<circle cx="290.5" cy="126.2" r="2.24" fill="url(#ballg)"/>
<circle cx="279.4" cy="126.3" r="2.25" fill="url(#ballg)"/>
<circle cx="268.3" cy="126.3" r="2.67" fill="url(#ballg)"/>
<circle cx="264.9" cy="126.6" r="1.86" fill="url(#ballg)"/>
<circle cx="277.3" cy="126.6" r="3.21" fill="url(#ballg)"/>
<circle cx="332.8" cy="126.6" r="2.12" fill="url(#ballg)"/>
<circle cx="338.4" cy="126.7" r="2.83" fill="url(#ballg)"/>
<circle cx="314.1" cy="126.9" r="2.22" fill="url(#ballg)"/>
<circle cx="288.3" cy="126.9" r="2.93" fill="url(#ballg)"/>
<circle cx="283.1" cy="127.0" r="2.09" fill="url(#ballg)"/>
<circle cx="296.1" cy="127.5" r="2.90" fill="url(#ballg)"/>
<circle cx="310.3" cy="127.6" r="2.21" fill="url(#ballg)"/>
<circle cx="267.3" cy="127.6" r="2.04" fill="url(#ballg)"/>
<circle cx="261.6" cy="127.6" r="2.52" fill="url(#ballg)"/>
<circle cx="270.2" cy="127.7" r="1.98" fill="url(#ballg)"/>
<circle cx="288.9" cy="128.0" r="2.40" fill="url(#ballg)"/>
<circle cx="279.6" cy="128.0" r="2.91" fill="url(#ballg)"/>
<circle cx="283.7" cy="128.1" r="2.77" fill="url(#ballg)"/>
<circle cx="300.7" cy="128.4" r="2.78" fill="url(#ballg)"/>
<circle cx="337.7" cy="128.5" r="3.07" fill="url(#ballg)"/>
<circle cx="309.6" cy="128.6" r="2.73" fill="url(#ballg)"/>
<circle cx="317.4" cy="128.9" r="1.83" fill="url(#ballg)"/>
<circle cx="261.0" cy="129.0" r="2.17" fill="url(#ballg)"/>
<circle cx="303.1" cy="129.1" r="2.99" fill="url(#ballg)"/>
<circle cx="313.7" cy="129.3" r="3.29" fill="url(#ballg)"/>
<circle cx="269.4" cy="129.3" r="2.65" fill="url(#ballg)"/>
<circle cx="261.9" cy="129.5" r="2.28" fill="url(#ballg)"/>
<circle cx="336.3" cy="129.6" r="2.06" fill="url(#ballg)"/>
<circle cx="266.6" cy="130.2" r="2.48" fill="url(#ballg)"/>
<circle cx="265.5" cy="130.3" r="2.88" fill="url(#ballg)"/>
<circle cx="259.5" cy="130.3" r="1.81" fill="url(#ballg)"/>
<circle cx="327.3" cy="130.6" r="2.84" fill="url(#ballg)"/>
<circle cx="327.6" cy="131.5" r="2.95" fill="url(#ballg)"/>
<circle cx="310.6" cy="131.8" r="3.26" fill="url(#ballg)"/>
<circle cx="301.1" cy="131.9" r="1.93" fill="url(#ballg)"/>
<circle cx="324.1" cy="132.1" r="2.49" fill="url(#ballg)"/>
<circle cx="276.5" cy="132.2" r="3.00" fill="url(#ballg)"/>
<circle cx="335.8" cy="132.3" r="2.59" fill="url(#ballg)"/>
<circle cx="322.1" cy="132.4" r="3.05" fill="url(#ballg)"/>
<circle cx="302.5" cy="132.4" r="1.83" fill="url(#ballg)"/>
<circle cx="300.4" cy="132.9" r="1.83" fill="url(#ballg)"/>
<circle cx="326.0" cy="133.0" r="3.12" fill="url(#ballg)"/>
<circle cx="336.8" cy="133.0" r="1.82" fill="url(#ballg)"/>
<circle cx="298.3" cy="133.0" r="3.14" fill="url(#ballg)"/>
<circle cx="264.3" cy="133.0" r="3.18" fill="url(#ballg)"/>
<circle cx="265.9" cy="133.1" r="2.17" fill="url(#ballg)"/>
<circle cx="332.4" cy="133.1" r="2.62" fill="url(#ballg)"/>
<circle cx="316.5" cy="133.1" r="1.92" fill="url(#ballg)"/>
<circle cx="285.3" cy="133.3" r="2.24" fill="url(#ballg)"/>
<circle cx="338.2" cy="133.4" r="2.03" fill="url(#ballg)"/>
<circle cx="324.9" cy="133.5" r="3.29" fill="url(#ballg)"/>
<circle cx="280.0" cy="133.6" r="3.06" fill="url(#ballg)"/>
<circle cx="315.0" cy="133.6" r="2.23" fill="url(#ballg)"/>
<circle cx="291.8" cy="133.7" r="3.20" fill="url(#ballg)"/>
<circle cx="276.0" cy="133.8" r="2.25" fill="url(#ballg)"/>
<circle cx="328.1" cy="133.8" r="2.86" fill="url(#ballg)"/>
<circle cx="296.0" cy="134.0" r="2.15" fill="url(#ballg)"/>
<circle cx="278.9" cy="134.0" r="3.23" fill="url(#ballg)"/>
<circle cx="337.4" cy="134.1" r="2.42" fill="url(#ballg)"/>
<circle cx="339.0" cy="134.2" r="2.99" fill="url(#ballg)"/>
<circle cx="321.5" cy="134.3" r="3.04" fill="url(#ballg)"/>
<circle cx="295.9" cy="134.3" r="2.02" fill="url(#ballg)"/>
<circle cx="308.3" cy="134.7" r="2.24" fill="url(#ballg)"/>
<circle cx="267.2" cy="134.7" r="2.37" fill="url(#ballg)"/>
<circle cx="322.0" cy="134.8" r="2.99" fill="url(#ballg)"/>
<circle cx="283.9" cy="134.9" r="2.09" fill="url(#ballg)"/>
<circle cx="324.9" cy="135.0" r="2.67" fill="url(#ballg)"/>
<circle cx="304.0" cy="135.0" r="2.08" fill="url(#ballg)"/>
<circle cx="274.5" cy="135.1" r="2.78" fill="url(#ballg)"/>
<circle cx="337.7" cy="135.4" r="2.26" fill="url(#ballg)"/>
<circle cx="260.0" cy="135.9" r="3.05" fill="url(#ballg)"/>
<circle cx="264.5" cy="136.0" r="3.04" fill="url(#ballg)"/>
<circle cx="302.1" cy="136.0" r="2.94" fill="url(#ballg)"/>
<circle cx="280.2" cy="136.2" r="3.31" fill="url(#ballg)"/>
<circle cx="297.2" cy="136.4" r="2.25" fill="url(#ballg)"/>
<circle cx="291.1" cy="136.6" r="1.93" fill="url(#ballg)"/>
<circle cx="318.0" cy="136.7" r="1.94" fill="url(#ballg)"/>
<circle cx="314.6" cy="136.7" r="3.15" fill="url(#ballg)"/>
<circle cx="296.5" cy="136.8" r="2.99" fill="url(#ballg)"/>
<circle cx="321.4" cy="137.0" r="2.77" fill="url(#ballg)"/>
<circle cx="320.2" cy="137.0" r="2.37" fill="url(#ballg)"/>
<circle cx="302.7" cy="137.4" r="3.37" fill="url(#ballg)"/>
<circle cx="299.9" cy="137.7" r="2.63" fill="url(#ballg)"/>
<circle cx="318.2" cy="137.7" r="1.89" fill="url(#ballg)"/>
<circle cx="274.9" cy="137.8" r="2.32" fill="url(#ballg)"/>
<circle cx="318.2" cy="137.9" r="2.59" fill="url(#ballg)"/>
<circle cx="306.1" cy="138.1" r="2.44" fill="url(#ballg)"/>
<circle cx="269.1" cy="138.1" r="2.89" fill="url(#ballg)"/>
<circle cx="291.7" cy="138.1" r="3.10" fill="url(#ballg)"/>
<circle cx="316.1" cy="138.1" r="2.96" fill="url(#ballg)"/>
<circle cx="315.8" cy="138.2" r="2.58" fill="url(#ballg)"/>
<circle cx="283.3" cy="138.4" r="2.26" fill="url(#ballg)"/>
<circle cx="306.5" cy="138.5" r="2.59" fill="url(#ballg)"/>
<circle cx="264.8" cy="138.5" r="2.64" fill="url(#ballg)"/>
<circle cx="283.0" cy="138.7" r="3.31" fill="url(#ballg)"/>
<circle cx="290.5" cy="138.7" r="2.81" fill="url(#ballg)"/>
<circle cx="258.3" cy="138.8" r="2.00" fill="url(#ballg)"/>
<circle cx="303.4" cy="139.1" r="3.19" fill="url(#ballg)"/>
<circle cx="283.8" cy="139.4" r="3.21" fill="url(#ballg)"/>
<circle cx="257.5" cy="139.6" r="3.16" fill="url(#ballg)"/>
<circle cx="281.1" cy="139.6" r="2.27" fill="url(#ballg)"/>
<circle cx="260.2" cy="140.2" r="2.06" fill="url(#ballg)"/>
<circle cx="324.8" cy="140.4" r="2.94" fill="url(#ballg)"/>
<circle cx="322.0" cy="140.5" r="2.54" fill="url(#ballg)"/>
<circle cx="268.3" cy="140.5" r="2.76" fill="url(#ballg)"/>
<circle cx="273.4" cy="140.7" r="2.80" fill="url(#ballg)"/>
<circle cx="289.6" cy="140.8" r="2.32" fill="url(#ballg)"/>
<circle cx="331.6" cy="140.8" r="2.02" fill="url(#ballg)"/>
<circle cx="326.7" cy="141.2" r="2.30" fill="url(#ballg)"/>
<circle cx="277.7" cy="141.2" r="2.70" fill="url(#ballg)"/>
<circle cx="296.3" cy="141.6" r="2.39" fill="url(#ballg)"/>
<circle cx="319.7" cy="141.6" r="3.15" fill="url(#ballg)"/>
<circle cx="303.0" cy="141.6" r="2.76" fill="url(#ballg)"/>
<circle cx="272.7" cy="142.0" r="3.29" fill="url(#ballg)"/>
<circle cx="324.0" cy="142.1" r="3.00" fill="url(#ballg)"/>
<circle cx="314.8" cy="142.1" r="2.31" fill="url(#ballg)"/>
<circle cx="306.4" cy="142.1" r="2.04" fill="url(#ballg)"/>
<circle cx="261.3" cy="142.2" r="2.60" fill="url(#ballg)"/>
<circle cx="296.5" cy="142.2" r="1.84" fill="url(#ballg)"/>
<circle cx="311.0" cy="142.6" r="2.28" fill="url(#ballg)"/>
<circle cx="313.5" cy="142.6" r="2.95" fill="url(#ballg)"/>
<circle cx="331.7" cy="142.7" r="2.64" fill="url(#ballg)"/>
<circle cx="306.5" cy="142.7" r="2.09" fill="url(#ballg)"/>
<circle cx="322.2" cy="143.2" r="3.01" fill="url(#ballg)"/>
<circle cx="338.0" cy="143.2" r="3.27" fill="url(#ballg)"/>
<circle cx="262.0" cy="144.0" r="2.61" fill="url(#ballg)"/>
<circle cx="313.9" cy="144.1" r="2.75" fill="url(#ballg)"/>
<circle cx="339.8" cy="144.1" r="1.83" fill="url(#ballg)"/>
<circle cx="267.0" cy="144.3" r="2.12" fill="url(#ballg)"/>
<circle cx="335.9" cy="144.3" r="1.82" fill="url(#ballg)"/>
<circle cx="309.3" cy="144.4" r="3.30" fill="url(#ballg)"/>
<circle cx="267.2" cy="144.4" r="3.23" fill="url(#ballg)"/>
<circle cx="271.9" cy="144.4" r="2.48" fill="url(#ballg)"/>
<circle cx="259.9" cy="144.4" r="2.72" fill="url(#ballg)"/>
<circle cx="300.1" cy="144.5" r="2.04" fill="url(#ballg)"/>
<circle cx="338.4" cy="144.6" r="2.52" fill="url(#ballg)"/>
<circle cx="313.6" cy="144.9" r="3.04" fill="url(#ballg)"/>
<circle cx="328.7" cy="145.2" r="3.17" fill="url(#ballg)"/>
<circle cx="286.2" cy="145.4" r="2.67" fill="url(#ballg)"/>
<circle cx="258.5" cy="145.5" r="3.25" fill="url(#ballg)"/>
<circle cx="328.5" cy="145.7" r="2.15" fill="url(#ballg)"/>
<circle cx="261.7" cy="145.7" r="2.15" fill="url(#ballg)"/>
<circle cx="266.9" cy="145.7" r="2.29" fill="url(#ballg)"/>
<circle cx="294.6" cy="145.7" r="3.02" fill="url(#ballg)"/>
<circle cx="295.8" cy="145.9" r="2.71" fill="url(#ballg)"/>
<circle cx="285.1" cy="146.5" r="2.87" fill="url(#ballg)"/>
<circle cx="268.6" cy="146.6" r="2.34" fill="url(#ballg)"/>
<circle cx="283.7" cy="146.7" r="2.04" fill="url(#ballg)"/>
<circle cx="264.5" cy="146.8" r="1.96" fill="url(#ballg)"/>
<circle cx="335.3" cy="146.9" r="3.03" fill="url(#ballg)"/>
<circle cx="291.1" cy="147.0" r="2.76" fill="url(#ballg)"/>
<circle cx="289.7" cy="147.0" r="2.36" fill="url(#ballg)"/>
<circle cx="306.6" cy="147.1" r="2.56" fill="url(#ballg)"/>
<circle cx="311.9" cy="147.2" r="1.80" fill="url(#ballg)"/>
<circle cx="290.4" cy="147.3" r="1.95" fill="url(#ballg)"/>
<circle cx="320.2" cy="147.6" r="2.30" fill="url(#ballg)"/>
<circle cx="304.7" cy="147.6" r="2.84" fill="url(#ballg)"/>
<circle cx="311.4" cy="147.7" r="2.04" fill="url(#ballg)"/>
<circle cx="331.1" cy="147.7" r="2.00" fill="url(#ballg)"/>
<circle cx="340.6" cy="147.8" r="2.43" fill="url(#ballg)"/>
<circle cx="305.3" cy="147.9" r="2.12" fill="url(#ballg)"/>
<circle cx="296.1" cy="148.0" r="2.38" fill="url(#ballg)"/>
<circle cx="273.6" cy="148.0" r="2.96" fill="url(#ballg)"/>
<circle cx="296.7" cy="148.0" r="2.56" fill="url(#ballg)"/>
<circle cx="320.9" cy="148.5" r="2.85" fill="url(#ballg)"/>
<circle cx="301.3" cy="148.5" r="2.03" fill="url(#ballg)"/>
<circle cx="273.8" cy="148.7" r="2.64" fill="url(#ballg)"/>
<circle cx="322.4" cy="148.8" r="1.95" fill="url(#ballg)"/>
<circle cx="302.3" cy="148.8" r="3.36" fill="url(#ballg)"/>
<circle cx="339.5" cy="148.9" r="1.91" fill="url(#ballg)"/>
<circle cx="315.9" cy="149.1" r="2.50" fill="url(#ballg)"/>
<circle cx="297.6" cy="149.2" r="3.28" fill="url(#ballg)"/>
<circle cx="308.5" cy="149.2" r="2.45" fill="url(#ballg)"/>
<circle cx="332.0" cy="149.4" r="2.09" fill="url(#ballg)"/>
<circle cx="257.8" cy="149.5" r="1.83" fill="url(#ballg)"/>
<circle cx="317.0" cy="149.8" r="2.74" fill="url(#ballg)"/>
<circle cx="328.9" cy="149.8" r="2.50" fill="url(#ballg)"/>
<circle cx="303.7" cy="150.1" r="1.90" fill="url(#ballg)"/>
<circle cx="311.3" cy="150.2" r="2.66" fill="url(#ballg)"/>
<circle cx="284.4" cy="150.3" r="3.25" fill="url(#ballg)"/>
<circle cx="338.1" cy="150.3" r="3.02" fill="url(#ballg)"/>
<circle cx="280.9" cy="150.4" r="1.93" fill="url(#ballg)"/>
<circle cx="261.2" cy="150.5" r="3.20" fill="url(#ballg)"/>
<circle cx="294.9" cy="150.5" r="3.02" fill="url(#ballg)"/>
<circle cx="303.8" cy="150.6" r="1.92" fill="url(#ballg)"/>
<circle cx="316.3" cy="150.7" r="3.31" fill="url(#ballg)"/>
<circle cx="327.6" cy="150.8" r="2.37" fill="url(#ballg)"/>
<circle cx="337.8" cy="150.8" r="1.90" fill="url(#ballg)"/>
<circle cx="272.8" cy="150.9" r="2.85" fill="url(#ballg)"/>
<circle cx="336.8" cy="151.1" r="2.35" fill="url(#ballg)"/>
<circle cx="265.3" cy="151.1" r="2.26" fill="url(#ballg)"/>
<circle cx="302.4" cy="151.2" r="1.80" fill="url(#ballg)"/>
<circle cx="317.9" cy="151.3" r="1.97" fill="url(#ballg)"/>
<circle cx="261.0" cy="151.5" r="2.75" fill="url(#ballg)"/>
<circle cx="331.4" cy="151.7" r="3.08" fill="url(#ballg)"/>
<circle cx="326.1" cy="151.7" r="2.80" fill="url(#ballg)"/>
<circle cx="331.2" cy="151.9" r="2.14" fill="url(#ballg)"/>
<circle cx="303.6" cy="152.0" r="2.80" fill="url(#ballg)"/>
<circle cx="261.5" cy="152.0" r="2.05" fill="url(#ballg)"/>
<circle cx="277.9" cy="152.1" r="2.48" fill="url(#ballg)"/>
<circle cx="307.3" cy="152.2" r="2.88" fill="url(#ballg)"/>
<circle cx="277.7" cy="152.2" r="3.21" fill="url(#ballg)"/>
<circle cx="338.8" cy="152.5" r="2.59" fill="url(#ballg)"/>
<circle cx="312.9" cy="152.5" r="2.09" fill="url(#ballg)"/>
<circle cx="262.0" cy="152.9" r="3.13" fill="url(#ballg)"/>
<circle cx="320.3" cy="153.0" r="2.61" fill="url(#ballg)"/>
<circle cx="333.3" cy="153.0" r="2.24" fill="url(#ballg)"/>
<circle cx="328.6" cy="153.5" r="2.92" fill="url(#ballg)"/>
<circle cx="331.6" cy="153.6" r="3.35" fill="url(#ballg)"/>
<circle cx="320.0" cy="153.6" r="2.53" fill="url(#ballg)"/>
<circle cx="317.1" cy="153.8" r="3.21" fill="url(#ballg)"/>
<circle cx="314.2" cy="153.9" r="2.54" fill="url(#ballg)"/>
<circle cx="263.7" cy="153.9" r="3.19" fill="url(#ballg)"/>
<circle cx="260.0" cy="153.9" r="3.33" fill="url(#ballg)"/>
<circle cx="264.1" cy="154.2" r="2.16" fill="url(#ballg)"/>
<circle cx="257.1" cy="154.4" r="3.20" fill="url(#ballg)"/>
<circle cx="269.7" cy="155.0" r="2.18" fill="url(#ballg)"/>
<circle cx="311.4" cy="155.1" r="2.83" fill="url(#ballg)"/>
<circle cx="273.0" cy="155.5" r="2.83" fill="url(#ballg)"/>
<circle cx="308.1" cy="155.6" r="1.91" fill="url(#ballg)"/>
<circle cx="320.8" cy="155.9" r="2.20" fill="url(#ballg)"/>
<circle cx="268.4" cy="156.3" r="1.91" fill="url(#ballg)"/>
<circle cx="278.6" cy="156.7" r="1.99" fill="url(#ballg)"/>
<circle cx="284.2" cy="156.8" r="2.62" fill="url(#ballg)"/>
<circle cx="340.3" cy="157.1" r="3.20" fill="url(#ballg)"/>
<circle cx="305.8" cy="157.4" r="3.06" fill="url(#ballg)"/>
<circle cx="293.7" cy="157.4" r="2.50" fill="url(#ballg)"/>
<circle cx="283.2" cy="157.7" r="2.13" fill="url(#ballg)"/>
<circle cx="322.5" cy="157.8" r="3.08" fill="url(#ballg)"/>
<circle cx="288.3" cy="158.1" r="2.39" fill="url(#ballg)"/>
<circle cx="299.2" cy="158.2" r="2.68" fill="url(#ballg)"/>
<circle cx="297.2" cy="158.4" r="2.88" fill="url(#ballg)"/>
<circle cx="308.5" cy="158.6" r="2.71" fill="url(#ballg)"/>
<circle cx="335.7" cy="158.8" r="3.32" fill="url(#ballg)"/>
<circle cx="288.3" cy="159.1" r="2.17" fill="url(#ballg)"/>
<circle cx="265.7" cy="159.1" r="3.11" fill="url(#ballg)"/>
<circle cx="308.6" cy="159.2" r="2.43" fill="url(#ballg)"/>
<circle cx="326.8" cy="159.3" r="2.72" fill="url(#ballg)"/>
<circle cx="289.2" cy="159.5" r="2.07" fill="url(#ballg)"/>
<circle cx="319.6" cy="159.6" r="2.12" fill="url(#ballg)"/>
<circle cx="294.6" cy="159.8" r="3.30" fill="url(#ballg)"/>
<circle cx="274.6" cy="160.0" r="2.13" fill="url(#ballg)"/>
<circle cx="263.0" cy="160.4" r="2.01" fill="url(#ballg)"/>
<circle cx="264.3" cy="160.6" r="1.95" fill="url(#ballg)"/>
<circle cx="302.1" cy="160.6" r="1.90" fill="url(#ballg)"/>
<circle cx="279.6" cy="160.7" r="2.44" fill="url(#ballg)"/>
<circle cx="333.4" cy="161.1" r="2.07" fill="url(#ballg)"/>
<circle cx="298.7" cy="161.1" r="2.47" fill="url(#ballg)"/>
<circle cx="334.0" cy="161.2" r="2.24" fill="url(#ballg)"/>
<circle cx="299.5" cy="161.3" r="2.74" fill="url(#ballg)"/>
<circle cx="335.2" cy="161.4" r="2.71" fill="url(#ballg)"/>
<circle cx="332.7" cy="161.6" r="3.20" fill="url(#ballg)"/>
<circle cx="306.1" cy="161.7" r="2.89" fill="url(#ballg)"/>
<circle cx="340.9" cy="161.9" r="2.95" fill="url(#ballg)"/>
<circle cx="310.4" cy="161.9" r="2.39" fill="url(#ballg)"/>
<circle cx="262.6" cy="161.9" r="3.38" fill="url(#ballg)"/>
<circle cx="313.6" cy="162.1" r="1.94" fill="url(#ballg)"/>
<circle cx="289.8" cy="162.3" r="3.36" fill="url(#ballg)"/>
<circle cx="297.5" cy="162.4" r="2.66" fill="url(#ballg)"/>
<circle cx="271.5" cy="162.4" r="3.38" fill="url(#ballg)"/>
<circle cx="316.3" cy="162.6" r="2.18" fill="url(#ballg)"/>
<circle cx="291.3" cy="162.7" r="2.09" fill="url(#ballg)"/>
<circle cx="257.7" cy="162.7" r="2.74" fill="url(#ballg)"/>
<circle cx="290.0" cy="162.9" r="2.29" fill="url(#ballg)"/>
<circle cx="328.5" cy="163.2" r="2.60" fill="url(#ballg)"/>
<circle cx="276.4" cy="163.2" r="2.44" fill="url(#ballg)"/>
<circle cx="295.1" cy="163.3" r="1.87" fill="url(#ballg)"/>
<circle cx="334.3" cy="163.4" r="1.95" fill="url(#ballg)"/>
<circle cx="296.7" cy="163.4" r="2.82" fill="url(#ballg)"/>
<circle cx="326.6" cy="163.5" r="3.26" fill="url(#ballg)"/>
<circle cx="329.8" cy="163.6" r="3.08" fill="url(#ballg)"/>
<circle cx="257.5" cy="163.7" r="2.08" fill="url(#ballg)"/>
<circle cx="324.2" cy="163.8" r="3.06" fill="url(#ballg)"/>
<circle cx="337.4" cy="164.0" r="2.07" fill="url(#ballg)"/>
<circle cx="270.6" cy="164.0" r="2.91" fill="url(#ballg)"/>
<circle cx="339.0" cy="164.3" r="3.13" fill="url(#ballg)"/>
<circle cx="278.4" cy="164.4" r="2.96" fill="url(#ballg)"/>
<circle cx="286.7" cy="164.6" r="3.37" fill="url(#ballg)"/>
<circle cx="292.3" cy="164.8" r="2.72" fill="url(#ballg)"/>
<circle cx="273.5" cy="164.9" r="2.51" fill="url(#ballg)"/>
<circle cx="340.6" cy="164.9" r="1.99" fill="url(#ballg)"/>
<circle cx="264.6" cy="165.0" r="2.33" fill="url(#ballg)"/>
<path d="M259,150.5 L259,163 L302,163 Z" fill="#fff"/>
<path d="M318,118 L339,118 L339,131 Q330,122 318,118 Z" fill="#fff"/>
<line x1="261.4" y1="154.2" x2="275.5" y2="159.5" stroke="#111" stroke-width="0.8" />
</g>
<rect x="259" y="118" width="80" height="45" fill="none" stroke="#5a5a5a" stroke-width="0.7"/>
<path d="M259,149.5 L302,163 L295,163 L259,152 Z" fill="#5a9cf0" opacity="0.9"/>
<rect x="23.5" y="246.2" width="3.7" height="19.30000000000001" fill="#24246b" stroke="#222" stroke-width="0.3"/>
<rect x="27.2" y="186" width="3.7" height="79.5" fill="#7a72ea" stroke="#222" stroke-width="0.3"/>
<line x1="29.05" y1="184.8" x2="29.05" y2="187.2" stroke="#222" stroke-width="0.5" />
<line x1="28.2" y1="184.8" x2="29.9" y2="184.8" stroke="#222" stroke-width="0.45" />
<rect x="32.17" y="261.3" width="3.7" height="4.199999999999989" fill="#24246b" stroke="#222" stroke-width="0.3"/>
<rect x="35.870000000000005" y="247.8" width="3.7" height="17.69999999999999" fill="#7a72ea" stroke="#222" stroke-width="0.3"/>
<rect x="40.84" y="263.1" width="3.7" height="2.3999999999999773" fill="#24246b" stroke="#222" stroke-width="0.3"/>
<rect x="44.540000000000006" y="259" width="3.7" height="6.5" fill="#7a72ea" stroke="#222" stroke-width="0.3"/>
<rect x="49.51" y="263.8" width="3.7" height="1.6999999999999886" fill="#24246b" stroke="#222" stroke-width="0.3"/>
<rect x="53.21" y="262.9" width="3.7" height="2.6000000000000227" fill="#7a72ea" stroke="#222" stroke-width="0.3"/>
<rect x="58.18" y="239.7" width="3.7" height="25.80000000000001" fill="#7d0a9c" stroke="#222" stroke-width="0.3"/>
<rect x="61.88" y="235.1" width="3.7" height="30.400000000000006" fill="#c783dc" stroke="#222" stroke-width="0.3"/>
<rect x="66.85" y="250.6" width="3.7" height="14.900000000000006" fill="#7d0a9c" stroke="#222" stroke-width="0.3"/>
<rect x="70.55" y="245.5" width="3.7" height="20.0" fill="#c783dc" stroke="#222" stroke-width="0.3"/>
<rect x="75.52" y="228.1" width="3.7" height="37.400000000000006" fill="#7d0a9c" stroke="#222" stroke-width="0.3"/>
<line x1="77.36999999999999" y1="226.79999999999998" x2="77.36999999999999" y2="229.4" stroke="#222" stroke-width="0.5" />
<line x1="76.52" y1="226.79999999999998" x2="78.22" y2="226.79999999999998" stroke="#222" stroke-width="0.45" />
<rect x="79.22" y="232.75" width="3.7" height="32.75" fill="#c783dc" stroke="#222" stroke-width="0.3"/>
<rect x="84.19" y="255.9" width="3.7" height="9.599999999999994" fill="#7d0a9c" stroke="#222" stroke-width="0.3"/>
<rect x="87.89" y="261" width="3.7" height="4.5" fill="#c783dc" stroke="#222" stroke-width="0.3"/>
<rect x="20.5" y="180.3" width="74.1" height="85.19999999999999" fill="none" stroke="#707070" stroke-width="0.75"/>
<line x1="18.5" y1="265.5" x2="20.5" y2="265.5" stroke="#707070" stroke-width="0.6" />
<text x="18.1" y="268.0" font-size="6.9" fill="#1a1a1a" text-anchor="end" font-weight="normal" stroke="#1a1a1a" stroke-width="0.12">0</text>
<line x1="18.5" y1="247.5" x2="20.5" y2="247.5" stroke="#707070" stroke-width="0.6" />
<text x="18.1" y="250.0" font-size="6.9" fill="#1a1a1a" text-anchor="end" font-weight="normal" stroke="#1a1a1a" stroke-width="0.12">2</text>
<line x1="18.5" y1="229.5" x2="20.5" y2="229.5" stroke="#707070" stroke-width="0.6" />
<text x="18.1" y="232.0" font-size="6.9" fill="#1a1a1a" text-anchor="end" font-weight="normal" stroke="#1a1a1a" stroke-width="0.12">4</text>
<line x1="18.5" y1="211.5" x2="20.5" y2="211.5" stroke="#707070" stroke-width="0.6" />
<text x="18.1" y="214.0" font-size="6.9" fill="#1a1a1a" text-anchor="end" font-weight="normal" stroke="#1a1a1a" stroke-width="0.12">6</text>
<line x1="18.5" y1="193.5" x2="20.5" y2="193.5" stroke="#707070" stroke-width="0.6" />
<text x="18.1" y="196.0" font-size="6.9" fill="#1a1a1a" text-anchor="end" font-weight="normal" stroke="#1a1a1a" stroke-width="0.12">8</text>
<line x1="94.6" y1="265.5" x2="96.6" y2="265.5" stroke="#707070" stroke-width="0.6" />
<text x="97.19999999999999" y="268.0" font-size="7.2" fill="#1a1a1a" stroke="#1a1a1a" stroke-width="0.1" textLength="7.8" lengthAdjust="spacingAndGlyphs" >0.0</text>
<line x1="94.6" y1="248.46" x2="96.6" y2="248.46" stroke="#707070" stroke-width="0.6" />
<text x="97.19999999999999" y="250.96" font-size="7.2" fill="#1a1a1a" stroke="#1a1a1a" stroke-width="0.1" textLength="7.8" lengthAdjust="spacingAndGlyphs" >0.2</text>
<line x1="94.6" y1="231.42000000000002" x2="96.6" y2="231.42000000000002" stroke="#707070" stroke-width="0.6" />
<text x="97.19999999999999" y="233.92000000000002" font-size="7.2" fill="#1a1a1a" stroke="#1a1a1a" stroke-width="0.1" textLength="7.8" lengthAdjust="spacingAndGlyphs" >0.4</text>
<line x1="94.6" y1="214.38" x2="96.6" y2="214.38" stroke="#707070" stroke-width="0.6" />
<text x="97.19999999999999" y="216.88" font-size="7.2" fill="#1a1a1a" stroke="#1a1a1a" stroke-width="0.1" textLength="7.8" lengthAdjust="spacingAndGlyphs" >0.6</text>
<line x1="94.6" y1="197.34" x2="96.6" y2="197.34" stroke="#707070" stroke-width="0.6" />
<text x="97.19999999999999" y="199.84" font-size="7.2" fill="#1a1a1a" stroke="#1a1a1a" stroke-width="0.1" textLength="7.8" lengthAdjust="spacingAndGlyphs" >0.8</text>
<line x1="94.6" y1="180.3" x2="96.6" y2="180.3" stroke="#707070" stroke-width="0.6" />
<text x="97.19999999999999" y="182.8" font-size="7.2" fill="#1a1a1a" stroke="#1a1a1a" stroke-width="0.1" textLength="7.8" lengthAdjust="spacingAndGlyphs" >1.0</text>
<text x="27.2" y="272.8" font-size="7.2" fill="#1a1a1a" text-anchor="middle" font-weight="normal" stroke="#1a1a1a" stroke-width="0.12">Ni</text>
<text x="35.87" y="272.8" font-size="7.2" fill="#1a1a1a" text-anchor="middle" font-weight="normal" stroke="#1a1a1a" stroke-width="0.12">Cr</text>
<text x="44.54" y="272.8" font-size="7.2" fill="#1a1a1a" text-anchor="middle" font-weight="normal" stroke="#1a1a1a" stroke-width="0.12">Fe</text>
<text x="53.209999999999994" y="272.8" font-size="7.2" fill="#1a1a1a" text-anchor="middle" font-weight="normal" stroke="#1a1a1a" stroke-width="0.12">Mo</text>
<text x="61.879999999999995" y="272.8" font-size="7.2" fill="#1a1a1a" text-anchor="middle" font-weight="normal" stroke="#1a1a1a" stroke-width="0.12">Ni</text>
<text x="70.55" y="272.8" font-size="7.2" fill="#1a1a1a" text-anchor="middle" font-weight="normal" stroke="#1a1a1a" stroke-width="0.12">Cr</text>
<text x="79.22" y="272.8" font-size="7.2" fill="#1a1a1a" text-anchor="middle" font-weight="normal" stroke="#1a1a1a" stroke-width="0.12">Fe</text>
<text x="87.89" y="272.8" font-size="7.2" fill="#1a1a1a" text-anchor="middle" font-weight="normal" stroke="#1a1a1a" stroke-width="0.12">Mo</text>
<text x="21.8" y="178.3" font-size="7.0" fill="#1a1a1a" stroke="#1a1a1a" stroke-width="0.1" textLength="13.9" lengthAdjust="spacingAndGlyphs" >1e−11</text>
<text x="40.1" y="178.0" font-size="8.6" fill="#111" stroke="#111" stroke-width="0.12" textLength="35.5" lengthAdjust="spacingAndGlyphs" >Weld LIBS</text>
<text x="7.0" y="176.8" font-size="10.5" fill="#000" text-anchor="start" font-weight="bold" >c</text>
<text transform="translate(11.5,222.9) rotate(-90)" x="0" y="0" font-size="6.9" fill="#1a1a1a" text-anchor="middle" stroke="#1a1a1a" stroke-width="0.12">Mass in Plasma [g]</text>
<text transform="translate(112.19999999999999,222.9) rotate(-90)" x="0" y="0" font-size="6.9" fill="#1a1a1a" text-anchor="middle" stroke="#1a1a1a" stroke-width="0.12">Loss Ratio</text>
<rect x="34.5" y="183.9" width="57.3" height="18" fill="#fff" stroke="#d4d4d4" stroke-width="0.6"/>
<rect x="37.1" y="186.10000000000002" width="11.2" height="4.4" fill="#24246b" stroke="#222" stroke-width="0.3"/>
<rect x="49.9" y="186.10000000000002" width="11.2" height="4.4" fill="#7d0a9c" stroke="#222" stroke-width="0.3"/>
<text x="61.8" y="190.70000000000002" font-size="7.0" fill="#1a1a1a" stroke="#1a1a1a" stroke-width="0.1" textLength="28.0" lengthAdjust="spacingAndGlyphs" >P = 180 W</text>
<rect x="37.1" y="195.8" width="11.2" height="4.4" fill="#7a72ea" stroke="#222" stroke-width="0.3"/>
<rect x="49.9" y="195.8" width="11.2" height="4.4" fill="#c783dc" stroke="#222" stroke-width="0.3"/>
<text x="61.8" y="200.4" font-size="7.0" fill="#1a1a1a" stroke="#1a1a1a" stroke-width="0.1" textLength="28.0" lengthAdjust="spacingAndGlyphs" >P = 400 W</text>
<rect x="23.5" y="303.97999999999996" width="3.7" height="77.42000000000002" fill="#24246b" stroke="#222" stroke-width="0.3"/>
<line x1="25.35" y1="300.78" x2="25.35" y2="307.17999999999995" stroke="#222" stroke-width="0.5" />
<line x1="24.5" y1="300.78" x2="26.2" y2="300.78" stroke="#222" stroke-width="0.45" />
<rect x="27.2" y="308.88" width="3.7" height="72.51999999999998" fill="#7a72ea" stroke="#222" stroke-width="0.3"/>
<line x1="29.05" y1="306.08" x2="29.05" y2="311.68" stroke="#222" stroke-width="0.5" />
<line x1="28.2" y1="306.08" x2="29.9" y2="306.08" stroke="#222" stroke-width="0.45" />
<rect x="32.17" y="367.28799999999995" width="3.7" height="14.112000000000023" fill="#24246b" stroke="#222" stroke-width="0.3"/>
<line x1="34.02" y1="366.388" x2="34.02" y2="368.18799999999993" stroke="#222" stroke-width="0.5" />
<line x1="33.17" y1="366.388" x2="34.870000000000005" y2="366.388" stroke="#222" stroke-width="0.45" />
<rect x="35.870000000000005" y="369.248" width="3.7" height="12.151999999999987" fill="#7a72ea" stroke="#222" stroke-width="0.3"/>
<line x1="37.720000000000006" y1="368.448" x2="37.720000000000006" y2="370.048" stroke="#222" stroke-width="0.5" />
<line x1="36.870000000000005" y1="368.448" x2="38.57000000000001" y2="368.448" stroke="#222" stroke-width="0.45" />
<rect x="40.84" y="375.912" width="3.7" height="5.4879999999999995" fill="#24246b" stroke="#222" stroke-width="0.3"/>
<line x1="42.690000000000005" y1="375.012" x2="42.690000000000005" y2="376.81199999999995" stroke="#222" stroke-width="0.5" />
<line x1="41.84" y1="375.012" x2="43.540000000000006" y2="375.012" stroke="#222" stroke-width="0.45" />
<rect x="44.540000000000006" y="375.128" width="3.7" height="6.271999999999991" fill="#7a72ea" stroke="#222" stroke-width="0.3"/>
<line x1="46.39000000000001" y1="368.628" x2="46.39000000000001" y2="381.628" stroke="#222" stroke-width="0.5" />
<line x1="45.540000000000006" y1="368.628" x2="47.24000000000001" y2="368.628" stroke="#222" stroke-width="0.45" />
<rect x="49.51" y="380.41999999999996" width="3.7" height="0.9800000000000182" fill="#24246b" stroke="#222" stroke-width="0.3"/>
<rect x="53.21" y="379.44" width="3.7" height="1.9599999999999795" fill="#7a72ea" stroke="#222" stroke-width="0.3"/>
<rect x="58.18" y="350.6" width="3.7" height="30.799999999999955" fill="#7d0a9c" stroke="#222" stroke-width="0.3"/>
<line x1="60.03" y1="349.8" x2="60.03" y2="351.40000000000003" stroke="#222" stroke-width="0.5" />
<line x1="59.18" y1="349.8" x2="60.88" y2="349.8" stroke="#222" stroke-width="0.45" />
<rect x="61.88" y="354" width="3.7" height="27.399999999999977" fill="#c783dc" stroke="#222" stroke-width="0.3"/>
<rect x="66.85" y="363.5" width="3.7" height="17.899999999999977" fill="#7d0a9c" stroke="#222" stroke-width="0.3"/>
<line x1="68.69999999999999" y1="362.9" x2="68.69999999999999" y2="364.1" stroke="#222" stroke-width="0.5" />
<line x1="67.85" y1="362.9" x2="69.55" y2="362.9" stroke="#222" stroke-width="0.45" />
<rect x="70.55" y="367" width="3.7" height="14.399999999999977" fill="#c783dc" stroke="#222" stroke-width="0.3"/>
<rect x="75.52" y="347" width="3.7" height="34.39999999999998" fill="#7d0a9c" stroke="#222" stroke-width="0.3"/>
<line x1="77.36999999999999" y1="345.5" x2="77.36999999999999" y2="348.5" stroke="#222" stroke-width="0.5" />
<line x1="76.52" y1="345.5" x2="78.22" y2="345.5" stroke="#222" stroke-width="0.45" />
<rect x="79.22" y="343.7" width="3.7" height="37.69999999999999" fill="#c783dc" stroke="#222" stroke-width="0.3"/>
<line x1="81.07" y1="342.2" x2="81.07" y2="345.2" stroke="#222" stroke-width="0.5" />
<line x1="80.22" y1="342.2" x2="81.92" y2="342.2" stroke="#222" stroke-width="0.45" />
<rect x="84.19" y="379" width="3.7" height="2.3999999999999773" fill="#7d0a9c" stroke="#222" stroke-width="0.3"/>
<rect x="87.89" y="376.7" width="3.7" height="4.699999999999989" fill="#c783dc" stroke="#222" stroke-width="0.3"/>
<rect x="20.5" y="295.7" width="74.1" height="85.69999999999999" fill="none" stroke="#707070" stroke-width="0.75"/>
<line x1="18.5" y1="381.4" x2="20.5" y2="381.4" stroke="#707070" stroke-width="0.6" />
<text x="18.1" y="383.9" font-size="6.9" fill="#1a1a1a" text-anchor="end" font-weight="normal" stroke="#1a1a1a" stroke-width="0.12">0</text>
<line x1="18.5" y1="361.79999999999995" x2="20.5" y2="361.79999999999995" stroke="#707070" stroke-width="0.6" />
<text x="18.1" y="364.29999999999995" font-size="6.9" fill="#1a1a1a" text-anchor="end" font-weight="normal" stroke="#1a1a1a" stroke-width="0.12">1</text>
<line x1="18.5" y1="342.2" x2="20.5" y2="342.2" stroke="#707070" stroke-width="0.6" />
<text x="18.1" y="344.7" font-size="6.9" fill="#1a1a1a" text-anchor="end" font-weight="normal" stroke="#1a1a1a" stroke-width="0.12">2</text>
<line x1="18.5" y1="322.59999999999997" x2="20.5" y2="322.59999999999997" stroke="#707070" stroke-width="0.6" />
<text x="18.1" y="325.09999999999997" font-size="6.9" fill="#1a1a1a" text-anchor="end" font-weight="normal" stroke="#1a1a1a" stroke-width="0.12">3</text>
<line x1="18.5" y1="303.0" x2="20.5" y2="303.0" stroke="#707070" stroke-width="0.6" />
<text x="18.1" y="305.5" font-size="6.9" fill="#1a1a1a" text-anchor="end" font-weight="normal" stroke="#1a1a1a" stroke-width="0.12">4</text>
<line x1="94.6" y1="381.4" x2="96.6" y2="381.4" stroke="#707070" stroke-width="0.6" />
<text x="97.19999999999999" y="383.9" font-size="7.2" fill="#1a1a1a" stroke="#1a1a1a" stroke-width="0.1" textLength="7.8" lengthAdjust="spacingAndGlyphs" >0.0</text>
<line x1="94.6" y1="364.26" x2="96.6" y2="364.26" stroke="#707070" stroke-width="0.6" />
<text x="97.19999999999999" y="366.76" font-size="7.2" fill="#1a1a1a" stroke="#1a1a1a" stroke-width="0.1" textLength="7.8" lengthAdjust="spacingAndGlyphs" >0.2</text>
<line x1="94.6" y1="347.12" x2="96.6" y2="347.12" stroke="#707070" stroke-width="0.6" />
<text x="97.19999999999999" y="349.62" font-size="7.2" fill="#1a1a1a" stroke="#1a1a1a" stroke-width="0.1" textLength="7.8" lengthAdjust="spacingAndGlyphs" >0.4</text>
<line x1="94.6" y1="329.97999999999996" x2="96.6" y2="329.97999999999996" stroke="#707070" stroke-width="0.6" />
<text x="97.19999999999999" y="332.47999999999996" font-size="7.2" fill="#1a1a1a" stroke="#1a1a1a" stroke-width="0.1" textLength="7.8" lengthAdjust="spacingAndGlyphs" >0.6</text>
<line x1="94.6" y1="312.84" x2="96.6" y2="312.84" stroke="#707070" stroke-width="0.6" />
<text x="97.19999999999999" y="315.34" font-size="7.2" fill="#1a1a1a" stroke="#1a1a1a" stroke-width="0.1" textLength="7.8" lengthAdjust="spacingAndGlyphs" >0.8</text>
<line x1="94.6" y1="295.7" x2="96.6" y2="295.7" stroke="#707070" stroke-width="0.6" />
<text x="97.19999999999999" y="298.2" font-size="7.2" fill="#1a1a1a" stroke="#1a1a1a" stroke-width="0.1" textLength="7.8" lengthAdjust="spacingAndGlyphs" >1.0</text>
<text x="27.2" y="388.7" font-size="7.2" fill="#1a1a1a" text-anchor="middle" font-weight="normal" stroke="#1a1a1a" stroke-width="0.12">Ni</text>
<text x="35.87" y="388.7" font-size="7.2" fill="#1a1a1a" text-anchor="middle" font-weight="normal" stroke="#1a1a1a" stroke-width="0.12">Cr</text>
<text x="44.54" y="388.7" font-size="7.2" fill="#1a1a1a" text-anchor="middle" font-weight="normal" stroke="#1a1a1a" stroke-width="0.12">Fe</text>
<text x="53.209999999999994" y="388.7" font-size="7.2" fill="#1a1a1a" text-anchor="middle" font-weight="normal" stroke="#1a1a1a" stroke-width="0.12">Mo</text>
<text x="61.879999999999995" y="388.7" font-size="7.2" fill="#1a1a1a" text-anchor="middle" font-weight="normal" stroke="#1a1a1a" stroke-width="0.12">Ni</text>
<text x="70.55" y="388.7" font-size="7.2" fill="#1a1a1a" text-anchor="middle" font-weight="normal" stroke="#1a1a1a" stroke-width="0.12">Cr</text>
<text x="79.22" y="388.7" font-size="7.2" fill="#1a1a1a" text-anchor="middle" font-weight="normal" stroke="#1a1a1a" stroke-width="0.12">Fe</text>
<text x="87.89" y="388.7" font-size="7.2" fill="#1a1a1a" text-anchor="middle" font-weight="normal" stroke="#1a1a1a" stroke-width="0.12">Mo</text>
<text x="21.8" y="293.7" font-size="7.0" fill="#1a1a1a" stroke="#1a1a1a" stroke-width="0.1" textLength="15.6" lengthAdjust="spacingAndGlyphs" >1e−13</text>
<text x="38.6" y="293.4" font-size="8.6" fill="#111" stroke="#111" stroke-width="0.12" textLength="38.2" lengthAdjust="spacingAndGlyphs" >LPBF LIBS</text>
<text x="7.0" y="292.2" font-size="10.5" fill="#000" text-anchor="start" font-weight="bold" >d</text>
<text transform="translate(11.5,338.54999999999995) rotate(-90)" x="0" y="0" font-size="6.9" fill="#1a1a1a" text-anchor="middle" stroke="#1a1a1a" stroke-width="0.12">Mass in Plasma [g]</text>
<text transform="translate(112.19999999999999,338.54999999999995) rotate(-90)" x="0" y="0" font-size="6.9" fill="#1a1a1a" text-anchor="middle" stroke="#1a1a1a" stroke-width="0.12">Loss Ratio</text>
<rect x="34.5" y="299.3" width="57.3" height="18" fill="#fff" stroke="#d4d4d4" stroke-width="0.6"/>
<rect x="37.1" y="301.5" width="11.2" height="4.4" fill="#24246b" stroke="#222" stroke-width="0.3"/>
<rect x="49.9" y="301.5" width="11.2" height="4.4" fill="#7d0a9c" stroke="#222" stroke-width="0.3"/>
<text x="61.8" y="306.1" font-size="7.0" fill="#1a1a1a" stroke="#1a1a1a" stroke-width="0.1" textLength="28.0" lengthAdjust="spacingAndGlyphs" >P = 180 W</text>
<rect x="37.1" y="311.2" width="11.2" height="4.4" fill="#7a72ea" stroke="#222" stroke-width="0.3"/>
<rect x="49.9" y="311.2" width="11.2" height="4.4" fill="#c783dc" stroke="#222" stroke-width="0.3"/>
<text x="61.8" y="315.8" font-size="7.0" fill="#1a1a1a" stroke="#1a1a1a" stroke-width="0.1" textLength="28.0" lengthAdjust="spacingAndGlyphs" >P = 400 W</text>
<rect x="143.7" y="220.06" width="3.7" height="45.24000000000001" fill="#7a0c12" stroke="#222" stroke-width="0.3"/>
<rect x="147.39999999999998" y="201.02800000000002" width="3.7" height="64.27199999999999" fill="#e4704e" stroke="#222" stroke-width="0.3"/>
<rect x="152.36999999999998" y="259.06" width="3.7" height="6.240000000000009" fill="#7a0c12" stroke="#222" stroke-width="0.3"/>
<rect x="156.06999999999996" y="256.252" width="3.7" height="9.048000000000002" fill="#e4704e" stroke="#222" stroke-width="0.3"/>
<rect x="161.04" y="262.492" width="3.7" height="2.8079999999999927" fill="#7a0c12" stroke="#222" stroke-width="0.3"/>
<rect x="164.73999999999998" y="261.40000000000003" width="3.7" height="3.8999999999999773" fill="#e4704e" stroke="#222" stroke-width="0.3"/>
<rect x="169.70999999999998" y="264.832" width="3.7" height="0.46800000000001774" fill="#7a0c12" stroke="#222" stroke-width="0.3"/>
<rect x="173.40999999999997" y="264.988" width="3.7" height="0.3120000000000118" fill="#e4704e" stroke="#222" stroke-width="0.3"/>
<rect x="178.38" y="228.1" width="3.7" height="37.20000000000002" fill="#c9a33c" stroke="#222" stroke-width="0.3"/>
<rect x="182.07999999999998" y="228.1" width="3.7" height="37.20000000000002" fill="#f1e394" stroke="#222" stroke-width="0.3"/>
<rect x="187.04999999999998" y="250.2" width="3.7" height="15.100000000000023" fill="#c9a33c" stroke="#222" stroke-width="0.3"/>
<rect x="190.74999999999997" y="249.2" width="3.7" height="16.100000000000023" fill="#f1e394" stroke="#222" stroke-width="0.3"/>
<rect x="195.71999999999997" y="233.9" width="3.7" height="31.400000000000006" fill="#c9a33c" stroke="#222" stroke-width="0.3"/>
<rect x="199.41999999999996" y="233.5" width="3.7" height="31.80000000000001" fill="#f1e394" stroke="#222" stroke-width="0.3"/>
<rect x="204.39" y="263" width="3.7" height="2.3000000000000114" fill="#c9a33c" stroke="#222" stroke-width="0.3"/>
<rect x="208.08999999999997" y="264" width="3.7" height="1.3000000000000114" fill="#f1e394" stroke="#222" stroke-width="0.3"/>
<rect x="140.7" y="180.3" width="73.4" height="85.0" fill="none" stroke="#707070" stroke-width="0.75"/>
<line x1="138.7" y1="265.3" x2="140.7" y2="265.3" stroke="#707070" stroke-width="0.6" />
<text x="138.29999999999998" y="267.8" font-size="6.9" fill="#1a1a1a" text-anchor="end" font-weight="normal" stroke="#1a1a1a" stroke-width="0.12">0</text>
<line x1="138.7" y1="249.70000000000002" x2="140.7" y2="249.70000000000002" stroke="#707070" stroke-width="0.6" />
<text x="138.29999999999998" y="252.20000000000002" font-size="6.9" fill="#1a1a1a" text-anchor="end" font-weight="normal" stroke="#1a1a1a" stroke-width="0.12">1</text>
<line x1="138.7" y1="234.10000000000002" x2="140.7" y2="234.10000000000002" stroke="#707070" stroke-width="0.6" />
<text x="138.29999999999998" y="236.60000000000002" font-size="6.9" fill="#1a1a1a" text-anchor="end" font-weight="normal" stroke="#1a1a1a" stroke-width="0.12">2</text>
<line x1="138.7" y1="218.5" x2="140.7" y2="218.5" stroke="#707070" stroke-width="0.6" />
<text x="138.29999999999998" y="221.0" font-size="6.9" fill="#1a1a1a" text-anchor="end" font-weight="normal" stroke="#1a1a1a" stroke-width="0.12">3</text>
<line x1="138.7" y1="202.9" x2="140.7" y2="202.9" stroke="#707070" stroke-width="0.6" />
<text x="138.29999999999998" y="205.4" font-size="6.9" fill="#1a1a1a" text-anchor="end" font-weight="normal" stroke="#1a1a1a" stroke-width="0.12">4</text>
<line x1="138.7" y1="187.3" x2="140.7" y2="187.3" stroke="#707070" stroke-width="0.6" />
<text x="138.29999999999998" y="189.8" font-size="6.9" fill="#1a1a1a" text-anchor="end" font-weight="normal" stroke="#1a1a1a" stroke-width="0.12">5</text>
<line x1="214.1" y1="265.3" x2="216.1" y2="265.3" stroke="#707070" stroke-width="0.6" />
<text x="216.7" y="267.8" font-size="7.2" fill="#1a1a1a" stroke="#1a1a1a" stroke-width="0.1" textLength="7.8" lengthAdjust="spacingAndGlyphs" >0.0</text>
<line x1="214.1" y1="248.3" x2="216.1" y2="248.3" stroke="#707070" stroke-width="0.6" />
<text x="216.7" y="250.8" font-size="7.2" fill="#1a1a1a" stroke="#1a1a1a" stroke-width="0.1" textLength="7.8" lengthAdjust="spacingAndGlyphs" >0.2</text>
<line x1="214.1" y1="231.3" x2="216.1" y2="231.3" stroke="#707070" stroke-width="0.6" />
<text x="216.7" y="233.8" font-size="7.2" fill="#1a1a1a" stroke="#1a1a1a" stroke-width="0.1" textLength="7.8" lengthAdjust="spacingAndGlyphs" >0.4</text>
<line x1="214.1" y1="214.3" x2="216.1" y2="214.3" stroke="#707070" stroke-width="0.6" />
<text x="216.7" y="216.8" font-size="7.2" fill="#1a1a1a" stroke="#1a1a1a" stroke-width="0.1" textLength="7.8" lengthAdjust="spacingAndGlyphs" >0.6</text>
<line x1="214.1" y1="197.3" x2="216.1" y2="197.3" stroke="#707070" stroke-width="0.6" />
<text x="216.7" y="199.8" font-size="7.2" fill="#1a1a1a" stroke="#1a1a1a" stroke-width="0.1" textLength="7.8" lengthAdjust="spacingAndGlyphs" >0.8</text>
<line x1="214.1" y1="180.3" x2="216.1" y2="180.3" stroke="#707070" stroke-width="0.6" />
<text x="216.7" y="182.8" font-size="7.2" fill="#1a1a1a" stroke="#1a1a1a" stroke-width="0.1" textLength="7.8" lengthAdjust="spacingAndGlyphs" >1.0</text>
<text x="147.39999999999998" y="272.6" font-size="7.2" fill="#1a1a1a" text-anchor="middle" font-weight="normal" stroke="#1a1a1a" stroke-width="0.12">Ni</text>
<text x="156.06999999999996" y="272.6" font-size="7.2" fill="#1a1a1a" text-anchor="middle" font-weight="normal" stroke="#1a1a1a" stroke-width="0.12">Cr</text>
<text x="164.73999999999998" y="272.6" font-size="7.2" fill="#1a1a1a" text-anchor="middle" font-weight="normal" stroke="#1a1a1a" stroke-width="0.12">Fe</text>
<text x="173.40999999999997" y="272.6" font-size="7.2" fill="#1a1a1a" text-anchor="middle" font-weight="normal" stroke="#1a1a1a" stroke-width="0.12">Mo</text>
<text x="182.07999999999998" y="272.6" font-size="7.2" fill="#1a1a1a" text-anchor="middle" font-weight="normal" stroke="#1a1a1a" stroke-width="0.12">Ni</text>
<text x="190.74999999999997" y="272.6" font-size="7.2" fill="#1a1a1a" text-anchor="middle" font-weight="normal" stroke="#1a1a1a" stroke-width="0.12">Cr</text>
<text x="199.41999999999996" y="272.6" font-size="7.2" fill="#1a1a1a" text-anchor="middle" font-weight="normal" stroke="#1a1a1a" stroke-width="0.12">Fe</text>
<text x="208.08999999999997" y="272.6" font-size="7.2" fill="#1a1a1a" text-anchor="middle" font-weight="normal" stroke="#1a1a1a" stroke-width="0.12">Mo</text>
<text x="142.0" y="178.3" font-size="7.0" fill="#1a1a1a" stroke="#1a1a1a" stroke-width="0.1" textLength="11.6" lengthAdjust="spacingAndGlyphs" >1e−5</text>
<text x="158.2" y="178.0" font-size="8.6" fill="#111" stroke="#111" stroke-width="0.12" textLength="39.4" lengthAdjust="spacingAndGlyphs" >Weld Model</text>
<text x="127.19999999999999" y="176.8" font-size="10.5" fill="#000" text-anchor="start" font-weight="bold" >e</text>
<text transform="translate(131.7,222.8) rotate(-90)" x="0" y="0" font-size="6.9" fill="#1a1a1a" text-anchor="middle" stroke="#1a1a1a" stroke-width="0.12">Mass [g]</text>
<text transform="translate(231.7,222.8) rotate(-90)" x="0" y="0" font-size="6.9" fill="#1a1a1a" text-anchor="middle" stroke="#1a1a1a" stroke-width="0.12">Loss Ratio</text>
<rect x="152.1" y="183.9" width="57.30000000000001" height="18" fill="#fff" stroke="#d4d4d4" stroke-width="0.6"/>
<rect x="154.1" y="186.10000000000002" width="11.2" height="4.4" fill="#7a0c12" stroke="#222" stroke-width="0.3"/>
<rect x="167.3" y="186.10000000000002" width="11.2" height="4.4" fill="#c9a33c" stroke="#222" stroke-width="0.3"/>
<text x="179.5" y="190.70000000000002" font-size="7.0" fill="#1a1a1a" stroke="#1a1a1a" stroke-width="0.1" textLength="27.4" lengthAdjust="spacingAndGlyphs" >P = 180 W</text>
<rect x="154.1" y="195.8" width="11.2" height="4.4" fill="#e4704e" stroke="#222" stroke-width="0.3"/>
<rect x="167.3" y="195.8" width="11.2" height="4.4" fill="#f1e394" stroke="#222" stroke-width="0.3"/>
<text x="179.5" y="200.4" font-size="7.0" fill="#1a1a1a" stroke="#1a1a1a" stroke-width="0.1" textLength="27.4" lengthAdjust="spacingAndGlyphs" >P = 400 W</text>
<rect x="143.7" y="328.7" width="3.7" height="52.5" fill="#7a0c12" stroke="#222" stroke-width="0.3"/>
<rect x="147.39999999999998" y="298" width="3.7" height="83.19999999999999" fill="#e4704e" stroke="#222" stroke-width="0.3"/>
<rect x="152.36999999999998" y="374.6" width="3.7" height="6.599999999999966" fill="#7a0c12" stroke="#222" stroke-width="0.3"/>
<rect x="156.06999999999996" y="369.4" width="3.7" height="11.800000000000011" fill="#e4704e" stroke="#222" stroke-width="0.3"/>
<rect x="161.04" y="378" width="3.7" height="3.1999999999999886" fill="#7a0c12" stroke="#222" stroke-width="0.3"/>
<rect x="164.73999999999998" y="376.3" width="3.7" height="4.899999999999977" fill="#e4704e" stroke="#222" stroke-width="0.3"/>
<rect x="169.70999999999998" y="380.5" width="3.7" height="0.6999999999999886" fill="#7a0c12" stroke="#222" stroke-width="0.3"/>
<rect x="173.40999999999997" y="380.8" width="3.7" height="0.39999999999997726" fill="#e4704e" stroke="#222" stroke-width="0.3"/>
<rect x="178.38" y="344.3" width="3.7" height="36.89999999999998" fill="#c9a33c" stroke="#222" stroke-width="0.3"/>
<rect x="182.07999999999998" y="344.3" width="3.7" height="36.89999999999998" fill="#f1e394" stroke="#222" stroke-width="0.3"/>
<rect x="187.04999999999998" y="367" width="3.7" height="14.199999999999989" fill="#c9a33c" stroke="#222" stroke-width="0.3"/>
<rect x="190.74999999999997" y="364.2" width="3.7" height="17.0" fill="#f1e394" stroke="#222" stroke-width="0.3"/>
<rect x="195.71999999999997" y="350.3" width="3.7" height="30.899999999999977" fill="#c9a33c" stroke="#222" stroke-width="0.3"/>
<rect x="199.41999999999996" y="349.6" width="3.7" height="31.599999999999966" fill="#f1e394" stroke="#222" stroke-width="0.3"/>
<rect x="204.39" y="377" width="3.7" height="4.199999999999989" fill="#c9a33c" stroke="#222" stroke-width="0.3"/>
<rect x="208.08999999999997" y="380" width="3.7" height="1.1999999999999886" fill="#f1e394" stroke="#222" stroke-width="0.3"/>
<rect x="140.7" y="295.7" width="73.4" height="85.5" fill="none" stroke="#707070" stroke-width="0.75"/>
<line x1="138.7" y1="381.2" x2="140.7" y2="381.2" stroke="#707070" stroke-width="0.6" />
<text x="138.29999999999998" y="383.7" font-size="6.9" fill="#1a1a1a" text-anchor="end" font-weight="normal" stroke="#1a1a1a" stroke-width="0.12">0</text>
<line x1="138.7" y1="365.7" x2="140.7" y2="365.7" stroke="#707070" stroke-width="0.6" />
<text x="138.29999999999998" y="368.2" font-size="6.9" fill="#1a1a1a" text-anchor="end" font-weight="normal" stroke="#1a1a1a" stroke-width="0.12">1</text>
<line x1="138.7" y1="350.2" x2="140.7" y2="350.2" stroke="#707070" stroke-width="0.6" />
<text x="138.29999999999998" y="352.7" font-size="6.9" fill="#1a1a1a" text-anchor="end" font-weight="normal" stroke="#1a1a1a" stroke-width="0.12">2</text>
<line x1="138.7" y1="334.7" x2="140.7" y2="334.7" stroke="#707070" stroke-width="0.6" />
<text x="138.29999999999998" y="337.2" font-size="6.9" fill="#1a1a1a" text-anchor="end" font-weight="normal" stroke="#1a1a1a" stroke-width="0.12">3</text>
<line x1="138.7" y1="319.2" x2="140.7" y2="319.2" stroke="#707070" stroke-width="0.6" />
<text x="138.29999999999998" y="321.7" font-size="6.9" fill="#1a1a1a" text-anchor="end" font-weight="normal" stroke="#1a1a1a" stroke-width="0.12">4</text>
<line x1="138.7" y1="303.7" x2="140.7" y2="303.7" stroke="#707070" stroke-width="0.6" />
<text x="138.29999999999998" y="306.2" font-size="6.9" fill="#1a1a1a" text-anchor="end" font-weight="normal" stroke="#1a1a1a" stroke-width="0.12">5</text>
<line x1="214.1" y1="381.2" x2="216.1" y2="381.2" stroke="#707070" stroke-width="0.6" />
<text x="216.7" y="383.7" font-size="7.2" fill="#1a1a1a" stroke="#1a1a1a" stroke-width="0.1" textLength="7.8" lengthAdjust="spacingAndGlyphs" >0.0</text>
<line x1="214.1" y1="364.09999999999997" x2="216.1" y2="364.09999999999997" stroke="#707070" stroke-width="0.6" />
<text x="216.7" y="366.59999999999997" font-size="7.2" fill="#1a1a1a" stroke="#1a1a1a" stroke-width="0.1" textLength="7.8" lengthAdjust="spacingAndGlyphs" >0.2</text>
<line x1="214.1" y1="347.0" x2="216.1" y2="347.0" stroke="#707070" stroke-width="0.6" />
<text x="216.7" y="349.5" font-size="7.2" fill="#1a1a1a" stroke="#1a1a1a" stroke-width="0.1" textLength="7.8" lengthAdjust="spacingAndGlyphs" >0.4</text>
<line x1="214.1" y1="329.9" x2="216.1" y2="329.9" stroke="#707070" stroke-width="0.6" />
<text x="216.7" y="332.4" font-size="7.2" fill="#1a1a1a" stroke="#1a1a1a" stroke-width="0.1" textLength="7.8" lengthAdjust="spacingAndGlyphs" >0.6</text>
<line x1="214.1" y1="312.79999999999995" x2="216.1" y2="312.79999999999995" stroke="#707070" stroke-width="0.6" />
<text x="216.7" y="315.29999999999995" font-size="7.2" fill="#1a1a1a" stroke="#1a1a1a" stroke-width="0.1" textLength="7.8" lengthAdjust="spacingAndGlyphs" >0.8</text>
<line x1="214.1" y1="295.7" x2="216.1" y2="295.7" stroke="#707070" stroke-width="0.6" />
<text x="216.7" y="298.2" font-size="7.2" fill="#1a1a1a" stroke="#1a1a1a" stroke-width="0.1" textLength="7.8" lengthAdjust="spacingAndGlyphs" >1.0</text>
<text x="147.39999999999998" y="388.5" font-size="7.2" fill="#1a1a1a" text-anchor="middle" font-weight="normal" stroke="#1a1a1a" stroke-width="0.12">Ni</text>
<text x="156.06999999999996" y="388.5" font-size="7.2" fill="#1a1a1a" text-anchor="middle" font-weight="normal" stroke="#1a1a1a" stroke-width="0.12">Cr</text>
<text x="164.73999999999998" y="388.5" font-size="7.2" fill="#1a1a1a" text-anchor="middle" font-weight="normal" stroke="#1a1a1a" stroke-width="0.12">Fe</text>
<text x="173.40999999999997" y="388.5" font-size="7.2" fill="#1a1a1a" text-anchor="middle" font-weight="normal" stroke="#1a1a1a" stroke-width="0.12">Mo</text>
<text x="182.07999999999998" y="388.5" font-size="7.2" fill="#1a1a1a" text-anchor="middle" font-weight="normal" stroke="#1a1a1a" stroke-width="0.12">Ni</text>
<text x="190.74999999999997" y="388.5" font-size="7.2" fill="#1a1a1a" text-anchor="middle" font-weight="normal" stroke="#1a1a1a" stroke-width="0.12">Cr</text>
<text x="199.41999999999996" y="388.5" font-size="7.2" fill="#1a1a1a" text-anchor="middle" font-weight="normal" stroke="#1a1a1a" stroke-width="0.12">Fe</text>
<text x="208.08999999999997" y="388.5" font-size="7.2" fill="#1a1a1a" text-anchor="middle" font-weight="normal" stroke="#1a1a1a" stroke-width="0.12">Mo</text>
<text x="142.0" y="293.7" font-size="7.0" fill="#1a1a1a" stroke="#1a1a1a" stroke-width="0.1" textLength="11.1" lengthAdjust="spacingAndGlyphs" >1e−5</text>
<text x="155.9" y="293.4" font-size="8.6" fill="#111" stroke="#111" stroke-width="0.12" textLength="42.2" lengthAdjust="spacingAndGlyphs" >LPBF Model</text>
<text x="127.19999999999999" y="292.2" font-size="10.5" fill="#000" text-anchor="start" font-weight="bold" >f</text>
<text transform="translate(131.7,338.45) rotate(-90)" x="0" y="0" font-size="6.9" fill="#1a1a1a" text-anchor="middle" stroke="#1a1a1a" stroke-width="0.12">Mass [g]</text>
<text transform="translate(231.7,338.45) rotate(-90)" x="0" y="0" font-size="6.9" fill="#1a1a1a" text-anchor="middle" stroke="#1a1a1a" stroke-width="0.12">Loss Ratio</text>
<rect x="152.1" y="299.3" width="57.30000000000001" height="18" fill="#fff" stroke="#d4d4d4" stroke-width="0.6"/>
<rect x="154.1" y="301.5" width="11.2" height="4.4" fill="#7a0c12" stroke="#222" stroke-width="0.3"/>
<rect x="167.3" y="301.5" width="11.2" height="4.4" fill="#c9a33c" stroke="#222" stroke-width="0.3"/>
<text x="179.5" y="306.1" font-size="7.0" fill="#1a1a1a" stroke="#1a1a1a" stroke-width="0.1" textLength="27.4" lengthAdjust="spacingAndGlyphs" >P = 180 W</text>
<rect x="154.1" y="311.2" width="11.2" height="4.4" fill="#e4704e" stroke="#222" stroke-width="0.3"/>
<rect x="167.3" y="311.2" width="11.2" height="4.4" fill="#f1e394" stroke="#222" stroke-width="0.3"/>
<text x="179.5" y="315.8" font-size="7.0" fill="#1a1a1a" stroke="#1a1a1a" stroke-width="0.1" textLength="27.4" lengthAdjust="spacingAndGlyphs" >P = 400 W</text>
<clipPath id="clipg"><rect x="259.8" y="180.3" width="73.59999999999997" height="85.09999999999997"/></clipPath>
<g clip-path="url(#clipg)">
<line x1="266" y1="180.3" x2="266" y2="265.4" stroke="#808080" stroke-width="0.6" stroke-dasharray="3.2,1.2,0.9,1.2"/>
<line x1="314.9" y1="180.3" x2="314.9" y2="265.4" stroke="#808080" stroke-width="0.6" stroke-dasharray="3.2,1.2,0.9,1.2"/>
<polyline points="259.80,220.30 261.18,218.52 262.56,216.85 263.93,215.26 265.31,213.76 266.69,212.34 268.06,210.99 269.44,209.71 270.82,208.49 272.20,207.32 273.57,206.21 274.95,205.15 276.33,204.14 277.71,203.16 279.08,202.23 280.46,201.34 281.84,200.49 283.22,199.66 284.59,198.87 285.97,198.11 287.35,197.38 288.73,196.68 290.11,196.00 291.48,195.34 292.86,194.71 294.24,194.10 295.62,193.51 296.99,192.94 298.37,192.38 299.75,191.85 301.12,191.33 302.50,190.83 303.88,190.34 305.26,189.87 306.63,189.41 308.01,188.97 309.39,188.53 310.77,188.12 312.14,187.71 313.52,187.31 314.90,186.92" fill="none" stroke="#d24a4a" stroke-width="0.8" />
<polyline points="314.90,186.92 315.36,186.80 315.82,186.67 316.29,186.55 316.75,186.42 317.21,186.30 317.67,186.18 318.14,186.06 318.60,185.94 319.06,185.82 319.52,185.70 319.99,185.59 320.45,185.47 320.91,185.36 321.38,185.24 321.84,185.13 322.30,185.02 322.76,184.91 323.22,184.80 323.69,184.69 324.15,184.58 324.61,184.47 325.07,184.37 325.54,184.26 326.00,184.16 326.46,184.06 326.92,183.95 327.39,183.85 327.85,183.75 328.31,183.65 328.77,183.55 329.24,183.45 329.70,183.35 330.16,183.26 330.62,183.16 331.09,183.07 331.55,182.97 332.01,182.88 332.47,182.78 332.94,182.69 333.40,182.60" fill="none" stroke="#d24a4a" stroke-width="0.8" stroke-dasharray="2.2,1"/>
<polyline points="259.80,221.60 261.18,219.78 262.56,218.06 263.93,216.43 265.31,214.88 266.69,213.41 268.06,212.01 269.44,210.67 270.82,209.39 272.20,208.17 273.57,207.01 274.95,205.89 276.33,204.82 277.71,203.80 279.08,202.81 280.46,201.87 281.84,200.96 283.22,200.08 284.59,199.24 285.97,198.43 287.35,197.65 288.73,196.89 290.11,196.17 291.48,195.46 292.86,194.78 294.24,194.13 295.62,193.49 296.99,192.87 298.37,192.28 299.75,191.70 301.12,191.14 302.50,190.59 303.88,190.07 305.26,189.55 306.63,189.06 308.01,188.57 309.39,188.10 310.77,187.64 312.14,187.20 313.52,186.77 314.90,186.35" fill="none" stroke="#3535d0" stroke-width="0.8" />
<polyline points="314.90,186.35 315.36,186.21 315.82,186.07 316.29,185.93 316.75,185.80 317.21,185.66 317.67,185.53 318.14,185.40 318.60,185.27 319.06,185.14 319.52,185.01 319.99,184.88 320.45,184.75 320.91,184.63 321.38,184.50 321.84,184.38 322.30,184.26 322.76,184.14 323.22,184.02 323.69,183.90 324.15,183.78 324.61,183.66 325.07,183.55 325.54,183.43 326.00,183.32 326.46,183.20 326.92,183.09 327.39,182.98 327.85,182.87 328.31,182.76 328.77,182.65 329.24,182.54 329.70,182.43 330.16,182.32 330.62,182.22 331.09,182.11 331.55,182.01 332.01,181.91 332.47,181.80 332.94,181.70 333.40,181.60" fill="none" stroke="#3535d0" stroke-width="0.8" stroke-dasharray="2.2,1"/>
<polyline points="259.80,259.80 261.64,257.41 263.48,255.22 265.32,253.19 267.16,251.32 269.00,249.58 270.84,247.97 272.68,246.46 274.52,245.05 276.36,243.73 278.20,242.49 280.04,241.33 281.88,240.23 283.72,239.19 285.56,238.21 287.40,237.28 289.24,236.40 291.08,235.57 292.92,234.77 294.76,234.02 296.60,233.29 298.44,232.61 300.28,231.95 302.12,231.32 303.96,230.72 305.80,230.14 307.64,229.59 309.48,229.06 311.32,228.55 313.16,228.06 315.00,227.59 316.84,227.13 318.68,226.70 320.52,226.27 322.36,225.87 324.20,225.47 326.04,225.10 327.88,224.73 329.72,224.37 331.56,224.03 333.40,223.70" fill="none" stroke="#a744d8" stroke-width="0.8" />
<polyline points="259.80,293.17 261.64,290.06 263.48,287.14 265.32,284.40 267.16,281.81 269.00,279.37 270.84,277.06 272.68,274.88 274.52,272.81 276.36,270.85 278.20,268.98 280.04,267.20 281.88,265.51 283.72,263.89 285.56,262.35 287.40,260.87 289.24,259.46 291.08,258.11 292.92,256.81 294.76,255.57 296.60,254.37 298.44,253.23 300.28,252.12 302.12,251.06 303.96,250.03 305.80,249.05 307.64,248.09 309.48,247.17 311.32,246.29 313.16,245.43 315.00,244.60 316.84,243.80 318.68,243.02 320.52,242.27 322.36,241.54 324.20,240.83 326.04,240.15 327.88,239.48 329.72,238.84 331.56,238.21 333.40,237.60" fill="none" stroke="#3c963c" stroke-width="0.8" />
</g>
<rect x="259.8" y="180.3" width="73.59999999999997" height="85.09999999999997" fill="none" stroke="#707070" stroke-width="0.8"/>
<line x1="257.8" y1="200.8" x2="259.8" y2="200.8" stroke="#707070" stroke-width="0.6" />
<text x="257.2" y="203.3" font-size="7.2" fill="#1a1a1a" text-anchor="end" font-weight="normal" stroke="#1a1a1a" stroke-width="0.12">0</text>
<line x1="257.8" y1="223.65" x2="259.8" y2="223.65" stroke="#707070" stroke-width="0.6" />
<text x="257.2" y="226.15" font-size="7.2" fill="#1a1a1a" text-anchor="end" font-weight="normal" stroke="#1a1a1a" stroke-width="0.12">−5</text>
<line x1="257.8" y1="246.5" x2="259.8" y2="246.5" stroke="#707070" stroke-width="0.6" />
<text x="257.2" y="249.0" font-size="7.2" fill="#1a1a1a" text-anchor="end" font-weight="normal" stroke="#1a1a1a" stroke-width="0.12">−10</text>
<line x1="274.52" y1="265.4" x2="274.52" y2="267.4" stroke="#707070" stroke-width="0.6" />
<text x="274.52" y="272.79999999999995" font-size="7.0" fill="#1a1a1a" text-anchor="middle" font-weight="normal" stroke="#1a1a1a" stroke-width="0.12">2000</text>
<line x1="303.96" y1="265.4" x2="303.96" y2="267.4" stroke="#707070" stroke-width="0.6" />
<text x="303.96" y="272.79999999999995" font-size="7.0" fill="#1a1a1a" text-anchor="middle" font-weight="normal" stroke="#1a1a1a" stroke-width="0.12">3000</text>
<line x1="333.4" y1="265.4" x2="333.4" y2="267.4" stroke="#707070" stroke-width="0.6" />
<text x="333.4" y="272.79999999999995" font-size="7.0" fill="#1a1a1a" text-anchor="middle" font-weight="normal" stroke="#1a1a1a" stroke-width="0.12">4000</text>
<text x="274.6" y="280.0" font-size="7.8" fill="#1a1a1a" stroke="#1a1a1a" stroke-width="0.1" textLength="44.4" lengthAdjust="spacingAndGlyphs" >Temperature [K]</text>
<text transform="translate(245.0,221.85) rotate(-90)" x="0" y="0" font-size="7.1" fill="#1a1a1a" text-anchor="middle" stroke="#1a1a1a" stroke-width="0.12">log(V<tspan font-size="5" font-style="italic" dy="1.3">p</tspan><tspan dy="-1.3">) [atm]</tspan></text>
<text x="261.7" y="177.9" font-size="8.6" fill="#111" stroke="#111" stroke-width="0.12" textLength="70.0" lengthAdjust="spacingAndGlyphs" >Pure Vapour Pressures</text>
<text x="298" y="186.8" font-size="7.4" fill="#3535d0" stroke="#3535d0" stroke-width="0.18">Ni</text>
<text x="322.8" y="194" font-size="7.4" fill="#d24a4a" stroke="#d24a4a" stroke-width="0.18">Fe</text>
<text x="322.4" y="235" font-size="7.4" fill="#a744d8" stroke="#a744d8" stroke-width="0.18">Cr</text>
<text x="322.4" y="250.6" font-size="7.4" fill="#3c963c" stroke="#3c963c" stroke-width="0.18">Mo</text>
<text x="304.5" y="209.3" font-size="7.2" fill="#111" stroke="#111" stroke-width="0.12">T<tspan font-size="4.3" dy="1.6">b, IN625</tspan></text>
<text x="262.2" y="261.6" font-size="7.2" fill="#111" stroke="#111" stroke-width="0.12">T<tspan font-size="4.3" dy="1.6">m, IN625</tspan></text>
<text x="270.4" y="223.6" font-size="7.1" fill="#111" stroke="#111" stroke-width="0.12">~ 2300 K</text>
<line x1="281" y1="219" x2="281" y2="204" stroke="#111" stroke-width="0.65"/>
<path d="M278.8,204.8 L281,200.2 L283.2,204.8 Z" fill="#111"/>
<text x="247.3" y="178.3" font-size="10.5" fill="#000" text-anchor="start" font-weight="bold" >g</text>
<clipPath id="cliph"><rect x="259.8" y="295.9" width="73.59999999999997" height="85.5"/></clipPath>
<g clip-path="url(#cliph)">
<line x1="264.4" y1="295.9" x2="264.4" y2="381.4" stroke="#808080" stroke-width="0.6" stroke-dasharray="3.2,1.2,0.9,1.2"/>
<line x1="313.6" y1="295.9" x2="313.6" y2="381.4" stroke="#808080" stroke-width="0.6" stroke-dasharray="3.2,1.2,0.9,1.2"/>
<polyline points="259.80,327.75 261.64,325.02 263.48,322.61 265.32,320.48 267.16,318.57 269.00,316.86 270.84,315.31 272.68,313.91 274.52,312.63 276.36,311.46 278.20,310.38 280.04,309.39 281.88,308.47 283.72,307.62 285.56,306.83 287.40,306.09 289.24,305.40 291.08,304.75 292.92,304.14 294.76,303.57 296.60,303.03 298.44,302.53 300.28,302.04 302.12,301.59 303.96,301.16 305.80,300.75 307.64,300.36 309.48,299.99 311.32,299.63 313.16,299.30 315.00,298.97 316.84,298.67 318.68,298.37 320.52,298.09 322.36,297.82 324.20,297.56 326.04,297.31 327.88,297.07 329.72,296.84 331.56,296.61 333.40,296.40" fill="none" stroke="#d24a4a" stroke-width="0.8" stroke-dasharray="2.2,1"/>
<polyline points="259.80,330.60 261.64,328.08 263.48,325.82 265.32,323.77 267.16,321.91 269.00,320.21 270.84,318.65 272.68,317.22 274.52,315.90 276.36,314.68 278.20,313.54 280.04,312.48 281.88,311.50 283.72,310.58 285.56,309.71 287.40,308.90 289.24,308.13 291.08,307.41 292.92,306.73 294.76,306.09 296.60,305.48 298.44,304.90 300.28,304.35 302.12,303.83 303.96,303.33 305.80,302.85 307.64,302.40 309.48,301.97 311.32,301.55 313.16,301.16 315.00,300.78 316.84,300.41 318.68,300.06 320.52,299.73 322.36,299.40 324.20,299.09 326.04,298.79 327.88,298.51 329.72,298.23 331.56,297.96 333.40,297.70" fill="none" stroke="#3535d0" stroke-width="0.8" stroke-dasharray="2.2,1"/>
<polyline points="259.80,333.00 261.64,330.70 263.48,328.59 265.32,326.66 267.16,324.89 269.00,323.25 270.84,321.73 272.68,320.31 274.52,319.00 276.36,317.77 278.20,316.62 280.04,315.54 281.88,314.53 283.72,313.57 285.56,312.67 287.40,311.82 289.24,311.02 291.08,310.26 292.92,309.53 294.76,308.85 296.60,308.19 298.44,307.57 300.28,306.98 302.12,306.41 303.96,305.87 305.80,305.35 307.64,304.85 309.48,304.37 311.32,303.92 313.16,303.48 315.00,303.06 316.84,302.65 318.68,302.26 320.52,301.89 322.36,301.52 324.20,301.17 326.04,300.84 327.88,300.51 329.72,300.20 331.56,299.89 333.40,299.60" fill="none" stroke="#3535d0" stroke-width="0.8" />
<polyline points="259.80,341.90 261.64,339.45 263.48,337.22 265.32,335.19 267.16,333.34 269.00,331.63 270.84,330.05 272.68,328.60 274.52,327.24 276.36,325.99 278.20,324.81 280.04,323.72 281.88,322.69 283.72,321.73 285.56,320.82 287.40,319.96 289.24,319.16 291.08,318.39 292.92,317.67 294.76,316.99 296.60,316.34 298.44,315.72 300.28,315.13 302.12,314.57 303.96,314.03 305.80,313.52 307.64,313.03 309.48,312.56 311.32,312.11 313.16,311.68 315.00,311.27 316.84,310.87 318.68,310.49 320.52,310.12 322.36,309.77 324.20,309.43 326.04,309.10 327.88,308.79 329.72,308.48 331.56,308.19 333.40,307.90" fill="none" stroke="#d24a4a" stroke-width="0.8" />
<polyline points="259.80,367.10 261.64,365.27 263.48,363.56 265.32,361.96 267.16,360.46 269.00,359.05 270.84,357.73 272.68,356.48 274.52,355.29 276.36,354.18 278.20,353.12 280.04,352.11 281.88,351.16 283.72,350.25 285.56,349.38 287.40,348.56 289.24,347.77 291.08,347.02 292.92,346.30 294.76,345.61 296.60,344.95 298.44,344.31 300.28,343.70 302.12,343.12 303.96,342.56 305.80,342.01 307.64,341.49 309.48,340.99 311.32,340.51 313.16,340.04 315.00,339.59 316.84,339.15 318.68,338.73 320.52,338.32 322.36,337.93 324.20,337.54 326.04,337.17 327.88,336.81 329.72,336.47 331.56,336.13 333.40,335.80" fill="none" stroke="#a744d8" stroke-width="0.8" stroke-dasharray="2.2,1"/>
<polyline points="259.80,374.00 261.64,372.06 263.48,370.27 265.32,368.60 267.16,367.04 269.00,365.59 270.84,364.23 272.68,362.96 274.52,361.76 276.36,360.63 278.20,359.57 280.04,358.56 281.88,357.61 283.72,356.71 285.56,355.85 287.40,355.04 289.24,354.26 291.08,353.53 292.92,352.82 294.76,352.15 296.60,351.51 298.44,350.89 300.28,350.31 302.12,349.74 303.96,349.20 305.80,348.68 307.64,348.18 309.48,347.70 311.32,347.24 313.16,346.80 315.00,346.37 316.84,345.95 318.68,345.55 320.52,345.17 322.36,344.80 324.20,344.44 326.04,344.09 327.88,343.75 329.72,343.42 331.56,343.11 333.40,342.80" fill="none" stroke="#a744d8" stroke-width="0.8" />
<polyline points="259.80,409.68 261.64,406.24 263.48,403.03 265.32,400.04 267.16,397.24 269.00,394.61 270.84,392.15 272.68,389.82 274.52,387.63 276.36,385.56 278.20,383.61 280.04,381.75 281.88,379.99 283.72,378.32 285.56,376.73 287.40,375.21 289.24,373.77 291.08,372.39 292.92,371.07 294.76,369.81 296.60,368.60 298.44,367.44 300.28,366.33 302.12,365.26 303.96,364.24 305.80,363.26 307.64,362.31 309.48,361.39 311.32,360.51 313.16,359.67 315.00,358.85 316.84,358.06 318.68,357.29 320.52,356.55 322.36,355.84 324.20,355.15 326.04,354.48 327.88,353.83 329.72,353.20 331.56,352.59 333.40,352.00" fill="none" stroke="#3c963c" stroke-width="0.8" stroke-dasharray="2.2,1"/>
<polyline points="259.80,433.73 261.64,428.26 263.48,423.34 265.32,418.90 267.16,414.85 269.00,411.16 270.84,407.78 272.68,404.66 274.52,401.79 276.36,399.13 278.20,396.66 280.04,394.36 281.88,392.22 283.72,390.21 285.56,388.33 287.40,386.56 289.24,384.90 291.08,383.33 292.92,381.85 294.76,380.45 296.60,379.12 298.44,377.86 300.28,376.67 302.12,375.53 303.96,374.45 305.80,373.41 307.64,372.43 309.48,371.49 311.32,370.59 313.16,369.72 315.00,368.90 316.84,368.10 318.68,367.34 320.52,366.61 322.36,365.91 324.20,365.23 326.04,364.58 327.88,363.95 329.72,363.35 331.56,362.76 333.40,362.20" fill="none" stroke="#3c963c" stroke-width="0.8" />
</g>
<rect x="259.8" y="295.9" width="73.59999999999997" height="85.5" fill="none" stroke="#707070" stroke-width="0.8"/>
<line x1="257.8" y1="363.8" x2="259.8" y2="363.8" stroke="#707070" stroke-width="0.6" />
<text x="257.2" y="366.3" font-size="7.2" fill="#1a1a1a" text-anchor="end" font-weight="normal" stroke="#1a1a1a" stroke-width="0.12">−5</text>
<line x1="257.8" y1="341.2" x2="259.8" y2="341.2" stroke="#707070" stroke-width="0.6" />
<text x="257.2" y="343.7" font-size="7.2" fill="#1a1a1a" text-anchor="end" font-weight="normal" stroke="#1a1a1a" stroke-width="0.12">0</text>
<line x1="257.8" y1="318.59999999999997" x2="259.8" y2="318.59999999999997" stroke="#707070" stroke-width="0.6" />
<text x="257.2" y="321.09999999999997" font-size="7.2" fill="#1a1a1a" text-anchor="end" font-weight="normal" stroke="#1a1a1a" stroke-width="0.12">5</text>
<line x1="257.8" y1="296.0" x2="259.8" y2="296.0" stroke="#707070" stroke-width="0.6" />
<text x="257.2" y="298.5" font-size="7.2" fill="#1a1a1a" text-anchor="end" font-weight="normal" stroke="#1a1a1a" stroke-width="0.12">10</text>
<line x1="274.52" y1="381.4" x2="274.52" y2="383.4" stroke="#707070" stroke-width="0.6" />
<text x="274.52" y="388.79999999999995" font-size="7.0" fill="#1a1a1a" text-anchor="middle" font-weight="normal" stroke="#1a1a1a" stroke-width="0.12">2000</text>
<line x1="303.96" y1="381.4" x2="303.96" y2="383.4" stroke="#707070" stroke-width="0.6" />
<text x="303.96" y="388.79999999999995" font-size="7.0" fill="#1a1a1a" text-anchor="middle" font-weight="normal" stroke="#1a1a1a" stroke-width="0.12">3000</text>
<line x1="333.4" y1="381.4" x2="333.4" y2="383.4" stroke="#707070" stroke-width="0.6" />
<text x="333.4" y="388.79999999999995" font-size="7.0" fill="#1a1a1a" text-anchor="middle" font-weight="normal" stroke="#1a1a1a" stroke-width="0.12">4000</text>
<text x="274.6" y="396.0" font-size="7.8" fill="#1a1a1a" stroke="#1a1a1a" stroke-width="0.1" textLength="44.4" lengthAdjust="spacingAndGlyphs" >Temperature [K]</text>
<text transform="translate(245.0,337.65) rotate(-90)" x="0" y="0" font-size="7.1" fill="#1a1a1a" text-anchor="middle" stroke="#1a1a1a" stroke-width="0.12">log(V<tspan font-size="5" font-style="italic" dy="1.3">p</tspan><tspan dy="-1.3">) [atm]</tspan></text>
<text x="258.1" y="293.5" font-size="8.6" fill="#111" stroke="#111" stroke-width="0.12" textLength="76.5" lengthAdjust="spacingAndGlyphs" >Partial Vapour Pressures</text>
<text x="322.7" y="306.3" font-size="7.4" fill="#3535d0" stroke="#3535d0" stroke-width="0.18">Ni</text>
<text x="322.7" y="316.6" font-size="7.4" fill="#d24a4a" stroke="#d24a4a" stroke-width="0.18">Fe</text>
<text x="321.5" y="351" font-size="7.4" fill="#a744d8" stroke="#a744d8" stroke-width="0.18">Cr</text>
<text x="322.5" y="370.6" font-size="7.4" fill="#3c963c" stroke="#3c963c" stroke-width="0.18">Mo</text>
<text x="303.5" y="325.2" font-size="7.2" fill="#111" stroke="#111" stroke-width="0.12">T<tspan font-size="4.3" dy="1.6">b, IN625</tspan></text>
<text x="262.2" y="377.4" font-size="7.2" fill="#111" stroke="#111" stroke-width="0.12">T<tspan font-size="4.3" dy="1.6">m, IN625</tspan></text>
<text x="247.3" y="291.6" font-size="10.5" fill="#000" text-anchor="start" font-weight="bold" >h</text>
</svg></body></html>
